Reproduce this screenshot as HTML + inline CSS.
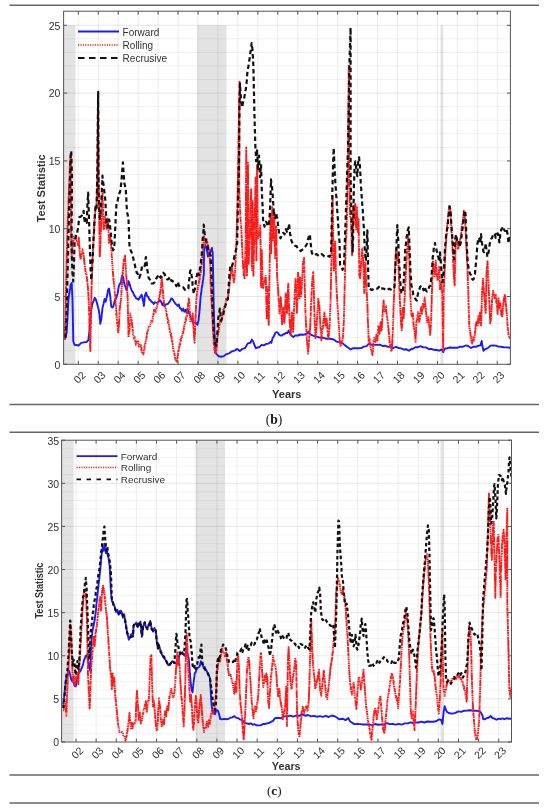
<!DOCTYPE html>
<html><head><meta charset="utf-8"><style>
html,body{margin:0;padding:0;background:#fff;}
body{width:550px;height:810px;overflow:hidden;}
svg{display:block;filter:blur(0.3px);}
text{font-family:"Liberation Sans",sans-serif;fill:#333;}
.tl{font-size:10px;}
.yl{font-size:10.5px;}
.lg{font-size:10px;}
.ax{font-size:10.5px;font-weight:bold;}
.cap{font-family:"Liberation Serif",serif;fill:#1a1a1a;}
</style></head><body>
<svg width="550" height="810" viewBox="0 0 550 810">
<defs>
<clipPath id="clipc1"><rect x="63.6" y="11.2" width="446.80" height="353.10"/></clipPath>
<clipPath id="clipc2"><rect x="61.6" y="440.2" width="449.90" height="301.80"/></clipPath>
</defs>
<rect width="550" height="810" fill="#fff"/>
<line x1="9.5" x2="539" y1="5.3" y2="5.3" stroke="#666" stroke-width="1.4"/>
<line x1="9.5" x2="539" y1="404.5" y2="404.5" stroke="#666" stroke-width="1.4"/>
<line x1="9.5" x2="539" y1="432.3" y2="432.3" stroke="#666" stroke-width="1.4"/>
<line x1="9.5" x2="539" y1="775" y2="775" stroke="#666" stroke-width="1.4"/>
<line x1="9.5" x2="539" y1="803" y2="803" stroke="#666" stroke-width="1.4"/>
<rect x="63.6" y="25.30" width="11.90" height="339.00" fill="#e3e3e3"/>
<rect x="197.2" y="25.30" width="29.30" height="339.00" fill="#e3e3e3"/>
<rect x="440.5" y="25.30" width="2.80" height="339.00" fill="#e3e3e3"/>
<line x1="63.6" x2="510.4" y1="350.74" y2="350.74" stroke="#000" stroke-opacity="0.065" stroke-width="0.9"/>
<line x1="63.6" x2="510.4" y1="337.18" y2="337.18" stroke="#000" stroke-opacity="0.065" stroke-width="0.9"/>
<line x1="63.6" x2="510.4" y1="323.62" y2="323.62" stroke="#000" stroke-opacity="0.065" stroke-width="0.9"/>
<line x1="63.6" x2="510.4" y1="310.06" y2="310.06" stroke="#000" stroke-opacity="0.065" stroke-width="0.9"/>
<line x1="63.6" x2="510.4" y1="296.50" y2="296.50" stroke="#000" stroke-opacity="0.1" stroke-width="0.9"/>
<line x1="63.6" x2="510.4" y1="282.94" y2="282.94" stroke="#000" stroke-opacity="0.065" stroke-width="0.9"/>
<line x1="63.6" x2="510.4" y1="269.38" y2="269.38" stroke="#000" stroke-opacity="0.065" stroke-width="0.9"/>
<line x1="63.6" x2="510.4" y1="255.82" y2="255.82" stroke="#000" stroke-opacity="0.065" stroke-width="0.9"/>
<line x1="63.6" x2="510.4" y1="242.26" y2="242.26" stroke="#000" stroke-opacity="0.065" stroke-width="0.9"/>
<line x1="63.6" x2="510.4" y1="228.70" y2="228.70" stroke="#000" stroke-opacity="0.1" stroke-width="0.9"/>
<line x1="63.6" x2="510.4" y1="215.14" y2="215.14" stroke="#000" stroke-opacity="0.065" stroke-width="0.9"/>
<line x1="63.6" x2="510.4" y1="201.58" y2="201.58" stroke="#000" stroke-opacity="0.065" stroke-width="0.9"/>
<line x1="63.6" x2="510.4" y1="188.02" y2="188.02" stroke="#000" stroke-opacity="0.065" stroke-width="0.9"/>
<line x1="63.6" x2="510.4" y1="174.46" y2="174.46" stroke="#000" stroke-opacity="0.065" stroke-width="0.9"/>
<line x1="63.6" x2="510.4" y1="160.90" y2="160.90" stroke="#000" stroke-opacity="0.1" stroke-width="0.9"/>
<line x1="63.6" x2="510.4" y1="147.34" y2="147.34" stroke="#000" stroke-opacity="0.065" stroke-width="0.9"/>
<line x1="63.6" x2="510.4" y1="133.78" y2="133.78" stroke="#000" stroke-opacity="0.065" stroke-width="0.9"/>
<line x1="63.6" x2="510.4" y1="120.22" y2="120.22" stroke="#000" stroke-opacity="0.065" stroke-width="0.9"/>
<line x1="63.6" x2="510.4" y1="106.66" y2="106.66" stroke="#000" stroke-opacity="0.065" stroke-width="0.9"/>
<line x1="63.6" x2="510.4" y1="93.10" y2="93.10" stroke="#000" stroke-opacity="0.1" stroke-width="0.9"/>
<line x1="63.6" x2="510.4" y1="79.54" y2="79.54" stroke="#000" stroke-opacity="0.065" stroke-width="0.9"/>
<line x1="63.6" x2="510.4" y1="65.98" y2="65.98" stroke="#000" stroke-opacity="0.065" stroke-width="0.9"/>
<line x1="63.6" x2="510.4" y1="52.42" y2="52.42" stroke="#000" stroke-opacity="0.065" stroke-width="0.9"/>
<line x1="63.6" x2="510.4" y1="38.86" y2="38.86" stroke="#000" stroke-opacity="0.065" stroke-width="0.9"/>
<line x1="63.6" x2="510.4" y1="25.30" y2="25.30" stroke="#000" stroke-opacity="0.1" stroke-width="0.9"/>
<line x1="63.6" x2="510.4" y1="11.74" y2="11.74" stroke="#000" stroke-opacity="0.065" stroke-width="0.9"/>
<line x1="78.30" x2="78.30" y1="11.2" y2="364.3" stroke="#000" stroke-opacity="0.085" stroke-width="0.9"/>
<line x1="98.25" x2="98.25" y1="11.2" y2="364.3" stroke="#000" stroke-opacity="0.085" stroke-width="0.9"/>
<line x1="118.20" x2="118.20" y1="11.2" y2="364.3" stroke="#000" stroke-opacity="0.085" stroke-width="0.9"/>
<line x1="138.15" x2="138.15" y1="11.2" y2="364.3" stroke="#000" stroke-opacity="0.085" stroke-width="0.9"/>
<line x1="158.10" x2="158.10" y1="11.2" y2="364.3" stroke="#000" stroke-opacity="0.085" stroke-width="0.9"/>
<line x1="178.05" x2="178.05" y1="11.2" y2="364.3" stroke="#000" stroke-opacity="0.085" stroke-width="0.9"/>
<line x1="198.00" x2="198.00" y1="11.2" y2="364.3" stroke="#000" stroke-opacity="0.085" stroke-width="0.9"/>
<line x1="217.95" x2="217.95" y1="11.2" y2="364.3" stroke="#000" stroke-opacity="0.085" stroke-width="0.9"/>
<line x1="237.90" x2="237.90" y1="11.2" y2="364.3" stroke="#000" stroke-opacity="0.085" stroke-width="0.9"/>
<line x1="257.85" x2="257.85" y1="11.2" y2="364.3" stroke="#000" stroke-opacity="0.085" stroke-width="0.9"/>
<line x1="277.80" x2="277.80" y1="11.2" y2="364.3" stroke="#000" stroke-opacity="0.085" stroke-width="0.9"/>
<line x1="297.75" x2="297.75" y1="11.2" y2="364.3" stroke="#000" stroke-opacity="0.085" stroke-width="0.9"/>
<line x1="317.70" x2="317.70" y1="11.2" y2="364.3" stroke="#000" stroke-opacity="0.085" stroke-width="0.9"/>
<line x1="337.65" x2="337.65" y1="11.2" y2="364.3" stroke="#000" stroke-opacity="0.085" stroke-width="0.9"/>
<line x1="357.60" x2="357.60" y1="11.2" y2="364.3" stroke="#000" stroke-opacity="0.085" stroke-width="0.9"/>
<line x1="377.55" x2="377.55" y1="11.2" y2="364.3" stroke="#000" stroke-opacity="0.085" stroke-width="0.9"/>
<line x1="397.50" x2="397.50" y1="11.2" y2="364.3" stroke="#000" stroke-opacity="0.085" stroke-width="0.9"/>
<line x1="417.45" x2="417.45" y1="11.2" y2="364.3" stroke="#000" stroke-opacity="0.085" stroke-width="0.9"/>
<line x1="437.40" x2="437.40" y1="11.2" y2="364.3" stroke="#000" stroke-opacity="0.085" stroke-width="0.9"/>
<line x1="457.35" x2="457.35" y1="11.2" y2="364.3" stroke="#000" stroke-opacity="0.085" stroke-width="0.9"/>
<line x1="477.30" x2="477.30" y1="11.2" y2="364.3" stroke="#000" stroke-opacity="0.085" stroke-width="0.9"/>
<line x1="497.25" x2="497.25" y1="11.2" y2="364.3" stroke="#000" stroke-opacity="0.085" stroke-width="0.9"/>
<g clip-path="url(#clipc1)">
<polyline points="64.8,339.5 65.7,336.7 66.6,332.8 66.8,330.7 66.9,327.5 67.1,325.5 67.2,322.3 67.4,320.2 67.5,317.0 67.6,314.9 67.8,311.7 67.9,309.5 68.1,306.3 68.2,304.4 68.3,301.1 68.5,298.9 68.9,295.6 69.3,293.8 69.8,290.3 70.2,288.4 70.6,284.9 71.7,282.9 71.8,284.9 71.9,288.3 72.1,290.5 72.2,293.6 72.3,295.7 72.5,299.1 72.5,301.1 72.6,304.3 72.6,306.2 72.7,309.6 72.7,311.6 72.8,314.8 72.8,317.0 72.9,320.2 72.9,322.1 73.0,325.5 73.0,327.6 73.1,330.9 73.1,332.8 73.2,336.1 73.2,338.0 73.3,341.5 74.6,344.8 78.6,345.5 81.2,342.9 83.9,342.4 86.5,342.0 88.4,340.1 88.7,336.7 89.0,334.8 89.4,331.7 89.5,329.9 89.7,326.7 89.9,324.7 90.1,321.6 90.3,319.7 90.5,316.3 90.8,314.2 91.2,310.4 91.5,308.3 92.6,303.2 93.7,300.7 94.8,297.8 95.9,299.6 97.0,303.2 98.1,307.4 98.6,309.3 99.2,312.8 99.5,314.9 99.7,318.2 100.0,320.2 100.3,323.8 101.4,318.5 101.6,316.5 101.9,313.1 102.2,311.1 102.5,307.8 103.5,304.0 104.6,299.0 105.7,301.7 106.8,296.9 107.4,294.3 107.9,290.3 109.0,288.6 109.5,291.3 110.1,295.4 110.4,297.4 110.6,300.7 110.9,302.7 111.2,306.3 112.3,307.6 113.4,306.3 114.5,301.2 115.5,299.6 116.6,296.8 117.7,293.2 118.3,289.0 118.8,286.4 119.9,283.7 121.0,282.1 121.5,278.3 122.1,275.6 123.2,277.1 123.7,281.0 124.3,283.8 125.4,286.5 126.5,290.2 127.5,286.5 128.6,281.3 129.7,284.4 130.8,288.0 131.9,290.9 133.0,292.3 134.1,295.1 135.2,296.6 136.3,298.6 137.4,298.8 138.5,299.7 139.6,297.9 140.6,296.3 141.7,294.7 142.8,299.7 143.4,302.3 143.9,306.0 144.2,302.8 144.5,300.6 144.7,297.3 145.0,295.1 146.1,292.5 147.2,296.2 148.3,296.9 149.4,299.6 150.5,300.2 151.6,301.9 152.6,302.2 153.7,303.9 154.8,302.3 157.0,302.9 159.2,301.2 160.3,300.6 161.4,302.1 162.5,305.2 163.6,303.3 164.6,306.2 165.7,304.5 167.9,303.9 170.1,301.2 171.2,298.5 172.3,298.8 173.4,300.6 174.5,302.3 175.6,304.1 176.6,304.4 177.7,306.1 178.8,304.4 179.9,308.2 181.0,308.7 182.1,310.7 183.2,308.6 184.3,311.7 185.4,309.9 186.5,312.7 187.6,308.8 188.6,312.8 189.7,314.2 190.8,317.2 191.9,319.7 193.0,322.5 194.1,322.8 195.2,322.7 196.3,322.8 197.4,324.8 198.5,320.7 198.7,318.8 199.0,315.4 199.3,313.3 199.6,309.9 199.8,307.8 200.0,304.7 200.2,302.6 200.4,299.4 200.6,297.5 201.0,293.7 201.4,291.6 201.7,287.9 202.3,285.6 202.8,281.3 203.2,279.2 203.6,275.7 203.9,273.4 203.9,270.1 203.9,267.8 203.9,264.4 203.9,262.5 204.0,258.8 204.0,256.8 204.0,253.3 204.0,251.3 204.6,248.0 205.3,246.0 206.6,247.7 207.1,251.3 207.5,253.1 208.0,256.5 209.3,253.3 210.6,251.3 211.9,247.9 212.3,251.3 212.7,253.0 212.8,256.5 212.8,258.5 212.9,262.0 212.9,263.7 213.0,267.1 213.0,269.2 213.1,272.4 213.1,274.3 213.2,277.9 213.2,279.8 213.3,283.2 213.3,284.9 213.4,288.4 213.4,290.4 213.5,293.7 213.5,295.8 213.6,298.9 213.6,300.8 213.7,304.4 213.7,306.3 213.8,309.8 213.9,311.6 214.0,315.0 214.0,316.8 214.1,320.2 214.2,322.3 214.3,325.5 214.4,327.6 214.4,330.9 214.5,332.9 214.6,336.1 214.7,338.2 214.9,341.6 215.0,343.5 215.1,346.8 215.3,348.7 215.4,352.2 216.5,354.1 218.6,356.2 221.2,356.7 223.9,356.1 226.6,354.1 229.2,353.3 231.9,351.4 234.5,350.7 237.2,348.9 239.8,350.9 242.5,348.8 245.1,348.1 247.8,343.4 250.4,342.8 251.8,339.5 253.1,341.5 254.4,344.8 255.8,348.2 257.9,347.5 259.7,346.8 261.6,344.8 263.7,345.4 266.4,343.9 268.5,343.6 270.4,342.1 271.3,342.9 272.6,338.0 274.0,336.2 275.3,332.8 276.6,332.2 278.0,332.8 279.3,334.9 280.6,335.5 281.9,335.6 283.3,334.2 284.6,334.2 285.9,332.8 287.3,333.1 288.6,330.6 289.9,333.4 291.2,335.5 293.4,337.1 295.2,335.4 297.9,335.5 300.5,334.5 303.2,334.8 305.8,334.3 307.2,333.4 308.5,331.6 309.8,334.1 312.5,335.4 315.1,336.3 317.8,336.9 320.4,337.8 323.1,337.6 325.8,338.7 328.4,338.5 331.1,339.0 333.7,339.5 336.4,341.6 339.0,342.1 341.7,343.3 342.6,343.3 345.3,345.6 348.0,347.5 350.6,349.4 353.3,348.2 355.9,348.1 358.6,348.3 361.2,348.1 363.9,346.6 366.6,346.1 369.2,343.4 371.9,344.9 374.5,344.9 377.2,344.9 379.8,344.7 382.5,346.0 385.1,345.7 387.8,346.9 390.4,346.5 393.1,348.3 395.8,346.7 398.4,348.0 401.1,348.4 403.7,349.5 406.4,349.3 409.0,350.7 411.7,348.8 412.6,349.0 415.3,347.3 418.0,347.2 420.6,346.2 423.3,347.4 425.9,347.4 428.6,349.0 431.2,348.9 433.9,349.8 436.6,350.0 439.2,350.7 441.9,349.4 443.2,352.2 444.5,348.7 447.2,348.2 449.8,347.5 452.5,347.7 455.1,347.6 457.8,347.7 460.4,346.6 463.1,346.7 465.8,345.5 467.1,345.6 468.4,346.2 471.1,348.0 473.7,346.6 476.4,346.7 478.5,345.7 480.4,345.4 481.7,340.9 482.1,344.0 482.5,346.1 483.5,350.7 485.1,349.2 487.8,348.1 490.4,345.6 493.1,345.4 495.8,345.6 498.4,346.6 501.1,346.7 503.7,347.2 506.4,347.4 510.4,347.8" fill="none" stroke="#1a1aff" stroke-width="1.9" stroke-linejoin="round"/>
<polyline points="64.8,338.7 64.8,339.8 64.9,335.5 64.9,336.8 64.9,332.2 65.0,333.1 65.0,329.9 65.0,331.1 65.1,326.6 65.1,327.3 65.1,322.7 65.2,324.6 65.2,319.9 65.3,321.6 65.3,317.1 65.3,318.2 65.4,314.1 65.4,316.0 65.4,311.2 65.5,312.8 65.5,308.0 65.5,309.0 65.6,304.9 65.6,306.6 65.7,302.4 65.7,302.9 65.7,298.7 65.8,300.4 65.8,295.9 65.8,297.9 65.9,292.9 65.9,294.9 65.9,290.2 66.0,291.8 66.0,287.2 66.1,288.9 66.1,283.6 66.1,284.9 66.2,281.5 66.2,282.0 66.2,277.5 66.3,279.3 66.3,274.9 66.3,276.1 66.4,272.0 66.4,273.2 66.4,269.2 66.5,270.4 66.5,265.9 66.6,267.7 66.6,262.7 66.6,264.8 66.7,259.5 66.7,261.8 66.7,256.7 66.8,257.8 66.8,253.5 66.8,255.7 66.9,250.4 66.9,252.3 67.0,247.6 67.0,248.8 67.0,244.4 67.1,246.2 67.1,242.1 67.1,242.6 67.2,238.4 67.2,240.7 67.2,236.3 67.3,237.4 67.3,232.9 67.4,233.6 67.4,230.0 67.4,231.4 67.5,226.3 67.5,227.5 67.6,223.6 67.7,224.5 67.7,220.5 67.8,221.8 67.8,217.3 67.9,219.6 68.0,214.7 68.0,216.6 68.1,212.0 68.1,212.5 68.2,208.6 68.2,209.5 68.3,206.1 68.4,206.9 68.4,202.6 68.5,203.6 68.5,200.3 68.6,201.5 68.6,197.0 68.7,198.6 68.8,193.3 68.8,194.9 68.9,190.8 68.9,192.1 69.0,187.6 69.0,189.1 69.1,184.7 69.2,186.2 69.2,181.2 69.3,183.0 69.3,178.8 69.4,180.3 69.5,176.0 69.5,176.8 69.6,172.2 69.6,174.0 69.7,169.7 69.7,170.4 69.8,166.8 69.9,168.1 69.9,164.3 70.0,165.2 70.0,160.6 70.1,161.5 70.3,157.5 70.4,158.9 70.6,154.4 70.6,158.7 70.6,157.4 70.6,162.2 70.6,161.2 70.6,164.4 70.7,163.5 70.7,168.6 70.7,167.0 70.7,171.0 70.7,169.6 70.7,173.8 70.7,172.9 70.7,176.9 70.7,176.0 70.7,180.2 70.7,179.1 70.8,183.0 70.8,181.5 70.8,185.6 70.8,184.8 70.8,189.5 70.8,188.1 70.8,191.9 70.8,190.6 70.8,194.9 70.8,194.3 70.8,198.2 70.9,196.8 70.9,200.8 70.9,200.2 70.9,204.1 70.9,202.6 70.9,207.3 70.9,205.6 70.9,210.0 70.9,209.3 70.9,213.6 71.0,211.7 71.0,216.4 71.0,215.5 71.0,219.0 71.0,218.1 71.0,222.1 71.0,220.8 71.0,225.9 71.0,224.6 71.0,228.3 71.0,226.9 71.1,231.8 71.1,229.9 71.1,234.4 71.1,233.8 71.2,237.4 71.2,236.1 71.3,240.5 71.3,239.7 71.3,243.8 71.4,242.7 71.4,246.8 71.5,245.2 71.5,249.6 71.6,249.4 71.6,253.7 71.7,251.4 71.7,256.8 71.9,251.9 72.0,253.7 72.2,248.3 72.3,249.7 72.5,245.4 72.6,247.4 72.8,242.4 73.1,243.8 73.3,239.6 73.6,240.4 73.9,236.5 75.0,236.3 76.0,236.0 76.6,240.8 77.1,240.1 77.7,244.9 78.2,244.3 78.4,246.2 78.5,241.0 78.7,243.2 78.8,237.8 79.0,242.7 79.1,242.0 79.2,246.0 79.3,244.9 79.5,248.6 79.6,247.4 79.7,251.9 79.9,250.9 80.1,255.9 80.2,254.1 80.4,258.6 80.6,258.0 81.0,258.8 81.4,253.4 82.0,254.4 82.5,249.3 83.1,253.7 83.6,253.4 83.8,258.1 83.9,256.9 84.1,261.2 84.2,259.1 84.4,264.3 84.5,262.3 84.7,266.4 85.0,265.7 85.2,270.7 85.5,269.6 85.8,273.2 86.3,273.1 86.8,277.8 87.0,276.6 87.1,280.9 87.3,279.3 87.5,283.4 87.6,283.3 87.8,286.6 87.9,286.3 88.0,289.6 88.1,288.3 88.2,293.6 88.3,292.4 88.4,296.2 88.4,295.1 88.5,299.0 88.6,298.1 88.7,302.4 88.8,300.8 88.8,305.1 88.9,304.4 88.9,308.1 89.0,307.5 89.0,311.4 89.1,309.8 89.1,314.3 89.2,313.6 89.2,317.1 89.3,316.3 89.3,320.6 89.4,318.9 89.4,323.4 89.5,321.9 89.5,326.8 89.6,325.4 89.7,329.5 89.7,328.4 89.7,333.0 89.8,331.6 89.8,336.1 89.9,334.6 89.9,338.6 90.0,337.6 90.0,342.2 90.1,341.3 90.1,345.0 90.2,343.9 90.2,348.6 90.3,346.4 90.3,351.1 90.3,346.5 90.4,348.6 90.4,344.2 90.4,345.2 90.5,341.4 90.5,342.6 90.5,337.7 90.6,339.6 90.6,334.5 90.6,336.3 90.7,331.5 90.7,333.2 90.7,329.3 90.8,330.2 90.8,326.4 90.8,326.6 90.9,322.4 90.9,323.5 90.9,320.2 91.0,320.5 91.0,316.2 91.0,317.5 91.0,314.2 91.1,315.3 91.1,311.0 91.1,312.2 91.2,307.2 91.2,309.1 91.2,303.8 91.3,305.7 91.3,300.9 91.3,301.9 91.4,297.8 91.4,299.4 91.4,294.8 91.4,295.9 91.5,291.7 91.5,293.8 91.5,289.4 91.6,289.9 91.6,285.7 91.6,287.5 91.7,283.0 91.7,283.6 91.8,279.9 91.8,281.0 91.9,276.2 91.9,277.7 92.0,273.6 92.0,274.6 92.1,270.6 92.1,271.5 92.1,267.8 92.2,268.6 92.2,263.6 92.3,265.4 92.4,260.8 92.5,262.0 92.5,257.8 92.6,259.6 92.7,254.7 92.8,256.2 92.9,251.9 92.9,253.3 93.0,248.3 93.1,249.6 93.2,246.2 93.2,247.3 93.3,242.1 93.4,243.9 93.5,239.6 93.6,241.0 93.6,236.8 93.7,237.4 93.8,233.7 93.9,234.7 93.9,230.5 94.0,231.2 94.1,226.9 94.2,229.0 94.2,224.3 94.3,225.6 94.4,221.1 94.5,222.7 94.6,217.9 94.7,219.0 94.8,215.3 94.9,215.7 95.0,212.0 95.2,213.1 95.3,209.3 95.4,210.0 95.5,206.1 96.1,206.9 96.6,202.1 96.7,203.5 96.7,198.6 96.7,200.0 96.8,195.5 96.8,197.1 96.8,192.0 96.9,193.7 96.9,189.3 96.9,190.8 97.0,185.8 97.0,187.3 97.0,182.8 97.1,184.9 97.1,180.1 97.1,180.9 97.2,177.2 97.2,178.4 97.2,173.6 97.3,175.6 97.3,170.3 97.3,171.7 97.4,168.0 97.4,168.6 97.4,164.9 97.4,166.0 97.5,161.0 97.5,163.2 97.5,158.7 97.5,160.1 97.5,155.6 97.5,156.5 97.5,152.0 97.5,153.1 97.6,149.7 97.6,150.9 97.6,146.4 97.6,147.3 97.6,143.0 97.6,144.6 97.6,140.6 97.6,141.1 97.6,137.1 97.7,138.2 97.7,134.3 97.7,135.3 97.7,130.3 97.7,132.0 97.7,127.7 97.7,128.6 97.7,125.0 97.8,126.2 97.8,122.1 97.8,123.4 97.8,118.1 97.8,119.4 97.8,115.0 97.8,116.7 97.8,112.2 97.9,114.1 97.9,109.7 97.9,110.9 97.9,106.2 97.9,108.0 97.9,103.6 97.9,104.9 97.9,99.7 98.0,101.7 98.0,97.1 98.0,98.0 98.0,94.1 98.0,95.2 98.0,93.9 98.0,98.7 98.0,97.1 98.0,101.1 98.1,100.0 98.1,104.7 98.1,103.6 98.1,108.0 98.1,106.1 98.1,110.2 98.1,108.8 98.1,113.2 98.2,112.6 98.2,117.0 98.2,115.3 98.2,119.8 98.2,118.3 98.2,122.7 98.2,121.7 98.2,125.4 98.3,125.1 98.3,129.1 98.3,127.3 98.3,132.0 98.3,130.3 98.3,134.8 98.3,133.9 98.3,137.8 98.3,136.3 98.4,140.5 98.4,139.7 98.4,143.8 98.4,142.5 98.4,146.9 98.4,146.0 98.4,150.0 98.4,148.8 98.5,153.5 98.5,152.1 98.5,156.7 98.5,155.4 98.5,159.0 98.5,158.5 98.5,161.9 98.5,160.7 98.6,165.6 98.6,164.5 98.6,168.0 98.6,167.2 98.6,171.7 98.6,169.8 98.6,174.8 98.6,173.1 98.7,177.1 98.7,176.4 98.7,180.2 98.7,179.3 98.7,183.7 98.7,182.7 98.7,186.4 98.7,185.0 98.7,189.1 98.8,188.1 98.8,193.2 98.8,190.9 98.8,195.6 98.9,194.4 98.9,198.9 98.9,197.3 98.9,202.4 99.0,200.3 99.0,204.6 99.0,203.1 99.0,207.8 99.0,206.4 99.1,211.1 99.1,210.1 99.1,214.2 99.1,212.4 99.2,216.9 99.2,215.5 99.2,219.8 99.2,219.0 99.3,222.9 99.3,222.2 99.3,225.9 99.3,224.4 99.4,228.9 99.4,227.6 99.4,232.5 99.4,230.2 99.5,234.5 99.5,233.3 99.5,238.1 99.5,237.2 99.6,240.8 99.6,240.0 99.6,243.5 99.6,242.7 99.7,247.5 99.7,246.0 99.7,250.5 99.7,248.5 99.7,252.6 99.8,251.3 99.8,256.2 99.8,254.3 99.9,256.3 99.9,251.5 100.0,252.9 100.1,248.4 100.1,250.5 100.2,245.3 100.3,246.9 100.3,242.3 100.4,243.9 100.5,240.1 100.5,240.4 100.6,237.1 100.6,237.5 100.7,234.0 100.8,234.8 100.8,230.3 100.9,231.8 101.0,227.6 101.0,228.9 101.1,224.7 101.2,225.7 101.2,221.1 101.3,222.6 101.3,218.8 101.4,220.1 101.5,215.1 101.5,216.5 101.6,212.5 101.7,213.6 101.7,209.2 101.8,210.2 101.8,206.8 101.9,207.2 102.0,202.9 102.0,204.1 102.1,200.2 102.2,201.1 102.2,197.5 102.3,198.0 102.3,194.2 102.4,195.0 102.5,191.6 102.5,195.0 102.6,194.6 102.6,198.5 102.7,197.8 102.7,201.0 102.8,200.4 102.9,204.6 102.9,203.2 103.0,207.3 103.0,206.7 103.1,210.8 103.1,210.2 103.2,214.6 103.2,213.1 103.3,216.6 103.4,215.9 103.4,219.8 103.5,218.8 103.5,223.1 103.6,222.5 103.6,225.9 103.7,224.9 103.7,229.2 103.8,227.9 104.0,229.3 104.1,224.4 104.3,225.8 104.5,221.9 104.6,222.5 104.8,217.9 105.0,219.6 105.1,215.2 105.3,218.9 105.5,218.1 105.6,223.3 105.8,221.5 106.0,225.5 106.1,225.5 106.3,228.9 106.5,228.6 106.6,229.0 106.8,225.7 107.0,226.7 107.2,221.7 107.4,223.1 107.6,218.6 107.8,220.4 107.9,218.8 108.0,224.1 108.0,221.9 108.1,226.2 108.2,225.8 108.3,230.1 108.4,228.2 108.5,232.7 108.6,232.2 108.7,236.8 108.8,235.6 108.8,239.4 108.9,238.5 109.0,242.9 109.1,241.0 109.4,242.3 109.6,238.0 109.9,239.8 110.2,234.7 110.4,236.4 110.5,234.6 110.6,239.2 110.7,238.2 110.8,242.1 110.9,240.8 111.0,245.4 111.1,244.4 111.2,248.1 111.3,246.9 111.4,251.6 111.5,250.0 111.6,254.4 111.7,253.3 111.8,257.2 111.9,256.1 112.0,260.1 112.1,259.5 112.2,264.1 112.3,262.3 112.4,266.4 112.5,265.9 112.7,270.4 112.8,268.6 112.9,273.5 113.0,271.4 113.1,276.1 113.3,274.6 113.4,279.8 113.6,278.5 113.8,282.6 113.9,282.2 114.1,286.0 114.3,284.4 114.4,289.0 114.6,288.2 114.7,292.2 114.8,291.9 115.0,296.0 115.1,294.9 115.2,298.5 115.4,298.2 115.5,302.4 115.6,300.9 115.8,304.8 115.9,304.4 116.0,309.0 116.1,307.6 116.2,311.6 116.3,310.4 116.4,315.0 116.5,313.3 116.6,318.1 116.7,316.5 116.8,320.5 117.0,320.0 117.1,323.4 117.3,322.3 117.5,326.5 117.6,326.3 117.8,330.6 118.0,329.1 118.2,333.5 118.4,332.3 118.5,332.9 118.6,328.9 118.7,330.2 118.8,325.3 118.8,326.8 118.9,321.9 119.0,323.9 119.1,319.2 119.2,320.4 119.3,315.9 119.4,316.6 119.5,312.3 119.6,314.0 119.6,309.1 119.7,310.3 119.9,306.3 120.1,307.6 120.3,303.1 120.5,304.1 120.7,300.5 120.9,301.6 121.1,297.8 121.2,298.6 121.2,293.9 121.3,295.4 121.4,291.0 121.5,292.6 121.6,288.5 121.7,289.3 121.8,284.5 121.9,286.2 122.0,282.2 122.1,282.9 122.2,279.4 122.3,279.9 122.4,275.5 122.5,277.5 122.6,272.4 122.8,274.6 122.9,269.5 123.0,271.4 123.2,266.4 123.3,267.6 123.4,262.7 123.6,265.0 123.7,259.6 124.2,261.1 124.6,256.2 125.0,257.5 125.1,255.7 125.2,261.1 125.3,259.6 125.4,264.2 125.5,262.8 125.6,266.2 125.7,265.1 125.8,269.5 125.9,268.4 126.0,272.9 126.1,272.0 126.2,276.1 126.3,274.8 126.4,278.7 126.5,277.7 126.6,282.1 126.7,280.3 126.7,284.6 126.8,284.1 126.9,287.7 127.0,286.7 127.1,290.5 127.2,290.1 127.3,294.3 127.4,292.5 127.5,297.6 127.6,295.2 127.7,300.5 127.7,299.0 127.8,302.8 127.8,302.1 127.8,306.2 127.9,305.0 127.9,309.4 127.9,308.3 128.0,312.9 128.0,311.5 128.0,315.5 128.1,313.8 128.1,319.0 128.1,317.6 128.2,321.4 128.2,320.1 128.2,324.2 128.3,324.0 128.3,328.0 128.3,326.6 128.4,330.6 128.4,330.3 128.4,333.8 128.5,332.5 128.5,337.2 128.8,332.1 129.2,334.0 129.6,328.5 129.6,329.8 129.7,326.3 129.8,326.5 129.9,322.8 129.9,323.8 130.0,320.1 130.1,320.8 130.2,316.9 130.3,317.4 130.3,313.5 130.8,318.1 131.2,316.8 131.7,321.0 131.8,320.7 132.0,324.5 132.2,323.3 132.3,328.1 132.5,326.3 132.7,331.6 132.8,330.4 133.0,334.1 133.2,334.1 134.0,338.9 134.8,337.1 135.1,342.0 135.5,340.6 135.8,344.9 136.6,341.5 137.4,342.0 138.1,341.3 138.7,346.5 139.3,344.6 140.6,346.5 141.0,345.2 141.3,350.3 141.6,348.3 141.9,353.3 143.3,353.1 143.5,354.2 143.8,350.2 144.1,350.6 144.3,346.4 144.6,348.4 145.0,343.2 145.5,344.2 145.9,339.9 146.2,340.9 146.5,336.2 146.7,337.7 147.0,332.8 147.3,334.2 147.7,330.2 148.1,331.1 148.6,326.6 149.9,327.0 151.2,320.8 152.6,321.8 152.8,316.6 153.1,317.2 153.4,313.1 153.7,314.3 154.1,309.7 154.4,310.4 155.2,310.3 155.7,312.1 156.1,307.5 156.6,308.2 157.9,302.7 158.3,303.6 158.8,298.6 159.2,300.6 159.5,295.5 159.7,296.5 160.0,292.0 160.3,293.3 160.5,289.4 160.7,290.9 160.8,286.3 161.0,287.0 161.2,282.4 161.3,284.7 161.5,279.8 161.7,280.5 161.9,276.3 162.0,279.9 162.1,279.4 162.2,283.9 162.3,282.6 162.4,286.1 162.5,285.5 162.7,288.9 162.8,288.1 162.9,292.8 163.0,290.8 163.1,295.7 163.2,293.8 163.3,297.9 163.4,297.5 163.7,302.2 163.9,301.0 164.1,304.6 164.3,303.6 164.5,307.7 165.8,307.8 166.1,311.7 166.4,311.4 166.6,316.0 166.9,314.7 167.2,319.1 167.6,318.0 168.0,322.8 168.5,320.9 168.8,325.7 169.0,324.8 169.3,328.2 169.6,327.2 169.8,331.5 170.3,331.3 170.7,335.8 171.2,334.0 171.4,338.3 171.7,337.1 171.9,342.0 172.2,340.9 172.5,344.7 172.7,344.1 173.0,349.0 173.3,347.4 173.5,351.1 173.8,350.8 174.2,354.5 174.7,354.1 175.1,359.0 175.6,357.9 176.0,361.6 176.5,360.4 177.2,361.7 177.5,356.2 177.7,357.6 177.9,353.7 178.1,355.3 178.3,350.4 178.7,351.6 179.0,347.0 179.4,347.3 179.7,343.5 180.1,344.6 180.4,339.4 180.9,340.8 181.3,336.2 181.8,337.3 183.1,331.8 183.4,333.0 183.6,328.2 183.9,329.4 184.2,325.3 184.4,327.1 184.9,321.6 185.3,322.7 185.8,317.9 186.2,319.9 186.6,315.4 187.1,315.7 187.2,312.0 187.4,312.3 187.6,307.8 187.7,309.5 187.9,304.8 188.1,306.0 188.3,302.6 188.5,303.7 188.7,298.5 188.9,300.6 189.0,298.6 189.2,303.1 189.3,301.5 189.4,305.6 189.5,304.8 189.6,309.1 189.7,308.3 189.8,312.5 189.9,311.4 190.0,315.7 190.1,314.7 190.2,318.8 190.3,318.0 190.4,322.4 190.5,320.6 191.6,321.8 191.9,316.3 192.3,318.2 192.7,313.4 192.8,318.2 192.9,316.7 193.0,320.3 193.1,319.6 193.2,324.2 193.3,322.9 193.4,327.3 193.5,326.2 193.6,330.9 193.7,329.2 193.8,333.4 193.9,332.1 194.1,336.9 194.2,334.6 194.3,339.5 194.4,338.3 194.5,342.7 194.6,338.7 194.7,339.3 194.7,334.5 194.8,336.5 194.9,332.3 195.0,333.4 195.1,328.7 195.1,330.4 195.2,325.6 195.3,326.3 195.4,322.2 195.4,323.9 195.5,319.2 195.6,320.8 195.6,315.7 195.7,317.1 195.7,313.1 195.8,314.1 195.9,309.9 195.9,310.8 196.0,306.4 196.1,308.3 196.1,303.4 196.2,304.3 196.2,300.7 196.3,301.5 196.4,297.1 196.6,298.1 196.7,294.7 196.9,295.3 197.1,291.5 197.3,291.9 197.5,288.1 197.7,289.9 198.1,284.8 198.6,286.2 199.0,280.9 199.3,282.9 199.6,277.7 199.8,279.3 200.1,274.7 200.3,275.7 200.5,271.4 200.7,273.0 200.9,268.8 201.1,270.6 201.3,266.0 201.5,266.7 201.7,262.4 201.8,264.0 202.0,259.9 202.2,260.0 202.3,256.3 202.5,256.7 202.7,252.4 202.8,253.6 203.0,249.8 203.1,250.5 203.2,246.1 203.4,247.2 203.5,242.7 203.6,244.2 203.7,239.6 203.9,240.2 204.0,235.6 204.4,241.0 204.9,240.2 205.3,244.2 206.6,238.6 207.1,244.0 207.5,242.9 208.0,246.4 208.4,246.0 208.8,250.4 209.3,249.0 209.4,254.2 209.5,252.7 209.6,256.7 209.7,255.4 209.9,260.3 210.0,258.9 210.1,262.8 210.1,262.1 210.2,266.1 210.2,265.2 210.2,269.5 210.3,267.6 210.3,272.1 210.4,271.2 210.4,274.7 210.4,273.8 210.5,278.5 210.5,276.7 210.5,280.8 210.6,279.2 210.6,284.3 210.7,282.9 210.8,287.0 210.9,286.4 210.9,291.0 211.0,289.7 211.1,293.7 211.2,292.3 211.3,296.7 211.3,295.3 211.4,300.6 211.5,298.4 211.6,303.5 211.7,302.4 211.7,305.9 211.8,305.3 211.9,309.4 212.0,308.8 212.1,313.2 212.1,311.9 212.2,316.4 212.3,314.2 212.4,318.6 212.4,317.2 212.5,321.9 212.6,321.1 212.7,324.7 212.7,324.4 212.8,328.1 212.9,327.0 213.0,331.6 213.0,329.5 213.1,333.7 213.2,333.0 213.3,337.1 213.4,336.3 213.5,340.0 213.6,339.3 213.7,343.5 213.8,342.2 214.0,345.9 214.1,345.4 214.3,349.5 214.6,348.5 214.9,352.8 215.9,352.8 216.1,353.9 216.2,349.6 216.4,351.2 216.6,347.0 216.7,348.1 216.8,343.6 216.9,344.9 217.1,340.4 217.2,341.9 217.3,337.5 217.4,338.2 217.5,334.1 217.9,335.9 218.2,330.9 218.6,332.0 218.8,327.8 219.1,329.2 219.4,324.1 219.6,325.2 219.9,320.8 221.2,321.9 221.7,316.9 222.1,318.4 222.6,313.2 223.0,313.8 223.4,309.4 223.9,310.5 224.3,305.8 224.8,307.2 225.2,303.0 225.7,303.6 226.1,298.6 226.6,300.0 227.9,297.2 228.1,299.0 228.2,294.3 228.4,295.5 228.6,291.1 228.8,292.9 229.0,288.5 229.2,289.0 229.4,284.7 229.5,286.2 229.7,281.9 229.9,283.3 230.0,277.9 230.2,279.5 230.4,274.4 230.5,276.6 230.8,271.5 231.1,272.7 231.3,269.2 231.6,270.0 231.9,265.1 232.0,269.5 232.2,268.5 232.4,272.8 232.6,271.8 232.8,276.0 233.0,274.4 233.2,278.7 233.4,278.3 233.7,282.4 234.0,281.5 234.1,282.9 234.3,278.7 234.4,279.5 234.6,275.6 234.7,276.4 234.9,272.1 235.0,273.0 235.1,269.7 235.2,270.5 235.3,266.5 235.3,267.5 235.4,263.5 235.5,263.9 235.6,260.0 235.6,261.9 235.7,256.6 235.8,258.4 235.9,254.2 235.9,254.8 236.0,251.3 236.1,252.1 236.1,247.4 236.2,248.8 236.2,244.4 236.3,246.3 236.3,242.1 236.4,243.0 236.4,238.4 236.5,239.9 236.5,235.9 236.6,237.3 236.6,233.3 236.7,233.9 236.7,229.4 236.7,231.6 236.8,226.7 236.8,228.8 236.9,224.5 236.9,225.5 237.0,220.7 237.0,221.9 237.1,218.0 237.1,219.8 237.2,215.2 237.2,216.6 237.2,212.3 237.3,213.4 237.3,209.1 237.3,210.1 237.3,205.9 237.4,207.5 237.4,202.4 237.4,204.0 237.5,199.4 237.5,200.8 237.5,196.2 237.6,197.6 237.6,193.5 237.6,194.9 237.7,190.6 237.7,191.2 237.7,187.8 237.7,188.8 237.8,184.7 237.8,185.9 237.8,181.3 237.9,183.1 237.9,177.8 237.9,179.8 238.0,175.3 238.0,175.9 238.0,172.1 238.0,173.7 238.1,168.6 238.1,170.1 238.1,166.6 238.1,168.0 238.2,162.9 238.2,164.4 238.2,159.9 238.2,161.0 238.3,157.1 238.3,158.6 238.3,154.0 238.3,155.0 238.4,151.6 238.4,152.6 238.4,147.7 238.4,149.0 238.4,145.7 238.5,145.9 238.5,141.8 238.5,143.3 238.5,139.2 238.6,141.0 238.6,136.0 238.6,137.1 238.6,132.9 238.7,133.8 238.7,130.4 238.7,131.7 238.7,127.5 238.8,127.9 238.8,124.1 238.8,125.2 238.8,120.6 238.9,121.9 238.9,117.8 238.9,119.3 238.9,114.8 239.0,116.4 239.0,111.9 239.0,113.2 239.0,109.4 239.1,110.4 239.1,105.8 239.1,107.2 239.1,103.4 239.2,104.3 239.2,100.6 239.2,101.2 239.2,97.0 239.3,98.5 239.3,94.0 239.3,95.2 239.3,91.7 239.4,91.8 239.4,88.3 239.4,89.0 239.4,85.0 239.5,86.1 239.5,81.8 239.5,83.5 239.5,81.9 239.5,86.7 239.5,85.1 239.5,89.4 239.5,88.4 239.5,92.0 239.5,90.9 239.5,95.5 239.5,94.7 239.5,99.1 239.5,97.2 239.5,101.8 239.5,100.4 239.5,104.2 239.5,102.8 239.5,107.3 239.4,106.6 239.4,111.3 239.4,109.9 239.4,113.8 239.4,112.5 239.4,116.5 239.4,115.0 239.4,119.7 239.4,119.2 239.4,122.9 239.4,122.2 239.4,126.2 239.4,124.2 239.4,129.4 239.4,128.2 239.4,132.2 239.4,130.9 239.4,135.0 239.4,134.0 239.4,137.8 239.4,137.2 239.4,141.3 239.4,140.3 239.4,144.7 239.4,143.4 239.4,147.7 239.4,146.3 239.4,149.7 239.4,148.6 239.4,153.3 239.4,151.7 239.4,156.3 239.4,154.9 239.4,158.8 239.3,157.8 239.3,162.4 239.3,160.5 239.3,164.8 239.3,164.6 239.3,168.7 239.3,166.6 239.3,171.4 239.3,169.9 239.3,174.6 239.3,173.4 239.3,177.5 239.3,176.1 239.3,180.0 239.3,179.5 239.3,183.9 239.3,182.6 239.3,186.6 239.3,185.7 239.3,189.5 239.3,188.2 239.4,193.1 239.4,191.0 239.5,195.9 239.5,195.0 239.6,198.8 239.7,198.3 239.7,201.8 239.8,200.8 239.9,205.4 239.9,204.3 240.0,208.0 240.0,207.6 240.1,211.1 240.2,210.3 240.2,214.4 240.3,212.9 240.3,217.8 240.5,216.8 240.6,221.0 240.7,220.5 240.9,224.7 241.0,223.0 241.1,227.6 241.3,226.3 241.4,230.8 241.5,230.1 241.5,233.8 241.6,233.3 241.7,237.4 241.7,235.9 241.8,240.7 241.8,239.6 241.9,243.9 242.0,242.3 242.0,246.5 242.1,245.4 242.2,249.7 242.2,248.9 242.3,252.8 242.3,251.5 242.4,256.3 242.5,254.3 242.6,258.8 242.7,257.4 242.8,262.6 242.9,260.7 243.0,265.9 243.1,264.5 243.2,268.8 243.4,266.7 243.5,271.1 243.6,270.2 243.7,275.2 243.8,273.6 244.6,279.2 244.6,274.0 244.7,275.7 244.7,271.9 244.8,272.5 244.8,268.1 244.9,269.7 244.9,265.7 245.0,266.7 245.0,262.0 245.1,263.5 245.1,260.1 245.2,261.4 245.2,256.7 245.2,257.7 245.3,252.9 245.3,254.6 245.4,251.0 245.4,252.3 245.5,247.8 245.5,248.5 245.6,244.0 245.6,245.5 245.7,241.0 245.7,242.6 245.7,238.7 245.7,239.4 245.7,235.4 245.7,236.8 245.7,232.5 245.7,233.7 245.7,229.6 245.7,231.1 245.8,225.8 245.8,227.9 245.8,222.9 245.8,224.1 245.8,220.6 245.8,221.2 245.8,217.7 245.8,219.1 245.8,213.7 245.8,216.0 245.8,211.1 245.8,212.0 245.9,208.2 245.9,208.9 245.9,204.6 245.9,206.1 245.9,202.4 245.9,203.9 245.9,199.4 245.9,200.9 245.9,196.3 245.9,197.5 245.9,193.5 246.0,194.8 246.0,190.1 246.0,191.1 246.0,186.8 246.0,188.3 246.0,184.2 246.0,184.7 246.0,180.8 246.0,181.6 246.0,177.4 246.0,178.9 246.1,175.2 246.1,175.9 246.1,172.2 246.1,172.8 246.1,168.7 246.1,169.9 246.1,165.9 246.1,166.7 246.1,162.7 246.1,164.3 246.1,159.7 246.2,161.3 246.2,156.6 246.2,157.4 246.2,154.0 246.2,155.3 246.2,150.6 246.2,151.7 246.2,147.5 246.2,149.2 246.2,147.7 246.2,151.7 246.3,150.7 246.3,154.3 246.3,153.5 246.3,157.8 246.3,156.6 246.3,160.8 246.3,159.6 246.3,164.2 246.3,163.0 246.3,167.5 246.3,166.1 246.4,170.4 246.4,169.1 246.4,173.3 246.4,172.0 246.4,175.5 246.4,174.7 246.4,179.4 246.4,177.3 246.4,182.5 246.4,180.2 246.4,184.5 246.5,183.9 246.5,187.6 246.5,186.5 246.5,191.0 246.5,189.5 246.5,194.5 246.5,192.2 246.5,197.4 246.5,195.4 246.5,200.2 246.5,199.4 246.5,203.7 246.6,202.4 246.6,205.7 246.6,204.5 246.6,209.0 246.6,207.7 246.6,211.7 246.6,211.3 246.6,215.5 246.6,214.5 246.6,218.3 246.6,216.5 246.7,221.0 246.7,219.8 246.7,224.6 246.7,222.9 246.7,227.7 246.7,225.8 246.7,229.8 246.7,229.5 246.7,233.4 246.7,231.5 246.7,236.1 246.8,235.0 246.8,239.0 246.8,237.7 246.8,242.4 246.8,241.1 246.8,245.7 246.8,244.6 246.8,248.8 246.8,246.9 246.8,252.0 246.8,250.5 246.8,254.2 246.9,253.7 246.9,258.0 246.9,256.3 246.9,260.5 246.9,259.3 246.9,263.8 246.9,262.5 246.9,266.4 246.9,265.0 246.9,270.0 246.9,268.6 247.0,272.2 247.0,270.9 247.0,276.0 247.0,274.3 247.0,275.6 247.0,270.8 247.0,272.6 247.0,268.7 247.0,269.1 247.1,265.5 247.1,266.7 247.1,262.4 247.1,264.1 247.1,259.1 247.1,260.5 247.1,256.0 247.1,257.6 247.2,253.1 247.2,254.5 247.2,250.1 247.2,251.4 247.2,246.7 247.2,248.1 247.2,243.8 247.3,245.2 247.3,240.7 247.3,241.9 247.3,238.1 247.3,239.3 247.3,234.8 247.3,236.0 247.3,232.3 247.4,232.8 247.4,228.9 247.4,230.3 247.4,226.5 247.4,226.8 247.4,223.3 247.4,224.7 247.5,219.9 247.5,221.2 247.5,217.1 247.5,218.3 247.5,213.4 247.5,215.3 247.5,211.4 247.5,212.0 247.6,207.8 247.6,208.5 247.6,204.4 247.6,205.8 247.6,202.0 247.6,203.1 247.6,198.6 247.6,200.0 247.7,195.2 247.7,197.0 247.7,192.8 247.7,193.4 247.7,189.5 247.7,190.7 247.7,186.5 247.8,187.7 247.8,184.1 247.8,184.3 247.8,180.9 247.8,181.3 247.8,177.1 247.8,178.9 247.8,174.8 247.9,176.0 247.9,171.3 247.9,172.2 247.9,168.1 247.9,169.4 247.9,164.8 247.9,166.2 247.9,162.6 248.0,163.3 248.0,161.9 248.0,167.0 248.0,165.3 248.0,169.2 248.0,168.5 248.0,172.9 248.0,171.9 248.0,176.2 248.1,174.0 248.1,179.2 248.1,177.2 248.1,181.9 248.1,179.9 248.1,184.5 248.1,183.7 248.1,187.3 248.1,186.9 248.2,191.2 248.2,190.0 248.2,194.1 248.2,192.7 248.2,197.3 248.2,195.3 248.2,200.1 248.2,198.2 248.2,202.4 248.3,201.9 248.3,205.8 248.3,204.7 248.3,209.2 248.3,207.2 248.3,212.3 248.3,210.2 248.3,215.2 248.3,213.9 248.4,218.0 248.4,216.4 248.4,221.4 248.4,219.9 248.4,223.9 248.4,222.6 248.4,226.8 248.4,225.3 248.4,229.5 248.5,228.6 248.5,233.1 248.5,232.2 248.5,236.2 248.5,234.9 248.5,239.7 248.5,237.4 248.5,242.3 248.5,240.5 248.6,245.7 248.6,244.3 248.6,248.6 248.6,246.5 248.6,251.8 248.6,249.7 248.6,254.2 248.6,253.3 248.6,257.5 248.7,256.4 248.7,260.6 248.7,258.9 248.7,263.7 248.7,262.2 248.8,263.1 248.8,258.6 248.9,260.5 248.9,256.2 249.0,257.4 249.0,253.1 249.1,254.4 249.1,249.9 249.2,251.0 249.2,246.4 249.3,248.7 249.3,243.6 249.4,244.9 249.4,241.3 249.5,242.5 249.5,237.5 249.6,239.3 249.6,235.2 249.7,236.4 249.7,231.8 249.8,233.0 249.8,228.7 249.9,230.0 249.9,225.6 250.0,227.4 250.0,222.2 250.1,223.6 250.1,219.6 250.2,221.6 250.2,216.5 250.3,218.1 250.3,213.3 250.4,214.4 250.4,210.3 250.5,212.1 250.5,207.5 250.6,208.7 250.6,204.5 250.7,205.4 250.7,201.6 250.8,202.6 250.8,198.0 250.9,200.2 250.9,195.6 251.0,197.1 251.0,192.7 251.1,193.8 251.1,189.9 251.2,191.2 251.2,189.2 251.2,194.1 251.2,193.0 251.2,197.2 251.2,196.2 251.3,200.0 251.3,198.6 251.3,202.4 251.3,201.8 251.3,206.4 251.3,204.5 251.3,208.8 251.4,207.4 251.4,211.9 251.4,210.3 251.4,215.0 251.4,214.3 251.4,218.7 251.4,217.4 251.5,220.9 251.5,219.6 251.5,223.7 251.5,222.9 251.5,227.7 251.5,225.9 251.5,230.1 251.6,228.7 251.6,233.7 251.6,232.0 251.6,236.5 251.6,235.3 251.6,239.3 251.6,237.5 251.7,243.0 251.7,241.8 251.7,245.1 251.7,244.5 251.7,248.9 251.7,247.6 251.7,251.2 251.8,250.0 251.8,254.2 251.8,252.8 251.8,257.6 251.8,255.9 251.8,261.1 251.8,259.8 251.9,264.1 251.9,262.5 251.9,266.4 251.9,266.0 251.9,270.0 251.9,265.4 251.9,266.5 252.0,262.1 252.0,263.4 252.0,259.5 252.0,260.2 252.0,256.6 252.0,258.1 252.1,253.4 252.1,254.2 252.1,250.6 252.1,251.8 252.1,247.6 252.1,249.1 252.2,244.8 252.2,246.0 252.2,241.1 252.2,242.9 252.2,238.4 252.2,239.0 252.3,235.6 252.3,236.6 252.3,232.7 252.3,233.0 252.3,228.8 252.3,230.9 252.4,225.7 252.4,227.8 252.4,223.0 252.4,224.8 252.4,219.8 252.4,221.4 252.5,217.1 252.5,217.7 252.5,214.5 252.5,215.0 252.5,211.0 252.5,211.8 252.6,207.3 252.6,209.3 252.6,204.6 252.6,206.6 252.6,202.2 252.7,203.6 252.7,201.3 252.7,205.9 252.7,205.3 252.7,209.5 252.7,207.4 252.7,212.6 252.8,211.0 252.8,215.3 252.8,214.4 252.8,217.9 252.8,217.1 252.8,221.6 252.8,220.5 252.9,224.8 252.9,223.6 252.9,227.9 252.9,226.3 252.9,230.7 252.9,228.7 253.0,233.9 253.0,232.1 253.0,236.6 253.0,235.3 253.0,239.8 253.0,238.6 253.0,242.9 253.1,241.0 253.1,244.9 253.1,243.6 253.1,248.3 253.1,247.7 253.1,251.2 253.2,250.8 253.2,254.3 253.2,253.0 253.2,258.1 253.2,256.1 253.2,261.0 253.2,258.9 253.3,263.9 253.3,262.4 253.3,266.3 253.3,265.7 253.3,269.7 253.3,268.7 253.4,273.0 253.4,271.6 253.4,275.8 253.4,274.3 253.4,275.8 253.5,271.8 253.5,272.3 253.5,268.1 253.6,269.3 253.6,265.1 253.6,267.1 253.7,262.4 253.7,264.1 253.7,259.1 253.8,261.0 253.8,256.1 253.8,257.8 253.9,252.9 253.9,254.0 253.9,250.1 254.0,251.5 254.0,247.1 254.0,248.5 254.1,243.5 254.1,245.6 254.2,240.6 254.2,241.8 254.2,237.7 254.3,239.4 254.3,234.4 254.3,235.6 254.4,232.3 254.4,233.7 254.4,229.0 254.5,230.3 254.5,225.7 254.5,226.9 254.6,222.8 254.6,224.1 254.6,219.1 254.7,221.0 254.7,216.3 254.7,217.7 254.8,213.4 254.8,215.0 254.8,210.3 254.9,212.3 254.9,208.1 254.9,209.4 255.0,204.4 255.0,205.5 255.0,201.5 255.1,202.3 255.1,198.8 255.1,200.1 255.2,195.1 255.2,197.1 255.2,192.8 255.3,193.2 255.3,189.5 255.3,190.6 255.4,186.0 255.4,187.3 255.4,183.0 255.5,184.6 255.5,180.5 255.6,181.8 255.6,177.7 255.6,178.6 255.6,177.5 255.6,180.9 255.7,180.2 255.7,184.5 255.7,183.0 255.7,187.3 255.7,185.7 255.7,190.9 255.7,189.6 255.8,192.9 255.8,191.7 255.8,196.4 255.8,195.7 255.8,199.2 255.8,198.0 255.8,202.2 255.9,201.4 255.9,205.8 255.9,204.5 255.9,208.8 255.9,206.8 255.9,212.0 255.9,210.2 255.9,214.8 256.0,213.6 256.0,217.8 256.0,216.2 256.0,220.8 256.0,219.4 256.0,224.0 256.0,222.8 256.1,227.0 256.1,224.9 256.1,229.2 256.1,228.7 256.1,233.3 256.1,232.0 256.1,236.2 256.2,234.4 256.2,238.3 256.2,237.3 256.2,241.2 256.2,240.1 256.2,244.6 256.2,243.0 256.3,248.3 256.3,247.0 256.3,250.8 256.3,250.0 256.3,254.2 256.3,253.1 256.3,256.4 256.3,256.1 256.4,260.4 256.4,255.9 256.4,256.7 256.4,252.6 256.4,253.9 256.4,249.7 256.4,251.4 256.4,246.7 256.5,247.8 256.5,243.1 256.5,244.5 256.5,240.9 256.5,242.2 256.5,237.7 256.5,239.2 256.5,234.0 256.6,235.6 256.6,231.6 256.6,232.2 256.6,227.9 256.6,229.6 256.6,225.5 256.6,226.2 256.6,222.6 256.6,224.0 256.7,219.7 256.7,220.6 256.7,216.1 256.7,217.6 256.7,213.2 256.7,214.4 256.7,210.6 256.7,211.9 256.8,206.7 256.8,208.5 256.8,204.4 256.8,205.9 256.8,201.5 256.8,202.0 256.8,197.9 256.8,199.8 256.8,195.0 256.9,195.9 256.9,191.5 256.9,192.9 256.9,189.2 256.9,190.9 256.9,185.6 256.9,187.6 256.9,183.5 257.0,184.7 257.0,180.1 257.0,180.6 257.0,176.6 257.0,178.7 257.0,174.4 257.0,175.1 257.0,170.4 257.1,171.9 257.1,168.1 257.1,169.5 257.1,164.9 257.1,166.7 257.1,164.4 257.1,169.5 257.1,167.6 257.2,171.8 257.2,170.6 257.2,175.3 257.2,173.9 257.2,178.3 257.2,177.1 257.3,180.8 257.3,179.4 257.3,184.1 257.3,183.4 257.3,187.8 257.3,186.0 257.3,190.5 257.4,189.2 257.4,192.9 257.4,192.2 257.4,196.7 257.4,195.3 257.4,199.8 257.4,198.3 257.5,202.9 257.5,201.5 257.5,205.3 257.5,204.6 257.5,208.0 257.5,207.1 257.6,211.3 257.6,210.1 257.6,214.1 257.6,213.4 257.6,217.3 257.6,215.7 257.6,220.0 257.7,219.3 257.7,224.0 257.7,222.2 257.7,226.3 257.7,224.7 257.7,229.1 257.7,228.7 257.8,232.0 257.8,231.4 257.8,236.1 257.8,234.6 257.8,238.4 257.8,237.0 258.1,238.1 258.5,234.9 258.8,235.7 259.1,231.7 259.4,232.5 259.7,228.5 260.0,229.5 260.3,224.6 260.3,229.3 260.3,228.3 260.4,232.5 260.4,230.9 260.4,234.9 260.4,234.4 260.4,238.3 260.5,237.2 260.5,241.2 260.5,240.0 260.5,244.2 260.5,242.8 260.6,247.4 260.6,246.6 260.6,250.1 260.6,249.8 260.6,253.3 260.7,251.9 260.7,256.6 260.7,255.5 260.7,260.3 260.7,257.9 260.7,263.1 260.8,261.8 260.8,265.6 260.8,264.5 260.8,268.6 260.8,267.7 260.9,271.5 260.9,270.9 260.9,275.2 260.9,273.5 260.9,277.9 261.0,276.7 261.0,281.1 261.0,279.5 261.0,283.5 261.0,282.3 261.1,287.0 261.1,283.0 261.1,284.6 261.1,279.5 261.2,280.9 261.2,277.3 261.2,278.0 261.3,273.8 261.3,274.9 261.3,271.2 261.4,272.1 261.4,268.0 261.4,269.4 261.5,264.7 261.5,265.8 261.5,261.3 261.6,263.0 261.6,259.2 261.6,259.8 261.7,256.3 261.7,256.9 261.7,252.2 261.8,254.5 261.8,249.5 261.8,253.6 261.9,253.1 261.9,256.8 262.0,256.0 262.0,260.4 262.0,259.5 262.1,263.3 262.1,262.1 262.2,266.6 262.2,264.8 262.2,269.4 262.3,268.1 262.3,272.3 262.4,271.4 262.4,275.8 262.4,274.9 262.5,278.8 262.5,277.5 262.6,281.5 262.6,280.9 262.7,285.3 262.7,283.8 262.7,287.6 262.8,287.0 263.1,288.0 263.5,283.8 263.9,284.7 264.3,280.8 264.6,281.5 265.0,277.5 265.4,278.9 265.7,274.9 265.8,278.9 265.8,277.7 265.9,282.4 265.9,280.1 265.9,284.5 266.0,283.5 266.0,287.9 266.0,287.3 266.1,291.6 266.1,289.5 266.1,294.6 266.2,292.9 266.2,298.0 266.3,296.1 266.3,300.7 266.3,299.1 266.4,304.1 266.4,302.0 266.4,306.5 266.5,305.8 266.5,309.9 266.5,308.5 266.6,312.8 266.6,311.3 266.7,316.5 266.7,314.6 266.7,319.2 266.8,314.6 266.8,315.7 266.9,311.3 266.9,312.5 267.0,308.1 267.0,310.0 267.1,305.7 267.1,306.3 267.2,302.2 267.3,303.5 267.3,299.0 267.4,300.0 267.4,295.7 267.5,297.3 267.5,293.1 267.6,294.5 267.6,289.7 267.7,291.0 267.7,287.0 267.8,291.1 267.8,290.4 267.8,293.9 267.9,292.5 267.9,296.8 268.0,296.5 268.0,300.8 268.0,299.2 268.1,303.5 268.1,302.1 268.2,306.8 268.2,305.5 268.3,309.9 268.3,309.0 268.3,313.1 268.4,311.7 268.4,315.9 268.5,314.8 268.5,319.2 268.5,317.8 268.6,322.1 268.6,320.9 268.7,325.4 268.7,323.5 268.7,324.7 268.7,320.5 268.8,322.6 268.8,318.1 268.8,318.7 268.8,314.2 268.9,316.6 268.9,312.2 268.9,313.4 268.9,308.2 269.0,309.7 269.0,305.4 269.0,306.8 269.0,302.4 269.1,304.0 269.1,299.7 269.1,300.5 269.1,296.5 269.2,298.2 269.2,293.9 269.2,294.4 269.2,291.2 269.3,291.7 269.3,287.1 269.3,289.2 269.3,284.2 269.4,286.2 269.4,282.1 269.4,282.8 269.4,278.1 269.4,280.3 269.5,275.0 269.5,277.3 269.5,272.3 269.5,274.2 269.6,269.1 269.6,270.8 269.6,267.1 269.6,267.6 269.7,264.1 269.7,264.6 269.7,260.4 269.7,261.5 269.8,257.7 269.8,258.2 269.8,254.5 269.8,255.6 269.9,251.1 269.9,253.0 269.9,248.7 269.9,249.1 269.9,245.6 270.0,246.9 270.0,241.8 270.0,243.4 270.0,238.5 270.1,239.6 270.1,235.3 270.1,236.9 270.1,232.6 270.2,233.9 270.2,229.4 270.2,230.7 270.2,226.8 270.2,227.5 270.3,223.2 270.3,224.7 270.3,220.8 270.3,221.5 270.4,217.2 270.4,218.4 270.4,214.1 270.4,215.9 270.5,214.0 270.5,218.9 270.5,217.5 270.6,222.1 270.6,219.9 270.6,224.8 270.6,224.0 270.7,227.3 270.7,226.3 270.7,231.3 270.8,229.4 270.8,234.0 270.8,232.7 270.9,236.6 270.9,235.7 270.9,240.8 271.0,239.3 271.0,243.4 271.0,241.6 271.0,246.5 271.1,245.3 271.1,249.1 271.1,247.9 271.2,253.0 271.2,247.7 271.2,249.3 271.3,244.8 271.3,246.7 271.4,242.1 271.4,243.5 271.4,239.0 271.5,239.7 271.5,236.3 271.5,237.2 271.6,232.3 271.6,233.3 271.6,230.0 271.7,230.5 271.7,226.7 271.8,227.9 271.8,223.7 271.8,224.6 271.9,220.1 271.9,221.2 271.9,216.6 272.0,218.2 272.0,213.9 272.1,215.4 272.1,211.0 272.1,211.7 272.2,207.2 272.2,212.4 272.3,210.8 272.3,215.2 272.4,213.8 272.4,218.1 272.5,217.6 272.5,221.5 272.6,219.7 272.6,224.1 272.7,222.8 272.7,227.5 272.8,225.9 272.8,231.1 272.9,229.8 272.9,233.6 273.0,232.2 273.0,237.6 273.1,235.4 273.1,240.3 273.2,235.8 273.3,237.4 273.3,232.4 273.4,234.4 273.5,229.9 273.5,231.3 273.6,226.0 273.6,227.9 273.7,224.1 273.8,224.4 273.8,220.2 273.9,221.6 274.0,216.8 274.0,218.7 274.1,214.0 274.1,215.1 274.2,214.2 274.2,218.8 274.2,216.8 274.3,222.1 274.3,220.6 274.3,224.7 274.4,222.8 274.4,227.2 274.4,227.0 274.5,230.4 274.5,229.3 274.5,233.7 274.6,232.3 274.6,237.3 274.6,235.3 274.7,239.4 274.7,238.5 274.7,243.4 274.8,241.5 274.8,246.6 274.8,244.5 274.9,249.3 274.9,247.5 275.0,252.3 275.0,251.5 275.0,255.1 275.1,253.5 275.1,258.2 275.1,257.2 275.2,258.8 275.2,253.8 275.3,255.7 275.3,251.0 275.4,252.3 275.4,248.5 275.4,248.9 275.5,245.3 275.5,246.2 275.6,241.8 275.6,242.6 275.7,238.6 275.7,239.6 275.8,235.9 275.8,236.4 275.9,232.7 275.9,233.5 276.0,229.1 276.0,230.7 276.1,226.2 276.1,227.8 276.1,226.8 276.2,231.3 276.2,229.9 276.2,234.0 276.3,232.6 276.3,237.7 276.3,235.6 276.4,239.6 276.4,239.0 276.4,243.8 276.5,241.6 276.5,246.2 276.5,245.5 276.5,249.1 276.6,247.9 276.6,252.1 276.6,250.8 276.7,255.3 276.7,254.1 276.7,258.9 276.8,257.7 276.8,261.8 276.8,260.4 276.9,264.6 276.9,263.6 276.9,268.1 276.9,266.1 277.0,270.8 277.0,270.2 277.0,274.1 277.1,272.7 277.1,277.2 277.2,275.5 277.3,280.0 277.4,279.1 277.5,283.5 277.7,282.6 277.8,286.6 277.9,285.5 278.0,289.6 278.1,288.2 278.2,293.5 278.3,291.1 278.4,295.7 278.5,294.9 278.6,299.6 278.7,298.3 278.8,301.6 278.9,301.3 279.0,305.7 279.1,303.8 279.2,308.1 279.3,307.4 279.4,311.7 279.5,309.3 279.6,314.5 279.7,309.3 279.8,311.0 280.0,306.7 280.1,307.3 280.3,303.4 280.4,303.9 280.5,300.1 280.7,300.5 280.8,297.2 280.9,301.4 280.9,299.2 281.0,304.3 281.1,302.8 281.1,306.9 281.2,305.6 281.3,310.3 281.4,308.9 281.4,313.0 281.5,311.7 281.6,316.4 281.6,314.9 281.7,318.4 281.8,317.9 281.8,322.5 281.9,321.2 282.0,325.2 282.0,324.2 282.2,324.7 282.3,320.5 282.4,321.4 282.5,317.6 282.6,318.8 282.7,314.5 282.8,315.9 282.9,310.8 283.0,312.2 283.2,307.8 283.3,309.6 283.4,308.0 283.5,312.7 283.7,311.4 283.8,316.2 284.0,314.5 284.1,318.9 284.2,317.8 284.4,322.7 284.5,321.4 284.6,323.0 284.6,318.4 284.7,319.5 284.8,315.0 284.8,316.4 284.9,312.3 285.0,313.4 285.0,309.3 285.1,310.1 285.2,305.8 285.2,307.2 285.3,302.2 285.4,304.4 285.4,299.8 285.5,301.2 285.5,296.4 285.6,297.6 285.7,293.8 285.7,294.9 285.8,293.5 285.9,297.3 286.0,296.5 286.1,300.2 286.2,299.5 286.3,303.4 286.4,302.3 286.5,306.5 286.6,305.1 286.7,310.2 286.8,307.9 286.9,312.6 287.0,311.2 287.0,313.0 287.1,308.1 287.2,309.4 287.2,305.6 287.3,306.8 287.4,301.9 287.4,303.1 287.5,298.8 287.6,299.7 287.6,295.5 287.7,297.6 287.8,292.2 287.8,293.5 287.9,289.4 288.0,291.2 288.0,286.9 288.1,287.9 288.1,283.7 288.2,284.3 288.3,283.9 288.3,287.4 288.4,285.9 288.4,290.7 288.5,289.0 288.5,294.2 288.6,292.7 288.6,297.1 288.7,294.9 288.7,299.8 288.8,298.5 288.9,302.3 288.9,301.4 289.0,305.5 289.0,304.6 289.1,308.9 289.1,307.2 289.2,311.4 289.2,310.8 289.3,314.7 289.3,313.1 289.4,317.9 289.4,316.2 289.6,321.2 289.7,319.2 289.8,323.8 289.9,322.4 290.0,327.2 290.1,326.0 290.2,329.8 290.3,329.1 290.5,333.6 290.6,331.8 290.7,336.2 290.8,332.0 290.9,332.8 290.9,328.8 291.0,330.1 291.1,325.4 291.2,327.4 291.3,323.1 291.4,324.3 291.5,319.8 291.6,321.1 291.6,315.6 291.7,317.1 291.8,313.3 291.9,313.8 292.0,312.5 292.1,317.6 292.2,315.4 292.3,320.7 292.4,319.2 292.5,323.7 292.6,322.2 292.7,326.2 292.8,325.2 292.9,329.7 293.0,328.4 293.1,332.5 293.1,331.1 293.2,332.8 293.3,328.2 293.3,329.3 293.4,325.0 293.4,326.3 293.5,321.7 293.6,322.8 293.6,319.3 293.7,319.7 293.7,316.0 293.8,317.6 293.9,312.7 293.9,314.3 294.0,309.3 294.0,311.4 294.1,307.0 294.1,307.7 294.2,303.6 294.3,304.6 294.3,300.5 294.4,301.4 294.5,297.6 294.6,299.0 294.6,294.6 294.7,295.1 294.8,290.9 294.9,292.0 295.0,287.5 295.1,289.3 295.2,284.3 295.3,286.1 295.4,281.6 295.4,282.6 295.5,279.0 295.6,280.2 295.7,278.7 295.7,282.2 295.8,280.9 295.8,285.7 295.9,284.3 295.9,289.2 296.0,287.1 296.0,291.4 296.1,290.7 296.2,294.9 296.2,293.2 296.3,297.4 296.3,296.7 296.4,300.7 296.4,299.9 296.5,304.1 296.5,302.2 296.6,306.3 296.6,305.3 296.7,309.8 296.7,308.9 296.8,312.7 296.9,311.1 296.9,312.7 296.9,308.1 297.0,309.4 297.0,304.8 297.1,306.8 297.1,302.3 297.2,303.0 297.2,299.5 297.3,300.0 297.3,296.3 297.4,297.1 297.4,293.5 297.5,294.3 297.5,290.6 297.6,291.2 297.6,287.1 297.7,288.0 297.7,284.0 297.8,285.9 297.8,280.8 297.9,282.9 297.9,278.5 297.9,279.5 298.0,275.3 298.0,276.8 298.1,271.9 298.2,276.5 298.2,274.7 298.3,278.9 298.4,278.6 298.5,282.8 298.6,280.8 298.6,285.5 298.7,284.8 298.8,288.0 298.9,287.0 298.9,291.9 299.0,290.6 299.1,295.0 299.2,293.2 299.2,297.3 299.3,296.3 299.4,298.4 299.4,293.0 299.5,295.1 299.5,290.4 299.6,291.6 299.6,287.6 299.7,288.7 299.7,283.7 299.8,285.0 299.8,281.3 299.9,281.6 299.9,277.7 300.0,279.3 300.1,277.6 300.2,282.3 300.3,281.0 300.3,284.6 300.4,284.0 300.5,287.7 300.6,286.3 300.7,290.9 300.8,290.0 300.8,294.3 300.9,292.9 301.0,297.6 301.1,292.5 301.2,294.4 301.4,289.7 301.5,290.7 301.6,286.5 301.7,288.2 301.8,282.7 301.9,284.5 302.0,280.1 302.1,280.8 302.2,276.5 302.3,278.3 302.4,273.9 302.4,274.6 302.5,270.7 302.6,272.2 302.7,267.8 302.7,268.5 302.8,264.4 302.9,265.6 303.0,261.9 303.1,262.0 304.1,257.8 304.1,262.3 304.2,261.0 304.2,264.7 304.2,264.4 304.3,268.1 304.3,267.0 304.4,271.4 304.4,269.9 304.5,274.6 304.5,274.1 304.6,277.5 304.6,276.9 304.6,281.3 304.7,279.7 304.7,284.6 304.8,283.1 304.8,287.0 304.8,285.8 304.9,290.3 304.9,289.7 305.0,293.4 305.0,292.4 305.0,297.0 305.1,295.8 305.1,299.7 305.2,299.3 305.2,303.2 305.2,301.6 305.3,305.7 305.3,305.2 305.3,309.6 305.4,307.8 305.4,311.9 305.5,310.5 305.5,315.7 305.6,313.9 305.7,318.3 305.7,316.7 305.8,321.5 305.9,320.2 306.0,325.2 306.0,323.0 306.1,327.3 306.2,327.0 306.3,330.6 306.4,330.2 306.5,334.7 306.6,333.0 306.7,337.5 306.8,336.5 306.9,340.7 307.0,339.6 307.1,344.3 307.3,343.0 307.5,347.8 307.6,345.9 307.8,351.2 308.0,349.4 308.1,353.8 308.3,349.9 308.4,351.4 308.5,346.8 308.6,347.9 308.7,343.8 308.8,345.1 308.9,340.5 309.1,341.3 309.2,336.7 309.3,337.9 309.4,334.7 309.6,335.2 309.7,331.1 309.8,331.8 309.9,328.1 310.1,329.6 310.2,324.4 310.3,326.7 310.3,321.5 310.4,322.6 310.4,318.9 310.5,320.0 310.6,316.3 310.6,317.3 310.7,312.9 310.8,314.3 310.8,309.4 310.9,310.6 310.9,306.8 311.0,307.8 311.1,303.9 311.1,304.2 311.2,300.5 311.3,301.4 311.4,297.6 311.4,298.9 311.5,293.9 311.6,295.3 311.7,291.6 311.7,292.6 311.8,288.2 311.9,288.7 312.0,284.5 312.1,286.5 312.1,281.9 312.2,282.9 312.4,277.9 312.6,279.5 312.7,275.2 312.9,275.7 313.1,272.2 313.2,273.2 313.3,271.1 313.3,275.5 313.4,274.4 313.4,278.6 313.5,277.4 313.5,282.0 313.6,280.6 313.6,285.3 313.7,284.5 313.7,288.5 313.8,287.0 313.8,291.0 313.9,290.8 313.9,294.3 313.9,293.1 314.0,298.2 314.0,296.4 314.1,301.1 314.1,299.2 314.1,303.5 314.2,302.6 314.2,307.2 314.3,305.6 314.3,309.9 314.3,308.3 314.4,312.5 314.4,311.7 314.5,316.0 314.5,314.6 314.5,319.3 314.6,318.0 314.6,322.1 314.7,320.9 314.8,324.8 314.8,323.7 314.9,329.1 315.0,327.3 315.1,331.7 315.2,330.8 315.2,335.0 315.3,334.0 315.4,338.0 315.5,336.6 315.6,338.1 315.8,334.2 316.0,335.2 316.1,331.2 316.3,331.6 316.4,327.3 316.5,328.9 316.6,324.3 316.7,324.7 316.8,320.3 316.9,321.4 317.0,317.7 317.1,318.8 317.2,313.7 317.3,315.3 317.4,311.4 317.5,312.1 317.7,308.1 317.8,308.7 317.9,304.3 318.0,306.0 318.1,301.3 318.2,302.5 318.3,298.2 318.6,303.2 318.8,301.8 319.1,306.3 319.4,304.8 319.4,309.2 319.5,307.1 319.6,312.0 319.7,310.3 319.7,315.0 319.8,314.0 319.9,318.8 320.0,316.9 320.1,320.9 320.1,320.6 320.2,324.6 320.3,323.5 320.4,327.2 320.5,326.1 320.6,330.5 320.8,329.0 320.9,333.6 321.0,332.9 321.1,336.8 321.3,335.2 321.4,340.4 321.6,335.4 321.8,336.4 322.0,332.2 322.2,333.1 322.4,329.1 322.6,329.5 322.8,326.3 323.0,327.4 323.2,322.1 323.4,323.3 323.6,319.1 323.8,319.8 324.0,315.5 324.2,317.2 324.4,312.4 324.6,316.9 324.7,315.8 324.8,320.4 324.9,319.0 325.1,322.6 325.2,322.3 325.3,326.7 325.5,325.2 325.7,325.5 325.9,321.6 326.1,322.4 326.3,318.5 326.5,319.9 326.6,318.6 326.7,322.5 326.9,320.8 327.0,326.1 327.1,323.9 327.2,328.2 327.4,326.9 327.5,331.8 327.7,331.0 327.9,335.6 328.1,334.3 328.3,338.9 328.5,337.7 328.6,337.9 328.8,334.1 328.9,335.5 329.0,330.9 329.2,332.7 329.3,328.4 329.4,329.5 329.5,325.1 329.6,326.7 329.7,321.7 329.7,323.3 329.8,319.2 329.9,320.6 329.9,316.0 330.0,316.7 330.1,312.8 330.1,314.3 330.2,309.8 330.2,310.9 330.3,306.4 330.4,307.5 330.4,304.0 330.5,304.7 330.6,300.2 330.6,301.9 330.6,297.7 330.7,298.9 330.7,293.9 330.7,295.9 330.7,291.7 330.8,292.0 330.8,287.6 330.8,289.8 330.9,285.4 330.9,286.7 330.9,282.0 331.0,283.5 331.0,279.2 331.0,280.5 331.0,276.2 331.1,277.1 331.1,273.2 331.1,274.5 331.2,269.5 331.2,270.9 331.2,267.4 331.3,267.8 331.3,263.5 331.3,264.9 331.4,261.3 331.4,262.4 331.4,257.8 331.4,258.4 331.5,254.3 331.5,255.9 331.5,251.1 331.6,253.2 331.6,248.1 331.6,250.2 331.7,245.6 331.7,247.1 331.7,242.4 331.7,243.9 331.8,239.7 331.8,240.8 331.8,236.8 331.8,238.1 331.9,233.7 331.9,234.7 331.9,229.9 331.9,232.0 332.0,226.9 332.0,228.5 332.0,224.8 332.0,226.2 332.0,221.6 332.1,223.1 332.1,218.4 332.1,219.6 332.1,215.3 332.1,216.7 332.2,212.0 332.2,213.7 332.2,209.6 332.3,210.4 332.3,206.4 332.3,207.5 332.4,203.1 332.4,203.7 332.5,199.3 332.5,200.4 332.5,195.7 332.6,197.7 332.6,196.3 332.6,200.3 332.7,198.9 332.7,203.5 332.7,202.1 332.7,206.4 332.7,205.3 332.8,209.8 332.8,208.0 332.8,212.6 332.8,211.2 332.8,215.5 332.9,214.9 332.9,218.6 332.9,217.2 332.9,221.6 332.9,221.1 333.0,225.1 333.0,223.6 333.0,228.4 333.0,227.4 333.1,231.2 333.1,229.8 333.1,234.0 333.1,233.6 333.1,237.9 333.2,236.8 333.2,240.1 333.2,239.7 333.2,244.1 333.3,242.6 333.3,246.6 333.3,245.4 333.4,250.2 333.4,249.1 333.4,252.5 333.4,251.7 333.5,256.1 333.5,255.1 333.5,258.9 333.6,257.6 333.6,261.5 333.6,260.9 333.7,264.5 333.7,263.3 333.7,267.5 333.8,267.3 333.8,271.3 333.8,270.2 334.0,271.1 334.1,266.7 334.2,268.2 334.4,263.0 334.5,264.0 334.6,260.1 334.7,260.9 334.7,256.2 334.8,258.1 334.8,253.2 334.9,254.7 334.9,249.8 335.0,251.4 335.0,247.1 335.1,249.0 335.1,243.7 335.1,245.2 335.2,240.6 335.2,242.5 335.3,241.1 335.3,245.1 335.3,243.6 335.4,248.1 335.4,247.2 335.4,251.4 335.5,250.5 335.5,254.1 335.5,252.5 335.5,257.1 335.6,255.8 335.6,259.9 335.6,259.4 335.7,263.6 335.7,262.5 335.7,267.1 335.8,264.8 335.8,269.4 335.8,268.8 335.9,273.2 335.9,271.1 336.0,275.9 336.0,275.1 336.1,278.4 336.2,277.5 336.2,282.3 336.3,280.9 336.4,285.0 336.4,284.3 336.5,288.2 336.5,287.2 336.6,291.6 336.7,290.4 336.8,294.6 336.9,294.0 337.0,298.4 337.1,296.5 337.2,301.2 337.3,300.1 337.4,305.1 337.5,304.2 337.6,307.9 337.7,306.8 337.8,311.3 337.9,311.1 338.0,314.6 338.2,313.7 338.3,318.4 338.4,318.0 338.6,321.7 338.7,320.8 338.8,325.3 338.9,324.6 339.0,329.1 339.1,327.4 339.2,331.8 339.3,331.2 339.4,335.2 339.5,335.0 339.6,339.0 339.7,338.1 339.8,342.5 339.9,340.8 340.3,345.8 340.7,345.5 341.2,345.9 341.8,341.2 342.3,341.4 342.8,337.3 342.9,338.1 343.0,334.3 343.1,335.4 343.2,330.4 343.3,331.8 343.4,327.9 343.5,328.8 343.6,324.2 343.7,325.7 343.8,320.6 343.8,321.8 343.9,317.5 343.9,319.2 344.0,315.0 344.0,316.4 344.0,312.0 344.1,312.6 344.1,309.3 344.1,310.2 344.2,306.0 344.2,306.6 344.3,303.3 344.3,304.3 344.3,300.0 344.4,301.4 344.4,296.2 344.4,298.4 344.5,294.0 344.5,295.5 344.6,290.5 344.6,292.3 344.6,287.1 344.7,288.7 344.7,284.8 344.7,286.4 344.8,281.8 344.8,282.4 344.9,279.1 344.9,279.9 344.9,275.8 345.0,277.4 345.0,273.1 345.0,273.7 345.1,269.3 345.1,270.9 345.2,266.1 345.2,268.0 345.2,263.0 345.3,265.3 345.3,260.0 345.3,261.9 345.4,257.6 345.4,258.8 345.5,254.8 345.5,255.4 345.5,251.4 345.6,252.6 345.6,248.5 345.6,249.2 345.7,244.8 345.7,246.5 345.8,242.4 345.8,243.5 345.8,239.3 345.9,240.9 346.1,235.6 346.2,237.5 346.3,232.5 346.4,234.1 346.5,229.9 346.6,230.8 346.7,226.1 346.7,227.5 346.7,224.0 346.8,225.2 346.8,220.9 346.8,221.3 346.9,217.7 346.9,218.7 346.9,214.5 346.9,215.4 347.0,211.6 347.0,212.4 347.0,208.7 347.1,209.6 347.1,205.6 347.1,206.2 347.2,201.7 347.2,203.9 347.2,199.3 347.2,200.4 347.3,196.6 347.3,196.8 347.3,193.0 347.4,194.8 347.4,190.5 347.4,191.2 347.5,186.5 347.5,187.5 347.5,183.6 347.6,184.7 347.6,180.3 347.6,182.2 347.6,177.0 347.7,179.1 347.7,174.9 347.7,175.8 347.8,171.2 347.8,172.2 347.8,168.5 347.9,169.3 347.9,165.1 347.9,166.1 348.0,161.3 348.0,162.8 348.0,158.4 348.0,159.7 348.0,155.6 348.0,157.0 348.0,152.9 348.1,154.1 348.1,150.2 348.1,150.7 348.1,146.9 348.1,147.7 348.1,143.3 348.1,145.2 348.1,140.5 348.2,142.2 348.2,138.1 348.2,138.4 348.2,135.2 348.2,136.4 348.2,131.6 348.2,133.5 348.2,128.8 348.3,129.8 348.3,125.4 348.3,127.3 348.3,122.6 348.3,123.8 348.3,119.7 348.3,120.5 348.3,116.0 348.4,118.3 348.4,113.6 348.4,114.3 348.4,110.0 348.4,111.7 348.4,107.1 348.4,108.6 348.5,104.9 348.5,106.0 348.5,101.9 348.5,103.2 348.5,98.8 348.5,99.5 348.5,95.9 348.5,96.3 348.6,92.1 348.6,93.1 348.6,89.8 348.6,90.1 348.6,86.9 348.6,87.6 348.6,83.6 348.6,84.8 348.7,80.0 348.7,81.5 348.7,76.7 348.7,79.1 348.7,74.4 348.7,75.8 348.7,70.9 348.7,72.1 348.8,67.8 348.8,68.9 348.8,64.9 348.8,66.9 348.8,64.9 348.8,69.7 348.8,67.9 348.8,72.3 348.8,71.6 348.8,75.3 348.8,74.4 348.9,78.8 348.9,76.7 348.9,82.0 348.9,80.4 348.9,85.0 348.9,82.7 348.9,86.9 348.9,86.2 348.9,90.0 348.9,89.7 348.9,93.5 348.9,92.0 348.9,96.2 348.9,95.5 348.9,99.5 349.0,98.2 349.0,102.1 349.0,101.7 349.0,105.0 349.0,104.5 349.0,109.2 349.0,107.7 349.0,111.9 349.0,110.2 349.0,115.1 349.0,113.0 349.0,117.1 349.0,116.6 349.0,121.1 349.0,119.2 349.1,124.1 349.1,123.0 349.1,127.1 349.1,125.5 349.1,130.1 349.1,128.3 349.1,132.6 349.1,131.4 349.1,135.2 349.1,133.9 349.1,139.2 349.1,137.3 349.1,141.9 349.1,140.2 349.1,144.7 349.2,143.8 349.2,148.0 349.2,145.9 349.2,151.3 349.2,149.2 349.2,153.4 349.2,152.8 349.2,156.6 349.2,155.5 349.2,160.3 349.2,158.4 349.2,163.0 349.2,161.7 349.2,165.5 349.2,164.9 349.3,169.5 349.3,167.1 349.3,172.1 349.3,170.4 349.3,174.6 349.3,174.2 349.3,177.4 349.3,177.3 349.4,180.7 349.4,179.2 349.4,184.2 349.4,183.1 349.5,186.6 349.5,186.5 349.5,189.6 349.6,189.4 349.6,193.1 349.6,192.4 349.7,196.0 349.7,194.9 349.7,198.9 349.8,198.6 349.8,202.8 349.8,201.4 349.8,205.7 349.9,204.5 349.9,208.8 349.9,207.9 350.0,211.4 350.0,209.9 350.0,214.5 350.1,213.3 350.1,217.4 350.6,217.4 351.0,221.7 351.1,220.5 351.1,224.2 351.2,223.5 351.2,227.7 351.2,226.7 351.3,231.1 351.3,229.0 351.4,233.7 351.4,232.8 351.5,237.2 351.5,235.2 351.6,239.9 351.6,238.4 351.6,242.7 351.7,241.3 351.7,246.0 351.8,244.1 351.8,248.6 351.9,248.1 351.9,252.3 352.0,250.5 352.0,255.3 352.0,253.3 352.1,255.2 352.1,250.7 352.2,252.3 352.2,247.3 352.3,248.7 352.3,244.8 352.4,245.2 352.4,241.7 352.5,242.4 352.5,238.5 352.6,239.7 352.6,234.7 352.7,236.6 352.7,232.0 352.8,232.9 352.9,228.9 352.9,230.5 353.0,225.8 353.0,227.2 353.1,222.9 353.1,224.3 353.2,219.7 353.2,221.2 353.3,216.5 353.3,218.6 353.4,213.8 353.4,215.2 353.5,210.6 353.5,212.1 353.6,207.2 353.6,209.6 353.7,204.7 353.8,209.3 353.9,208.4 353.9,212.7 354.0,210.9 354.1,214.9 354.2,214.8 354.3,219.0 354.4,217.0 354.5,221.9 354.6,217.5 354.6,218.2 354.7,214.1 354.8,215.7 354.9,210.7 355.0,211.4 355.1,207.9 355.1,208.2 355.2,203.9 355.3,205.9 355.4,203.7 355.4,208.4 355.5,207.5 355.5,211.1 355.6,210.6 355.6,214.5 355.7,213.5 355.7,217.5 355.8,216.1 355.8,221.2 355.9,219.6 355.9,224.2 356.0,222.8 356.0,226.6 356.1,225.2 356.1,229.4 356.2,226.1 356.2,227.4 356.3,222.5 356.4,223.5 356.4,219.0 356.5,221.0 356.6,216.3 356.6,217.8 356.7,213.5 356.7,214.7 356.8,210.0 356.9,211.0 356.9,207.3 357.0,210.6 357.0,209.9 357.1,213.7 357.1,212.7 357.2,217.8 357.2,216.2 357.3,220.5 357.3,218.9 357.4,223.4 357.4,221.7 357.5,226.3 357.5,224.7 357.6,229.0 357.6,227.9 357.7,232.5 357.7,231.6 357.8,232.1 357.9,227.6 358.0,229.6 358.1,225.1 358.3,226.4 358.4,221.6 358.5,223.5 358.6,219.3 358.6,223.8 358.6,221.6 358.6,226.6 358.6,224.7 358.7,229.5 358.7,228.2 358.7,232.9 358.7,230.7 358.8,234.9 358.8,233.6 358.8,238.2 358.8,237.5 358.8,241.7 358.9,240.3 358.9,244.2 358.9,243.5 358.9,247.3 358.9,245.9 359.0,250.7 359.0,248.4 359.0,253.8 359.0,251.8 359.1,256.2 359.1,254.5 359.1,259.0 359.1,258.2 359.1,262.4 359.2,261.2 359.2,265.4 359.2,264.5 359.2,268.0 359.2,267.6 359.3,271.2 359.3,270.3 359.3,274.7 359.3,273.3 359.3,276.9 359.4,275.7 360.2,278.4 360.3,274.0 360.4,275.6 360.5,271.5 360.6,272.5 360.7,267.3 360.8,268.8 360.9,264.5 361.0,265.8 361.1,260.8 361.2,263.1 361.3,258.7 361.5,259.3 361.6,254.8 361.7,256.3 361.8,252.1 362.0,253.4 362.1,249.6 362.2,249.7 362.3,248.5 362.5,253.2 362.6,252.1 362.7,256.5 362.9,254.8 363.0,259.9 363.1,258.7 363.2,262.7 363.3,261.9 363.3,265.7 363.4,264.0 363.4,268.7 363.5,267.6 363.5,272.3 363.6,270.3 363.6,275.4 363.7,273.6 363.7,277.8 363.8,276.6 363.8,281.1 363.9,280.5 363.9,283.8 364.0,282.4 364.0,287.5 364.1,286.7 364.1,290.8 364.2,288.9 364.2,293.0 364.3,291.7 364.3,293.2 364.4,289.2 364.4,290.7 364.5,286.1 364.5,287.2 364.6,283.0 364.6,284.4 364.6,279.3 364.7,281.6 364.7,276.2 364.8,278.4 364.8,273.7 364.9,274.8 364.9,270.1 365.0,272.3 365.0,267.7 365.1,269.1 365.1,264.5 365.2,265.1 365.2,261.3 365.3,263.0 365.3,261.2 365.4,265.9 365.5,263.9 365.5,269.0 365.6,267.6 365.7,272.2 365.7,270.9 365.8,274.7 365.9,274.0 365.9,277.7 366.0,276.1 366.0,281.2 366.1,279.0 366.2,284.0 366.2,282.6 366.3,286.6 366.4,285.8 366.5,290.7 366.6,289.2 366.7,293.9 366.8,292.5 366.9,297.1 367.0,295.9 367.1,300.5 367.2,299.3 367.3,302.7 367.4,301.9 367.4,306.7 367.5,304.9 367.5,309.4 367.6,308.0 367.6,312.3 367.6,311.6 367.7,315.5 367.7,314.9 367.8,318.4 367.8,318.0 367.9,322.1 367.9,320.7 368.0,325.0 368.1,323.8 368.1,328.1 368.2,326.7 368.2,330.9 368.3,329.9 368.4,335.1 368.4,333.3 368.5,337.9 368.6,335.9 368.6,340.4 368.7,340.1 368.7,344.0 369.1,338.9 369.6,340.0 369.7,338.8 369.9,343.1 370.0,342.1 370.2,346.9 370.4,345.8 370.9,350.3 371.4,349.8 371.9,354.6 372.4,353.7 372.5,355.1 372.7,350.6 372.8,351.8 372.9,347.3 373.0,349.1 373.2,344.3 373.3,345.5 373.4,341.2 373.9,341.7 374.4,336.6 374.9,341.8 375.5,341.6 375.7,342.0 375.9,337.7 376.1,339.6 376.3,334.6 376.5,336.4 377.0,335.4 377.5,340.4 377.6,335.3 377.8,336.5 377.9,333.0 378.0,333.7 378.1,329.6 378.3,330.7 378.4,326.2 378.5,327.4 378.8,326.7 379.0,330.6 379.3,329.9 379.5,333.7 379.7,329.2 379.9,330.1 380.1,326.4 380.2,327.3 380.4,323.0 380.6,324.0 380.8,322.3 381.0,326.6 381.2,326.3 381.4,330.6 381.6,329.5 381.7,330.4 381.8,325.7 381.9,327.1 382.0,322.8 382.1,323.9 382.2,319.5 382.3,320.5 382.4,315.4 382.5,317.2 382.6,313.1 382.7,313.6 382.8,309.7 383.0,311.3 383.1,306.2 383.2,307.7 383.4,303.4 383.5,304.6 383.6,300.5 383.8,304.7 384.0,303.2 384.2,308.0 384.4,307.2 384.6,311.5 385.1,306.9 385.6,306.9 385.9,306.2 386.1,311.0 386.3,309.6 386.5,313.6 386.7,312.9 386.9,317.2 387.1,316.2 387.3,320.4 387.5,319.2 387.7,323.1 387.9,322.7 388.1,327.3 388.3,326.1 388.5,330.4 388.7,329.5 388.8,333.3 389.0,332.1 389.1,336.5 389.2,335.7 389.3,339.0 389.5,338.3 389.6,343.0 389.7,341.2 390.2,346.5 390.7,345.2 391.2,350.7 391.8,349.8 391.8,351.1 391.9,346.6 392.0,347.2 392.1,343.2 392.2,344.4 392.3,339.6 392.4,342.0 392.4,336.9 392.5,338.1 392.6,334.4 392.7,335.3 392.8,331.2 392.8,331.9 392.9,328.3 392.9,328.9 393.0,325.1 393.0,325.7 393.1,322.1 393.1,323.7 393.2,318.4 393.2,320.2 393.3,315.2 393.3,317.5 393.4,313.2 393.4,313.4 393.5,309.8 393.5,310.9 393.6,306.0 393.6,307.3 393.7,303.3 393.7,305.1 393.8,300.7 393.9,302.0 393.9,297.0 394.0,298.2 394.1,294.2 394.1,295.6 394.2,291.0 394.2,292.1 394.3,288.0 394.4,288.9 394.4,285.7 394.5,286.4 394.6,282.3 394.6,283.3 394.7,279.4 394.8,280.9 394.8,276.1 394.8,277.3 394.9,273.1 394.9,274.7 394.9,270.3 394.9,271.7 395.0,267.3 395.0,268.7 395.1,264.0 395.2,265.3 395.3,261.1 395.4,262.5 395.5,258.1 395.6,259.4 395.7,254.5 395.8,256.5 395.9,251.1 395.9,253.3 396.0,249.0 396.1,250.3 396.3,249.2 396.5,253.6 396.6,251.5 396.8,256.0 397.0,255.8 397.1,260.1 397.3,258.7 397.6,260.0 397.9,255.1 398.2,257.3 398.3,255.5 398.3,260.2 398.4,258.1 398.4,263.2 398.5,261.8 398.5,266.4 398.6,264.7 398.6,269.4 398.7,267.8 398.7,272.0 398.8,271.3 398.8,274.6 398.9,273.3 398.9,278.0 399.0,276.5 399.0,281.1 399.1,279.6 399.1,284.2 399.2,283.4 399.3,287.1 399.3,286.0 399.4,290.1 399.5,288.8 399.5,293.1 399.6,292.4 399.7,297.3 399.7,295.3 399.8,299.6 399.9,299.3 400.0,303.4 400.0,302.0 400.1,305.8 400.2,305.4 400.3,309.5 400.3,308.6 400.4,312.1 400.5,310.6 400.6,315.1 400.6,313.7 400.7,317.9 400.8,317.5 400.9,321.0 400.9,319.9 401.1,324.6 401.2,322.9 401.4,328.0 401.5,326.0 401.7,330.2 401.9,329.4 401.9,330.1 402.0,325.9 402.0,327.4 402.1,323.3 402.2,325.0 402.2,319.6 402.3,321.6 402.3,317.3 402.4,318.9 402.5,313.7 402.5,315.1 402.6,311.1 402.6,312.9 402.7,307.5 402.8,309.8 402.9,308.0 403.1,312.0 403.2,310.6 403.4,315.0 403.5,314.0 403.7,318.3 403.8,313.7 403.8,315.2 403.9,311.2 404.0,312.8 404.1,307.8 404.1,309.9 404.2,305.4 404.3,305.8 404.4,301.7 404.4,303.2 404.5,298.4 404.6,300.1 404.7,296.4 404.7,297.1 404.8,293.1 404.9,294.4 405.0,289.4 405.0,291.5 405.1,287.2 405.2,288.1 405.3,284.0 405.4,285.5 405.4,281.0 405.5,282.1 405.6,277.3 405.6,278.4 405.7,274.3 405.8,275.1 405.9,271.7 405.9,272.2 406.0,268.5 406.1,269.2 406.1,264.7 406.2,266.6 406.3,262.0 406.4,262.9 406.4,258.3 406.6,259.5 406.7,255.5 406.8,256.3 406.9,251.6 407.1,253.0 407.2,248.4 407.3,249.5 407.5,245.7 407.6,246.4 407.7,242.6 407.9,243.0 408.0,239.1 408.1,240.5 408.2,235.5 408.3,240.6 408.4,239.0 408.5,242.8 408.6,242.1 408.6,246.1 408.7,245.3 408.8,249.5 408.9,248.0 408.9,251.7 409.0,250.9 409.1,255.2 409.2,254.3 409.2,258.1 409.2,256.9 409.3,262.0 409.3,260.1 409.4,264.3 409.4,263.9 409.5,267.5 409.5,266.7 409.5,270.7 409.6,269.6 409.6,273.6 409.7,273.1 409.7,277.5 409.7,275.2 409.8,280.4 409.8,278.4 409.9,283.3 409.9,281.7 410.0,286.3 410.0,284.9 410.0,289.9 410.1,288.0 410.2,292.9 410.2,291.2 410.3,295.4 410.4,294.0 410.5,299.1 410.5,297.7 410.6,301.3 410.7,301.0 410.8,304.4 410.8,303.8 410.9,307.4 411.0,306.9 411.1,310.6 411.3,310.0 411.4,314.4 411.6,313.1 411.7,316.3 411.9,315.1 412.2,316.8 412.5,312.3 412.8,313.7 412.9,313.2 413.0,316.4 413.1,315.1 413.2,319.4 413.3,318.8 413.4,322.7 413.5,321.6 413.6,325.9 413.7,324.4 414.0,328.8 414.3,327.8 414.6,332.7 414.8,330.8 414.9,335.7 415.1,334.5 415.3,338.7 415.4,337.1 415.6,341.9 415.6,336.7 415.7,338.0 415.8,333.6 415.9,334.8 415.9,330.8 416.0,332.4 416.1,328.2 416.2,328.6 416.2,324.4 416.3,325.7 416.4,321.4 416.5,323.0 416.8,319.1 417.1,320.4 417.4,315.8 417.7,316.6 418.0,312.1 418.3,314.5 418.5,312.8 418.6,317.5 418.8,316.1 418.9,320.3 419.1,318.6 419.2,322.7 419.5,318.8 419.8,319.8 420.1,315.4 420.3,316.8 420.4,312.7 420.6,314.1 420.7,309.7 420.9,310.3 421.0,306.5 421.3,311.3 421.6,309.9 421.9,313.6 422.1,309.1 422.3,310.4 422.4,306.0 422.6,307.6 422.7,303.8 422.9,305.0 423.2,303.0 423.5,307.7 423.8,306.8 423.9,307.3 424.1,304.1 424.2,305.0 424.4,300.1 424.5,301.5 424.7,297.4 424.8,302.0 425.0,300.2 425.1,305.0 425.3,303.0 425.5,307.5 425.6,305.9 425.8,311.0 425.9,309.8 426.1,314.1 426.2,312.8 426.4,316.8 426.5,315.3 426.8,320.3 427.1,318.6 427.4,323.4 427.7,318.3 428.0,319.8 428.4,316.2 428.5,320.5 428.7,319.2 428.8,323.0 429.0,322.2 429.1,326.1 429.3,324.5 429.4,328.6 429.6,327.8 429.7,332.0 429.9,330.7 430.0,335.7 430.2,333.7 430.3,334.7 430.4,331.1 430.5,332.1 430.6,328.2 430.7,329.5 430.8,325.0 430.9,325.9 431.0,322.1 431.1,323.1 431.1,318.3 431.2,319.5 431.2,315.7 431.3,316.7 431.3,313.1 431.3,313.8 431.4,309.4 431.4,311.0 431.5,305.9 431.5,308.0 431.6,303.0 431.6,305.0 431.7,300.2 431.7,302.2 431.7,296.9 431.8,299.0 431.8,294.5 431.9,295.3 431.9,290.8 432.0,292.0 432.0,288.4 432.1,289.9 432.1,285.4 432.2,286.5 432.2,282.3 432.3,283.6 432.3,278.7 432.4,279.9 432.4,276.2 432.5,277.8 432.5,273.1 432.6,274.9 432.6,270.2 432.7,271.2 432.7,267.3 432.8,268.6 432.8,263.9 432.9,265.5 432.9,260.6 433.2,264.9 433.5,263.5 433.8,267.7 434.0,266.4 434.1,271.6 434.3,270.3 434.4,274.4 434.6,273.2 434.7,277.3 434.8,272.5 434.9,274.2 435.0,269.9 435.1,270.7 435.3,267.5 435.4,268.2 435.5,264.0 435.6,265.7 435.7,260.7 435.8,265.6 436.0,263.8 436.1,268.7 436.3,267.1 436.4,270.7 436.6,269.7 436.7,274.5 436.9,273.4 437.0,277.0 437.2,276.1 437.3,280.9 437.5,278.9 437.8,280.3 438.1,276.0 438.4,277.1 438.6,273.1 438.7,273.9 438.9,269.7 439.0,270.7 439.2,266.9 439.3,267.7 439.4,267.4 439.4,271.6 439.4,269.5 439.5,274.3 439.5,272.5 439.6,277.6 439.6,276.0 439.7,280.5 439.7,279.7 439.8,282.9 439.8,281.9 439.9,286.3 439.9,284.6 440.0,289.2 440.0,288.5 440.3,289.0 440.6,284.3 440.9,286.0 441.1,281.7 441.3,285.3 441.5,284.6 441.6,288.5 441.8,287.5 442.0,291.9 442.1,290.9 442.3,296.0 442.3,294.6 442.3,298.8 442.4,297.2 442.4,301.6 442.4,300.5 442.4,305.2 442.5,303.8 442.5,307.9 442.5,307.1 442.5,310.9 442.6,309.0 442.6,313.8 442.6,312.3 442.6,316.7 442.7,315.8 442.7,319.8 442.7,318.2 442.7,322.8 442.8,322.3 442.8,326.1 442.8,324.7 442.8,329.2 442.9,327.9 442.9,331.9 442.9,330.6 442.9,334.9 443.0,334.2 443.0,337.9 443.0,337.5 443.0,340.9 443.1,339.8 443.1,344.2 443.1,343.1 443.1,347.1 443.2,346.4 443.2,350.7 443.2,345.6 443.2,347.0 443.2,342.8 443.2,344.9 443.3,340.0 443.3,341.8 443.3,337.4 443.3,338.6 443.3,334.4 443.3,334.9 443.3,331.4 443.3,331.6 443.4,327.5 443.4,328.9 443.4,325.0 443.4,326.3 443.4,322.0 443.4,323.5 443.4,319.1 443.4,320.5 443.5,315.2 443.5,316.9 443.5,312.1 443.5,314.3 443.5,309.0 443.5,310.6 443.5,306.6 443.5,307.6 443.6,303.5 443.6,304.8 443.6,300.0 443.6,301.5 443.6,297.3 443.6,298.4 443.6,294.4 443.6,295.1 443.7,291.2 443.8,292.7 443.8,288.1 443.9,290.0 444.0,285.2 444.0,286.2 444.1,281.6 444.1,283.3 444.2,279.5 444.3,280.4 444.3,275.8 444.4,277.1 444.4,273.3 444.5,273.8 444.6,269.9 444.6,271.1 444.7,266.6 444.8,267.8 444.8,263.7 444.9,264.7 444.9,261.2 445.0,261.6 445.1,257.6 445.1,259.3 445.2,254.8 445.2,256.4 445.3,251.3 445.4,253.4 445.4,248.5 445.5,249.9 445.6,245.6 445.7,247.0 445.9,242.5 446.0,243.1 446.1,238.4 446.3,240.7 446.4,235.5 446.5,237.3 446.7,233.0 446.8,233.9 446.9,229.1 447.1,230.1 447.2,226.2 447.3,227.3 447.4,222.2 447.6,224.1 447.7,219.9 447.8,220.7 448.0,216.3 448.1,217.0 448.2,213.4 448.5,214.0 448.7,209.7 448.9,210.3 449.1,206.0 450.1,207.0 450.1,205.6 450.2,209.8 450.3,208.3 450.4,213.2 450.5,211.3 450.6,215.8 450.7,214.5 450.8,218.8 450.9,218.2 451.0,222.8 451.1,220.8 451.1,225.5 451.2,224.3 451.3,229.1 451.4,228.2 451.5,232.4 451.6,230.5 451.7,234.9 451.8,234.3 451.9,238.4 452.0,236.8 452.1,242.2 452.2,240.9 452.2,244.8 452.3,244.1 452.4,247.6 452.5,247.2 452.6,251.8 452.7,249.6 452.8,254.1 452.9,253.1 452.9,257.7 453.0,256.3 453.1,261.0 453.2,259.8 453.2,263.4 453.3,262.8 453.4,267.2 453.5,265.0 453.5,269.7 453.6,268.9 453.7,273.2 453.8,271.2 453.9,276.3 454.0,274.0 454.1,279.1 454.2,277.6 454.3,282.3 454.4,281.1 454.5,285.4 454.6,283.9 454.7,284.9 454.7,280.2 454.7,281.3 454.8,277.8 454.8,279.2 454.8,274.7 454.9,276.3 454.9,271.2 455.0,272.4 455.0,268.4 455.0,269.5 455.1,265.2 455.1,266.9 455.2,262.3 455.2,263.1 455.2,258.9 455.3,260.2 455.3,256.1 455.3,257.9 455.4,253.3 455.4,253.9 455.5,250.1 455.5,251.0 455.5,247.5 455.7,248.0 455.8,244.5 456.0,245.4 456.1,240.7 456.3,242.2 456.4,237.4 456.8,241.8 457.1,241.2 457.4,245.1 457.7,244.0 458.0,248.6 458.3,247.4 458.6,248.3 458.9,244.2 459.2,245.2 459.5,241.6 459.8,242.6 460.1,238.6 460.4,239.2 460.7,235.3 461.0,236.1 461.2,231.7 461.3,233.5 461.5,228.4 461.6,230.3 461.8,226.1 461.9,226.5 462.2,223.2 462.5,224.5 462.8,219.9 463.0,220.8 463.1,216.8 463.3,217.7 463.5,214.0 463.6,214.6 463.8,210.6 464.7,215.6 464.8,215.0 464.9,218.4 464.9,218.2 465.0,222.0 465.1,220.7 465.2,225.7 465.3,224.2 465.4,228.6 465.5,226.9 465.6,231.7 465.7,230.3 465.7,234.3 465.8,233.2 465.9,238.0 466.0,236.7 466.0,241.0 466.1,239.9 466.2,243.4 466.3,242.8 466.3,246.9 466.4,245.7 466.5,249.6 466.6,248.1 466.7,253.2 466.7,252.0 466.8,255.5 466.9,254.5 467.0,259.6 467.0,257.5 467.1,262.3 467.2,260.3 467.3,265.4 467.3,264.3 467.4,268.2 467.5,267.0 467.5,271.3 467.6,270.4 467.6,274.4 467.7,272.8 467.7,277.1 467.8,275.9 467.8,280.2 467.9,278.9 467.9,283.4 468.0,281.6 468.0,286.4 468.1,285.7 468.1,289.0 468.2,288.0 468.2,292.1 468.3,291.0 468.3,295.6 468.4,294.5 468.4,298.5 468.5,297.0 468.5,301.7 468.5,300.5 468.6,304.7 468.6,303.4 468.7,307.7 468.7,306.3 468.8,310.7 468.8,309.8 468.8,313.4 468.9,312.7 468.9,316.5 469.0,316.0 469.0,319.6 469.1,318.9 469.1,323.5 469.2,321.7 469.2,325.8 469.2,324.8 469.5,329.1 469.8,328.4 470.1,332.5 470.3,330.9 470.5,335.8 470.6,333.8 470.8,337.9 470.9,336.4 471.1,340.8 471.4,340.4 471.7,343.9 472.0,343.5 472.2,343.7 472.4,339.2 472.7,340.3 472.9,336.2 473.8,340.9 474.1,337.2 474.4,337.8 474.7,334.1 474.9,334.9 475.0,330.6 475.2,332.7 475.3,328.2 475.5,329.1 475.6,324.6 475.9,326.7 476.2,322.3 476.6,323.2 476.9,321.9 477.2,326.1 477.5,324.5 477.6,326.3 477.8,321.9 477.9,323.4 478.1,318.6 478.2,319.7 478.4,316.0 478.7,319.6 479.0,318.3 479.3,323.5 479.4,319.1 479.6,320.1 479.7,316.2 479.9,316.4 480.0,312.4 480.2,313.9 480.3,312.7 480.4,316.8 480.5,315.7 480.6,319.8 480.7,319.0 480.8,323.5 480.9,322.3 481.0,326.2 481.1,325.2 481.2,325.9 481.2,322.3 481.2,322.6 481.3,318.6 481.3,319.4 481.4,315.8 481.4,317.1 481.5,312.5 481.5,313.4 481.5,309.7 481.6,310.6 481.6,306.2 481.7,308.2 481.7,303.4 481.8,305.1 481.8,300.5 481.9,302.3 481.9,297.1 481.9,299.1 482.0,294.7 482.0,295.8 482.1,291.1 482.2,292.8 482.3,287.8 482.4,289.2 482.5,285.7 482.6,286.5 482.7,282.5 482.8,284.0 482.9,278.6 483.1,283.4 483.2,281.8 483.4,286.6 483.6,284.7 483.7,289.6 483.9,288.6 484.0,293.2 484.1,291.6 484.2,295.1 484.3,294.0 484.4,298.8 484.5,296.9 484.6,301.4 484.7,299.9 484.8,305.1 484.9,303.3 485.1,307.2 485.2,306.2 485.4,310.7 485.5,310.0 485.7,313.7 485.7,309.0 485.7,310.6 485.8,306.6 485.8,308.3 485.9,303.2 485.9,304.6 485.9,300.6 486.0,301.8 486.0,297.3 486.0,298.9 486.1,294.2 486.1,295.2 486.1,290.8 486.2,292.9 486.2,288.2 486.2,289.1 486.3,285.3 486.3,286.9 486.3,282.4 486.4,283.2 486.4,278.9 486.4,280.7 486.5,275.7 486.5,277.2 486.5,272.7 486.6,274.0 486.6,270.5 486.8,271.5 486.9,267.2 487.1,268.7 487.2,264.1 487.4,265.0 487.5,260.4 487.6,264.6 487.7,263.3 487.7,268.0 487.8,267.5 487.9,271.0 488.0,270.4 488.0,274.0 488.1,273.0 488.2,277.4 488.3,276.4 488.3,281.0 488.4,279.5 488.5,283.0 488.5,282.4 488.6,285.9 488.7,284.7 488.7,289.1 488.8,288.8 488.8,292.7 488.9,291.5 489.0,295.1 489.0,294.4 489.1,298.3 489.2,297.9 489.2,301.7 489.3,300.7 489.3,304.6 489.4,303.5 489.5,308.4 489.6,306.4 489.6,310.9 489.7,309.8 489.8,313.8 489.9,312.9 489.9,317.3 490.0,315.1 490.1,320.4 490.2,318.8 490.2,323.3 490.6,318.9 490.9,320.3 491.2,315.1 491.2,316.5 491.3,313.1 491.4,314.5 491.5,309.5 491.5,311.2 491.6,306.1 491.7,308.2 491.8,303.9 491.9,304.4 491.9,300.6 492.0,302.1 492.1,297.1 492.3,298.1 492.5,294.4 492.8,295.4 493.0,290.1 493.9,295.0 494.2,294.5 494.5,298.2 494.8,297.5 495.1,298.1 495.4,294.5 495.7,295.2 495.9,294.9 496.0,299.2 496.2,297.8 496.3,302.2 496.5,300.1 496.6,304.6 496.8,303.6 497.0,307.6 497.1,306.8 497.3,310.9 497.4,310.0 497.6,314.0 497.7,309.6 497.8,310.5 497.9,306.0 498.0,307.5 498.1,303.3 498.2,305.0 498.3,300.1 498.4,301.8 498.5,297.4 498.6,301.6 498.8,300.1 498.9,304.2 499.1,303.4 499.2,308.2 499.4,306.6 499.7,307.8 500.0,303.2 500.3,305.1 500.5,303.7 500.6,307.9 500.8,306.1 500.9,311.0 501.1,309.9 501.2,314.5 501.5,312.8 501.8,317.1 502.1,316.2 502.3,317.1 502.4,312.5 502.6,314.4 502.7,309.9 502.9,310.3 503.0,306.7 503.2,307.7 503.3,303.2 503.5,304.5 503.7,300.1 503.8,302.1 504.0,297.9 504.3,299.2 504.6,294.9 504.9,295.3 505.0,294.8 505.2,299.0 505.3,296.8 505.5,301.4 505.6,300.3 505.8,305.3 505.9,303.1 506.1,307.5 506.2,306.6 506.4,311.3 506.5,309.1 506.7,313.9 506.8,312.5 506.9,316.4 507.0,315.8 507.1,320.3 507.2,319.2 507.3,322.7 507.4,321.7 507.5,325.5 507.6,325.2 507.8,329.4 507.9,328.2 508.1,332.2 508.2,330.4 508.4,335.2 508.5,333.7 509.3,337.7 510.0,336.9 510.8,339.9" fill="none" stroke="#ff1a1a" stroke-width="1.9" stroke-dasharray="1.1 0.7" stroke-linejoin="round"/>
<polyline points="65.3,337.8 65.4,337.2 65.5,333.5 65.6,333.1 65.7,329.4 65.8,328.9 65.9,325.6 66.0,324.5 66.1,320.9 66.2,320.4 66.3,316.8 66.4,316.0 66.5,312.8 66.5,311.9 66.6,308.6 66.7,307.9 66.7,304.9 66.8,303.7 66.8,300.8 66.9,300.1 66.9,296.5 67.0,295.7 67.0,292.5 67.1,291.7 67.1,288.6 67.2,287.7 67.2,284.9 67.3,284.1 67.3,280.8 67.4,279.7 67.4,276.3 67.5,276.1 67.5,272.7 67.6,272.1 67.6,268.6 67.7,267.9 67.7,264.7 67.8,264.1 67.8,260.5 67.9,260.1 67.9,256.3 68.0,255.7 68.0,252.6 68.1,251.6 68.1,248.7 68.2,247.6 68.2,244.6 68.3,243.8 68.3,240.8 68.4,239.9 68.4,236.6 68.5,235.7 68.5,232.3 68.6,231.8 68.6,228.6 68.7,227.8 68.7,224.4 68.8,223.5 68.8,220.2 68.9,219.5 68.9,216.4 69.0,215.9 69.0,212.7 69.1,211.9 69.1,208.5 69.2,207.8 69.2,204.7 69.3,203.5 69.4,200.6 69.4,199.9 69.5,196.5 69.5,195.7 69.6,192.0 69.7,191.7 69.7,188.2 69.8,187.2 69.8,184.0 69.9,183.4 70.0,180.1 70.0,179.2 70.1,175.6 70.1,175.2 70.2,171.9 70.3,171.1 70.3,167.8 70.4,166.7 70.4,163.4 70.5,162.9 70.6,159.5 70.6,158.8 70.8,155.2 71.0,154.2 71.2,151.0 71.3,154.0 71.3,155.3 71.4,158.2 71.5,159.1 71.5,162.8 71.6,163.6 71.6,166.5 71.7,167.3 71.8,170.9 71.8,171.8 71.9,175.0 72.0,175.9 71.9,179.4 71.9,180.0 71.9,183.3 71.9,184.3 71.9,187.6 71.9,188.4 71.9,191.5 71.8,192.1 71.8,195.4 71.8,196.2 71.8,199.9 71.8,200.4 71.8,203.9 71.8,204.8 71.8,207.8 71.7,208.8 71.7,212.1 71.7,212.8 71.7,216.0 71.7,216.5 71.7,220.3 71.7,220.6 71.6,224.2 71.6,225.0 71.6,228.4 71.6,229.1 71.6,232.3 71.6,233.2 71.6,236.3 71.6,237.3 71.5,240.8 71.5,241.1 71.5,244.7 71.6,245.4 71.6,248.6 71.7,249.6 71.8,252.5 71.8,253.3 71.9,256.9 71.9,257.5 72.0,260.8 72.1,261.3 72.1,264.8 72.2,265.4 72.2,268.8 72.3,269.5 72.4,272.8 72.6,273.7 72.8,277.0 73.0,277.8 73.2,281.5 73.3,278.1 73.4,277.3 73.5,273.5 73.6,272.8 73.7,269.6 73.8,268.4 73.9,265.1 73.9,264.2 74.0,260.7 74.1,259.9 74.1,256.3 74.2,255.6 74.3,252.1 74.3,251.2 74.4,247.6 74.5,247.0 74.5,243.5 74.8,242.7 75.1,238.9 75.4,238.3 76.3,234.5 77.1,234.1 77.5,230.4 77.8,229.5 78.2,226.3 78.5,225.4 78.7,221.5 79.0,220.9 79.3,217.3 80.4,216.7 81.4,216.2 82.5,214.2 83.6,210.8 83.8,214.4 84.0,215.2 84.2,218.7 84.5,219.5 84.7,223.2 85.2,219.5 85.8,218.8 86.3,219.9 86.8,222.8 86.9,219.6 87.0,218.8 87.1,215.4 87.1,214.5 87.2,210.9 87.3,209.8 87.3,206.7 87.4,205.6 87.5,202.6 87.6,201.2 87.8,198.1 87.9,196.9 88.0,193.9 88.1,192.5 88.2,193.7 88.3,197.0 88.4,197.9 88.4,201.5 88.5,202.5 88.6,206.0 88.6,206.9 88.7,210.0 88.8,211.1 88.9,214.3 88.9,215.5 89.0,218.9 89.0,219.7 89.1,222.8 89.2,223.9 89.2,227.1 89.3,228.2 89.4,231.6 89.4,232.5 89.5,236.2 89.6,236.7 89.6,240.3 89.7,241.1 89.8,244.7 89.8,245.6 89.9,248.8 90.0,249.8 90.0,253.3 90.1,253.9 90.2,257.9 90.2,258.4 90.3,261.8 90.4,262.6 90.5,266.0 90.6,267.4 90.6,270.6 90.7,271.4 90.9,274.7 91.1,275.7 91.2,279.4 91.4,280.2 91.5,279.2 91.6,275.9 91.7,274.8 91.9,271.2 92.0,270.5 92.1,266.9 92.2,266.5 92.3,262.8 92.5,261.8 92.6,258.2 92.7,257.6 92.8,254.2 92.9,253.2 93.0,249.6 93.1,249.0 93.2,245.7 93.3,244.6 93.4,241.4 93.5,240.4 93.6,236.9 93.8,235.9 93.9,232.4 94.0,231.9 94.1,228.5 94.2,227.4 94.3,224.1 94.4,223.3 94.6,219.5 94.7,218.6 94.9,215.4 95.0,214.2 95.2,210.7 95.3,210.0 95.5,206.6 96.6,209.0 96.7,205.7 96.7,205.0 96.7,201.6 96.8,200.7 96.8,197.5 96.9,196.8 96.9,193.6 96.9,192.8 97.0,189.7 97.0,188.8 97.0,185.5 97.1,184.7 97.1,181.3 97.2,180.8 97.2,177.7 97.2,176.5 97.3,173.4 97.3,172.9 97.4,169.1 97.4,168.6 97.4,165.6 97.5,164.7 97.5,161.3 97.5,160.5 97.5,157.1 97.5,156.5 97.6,153.1 97.6,152.6 97.6,149.1 97.6,148.2 97.6,144.8 97.7,144.1 97.7,141.0 97.7,140.3 97.7,137.1 97.8,136.3 97.8,132.7 97.8,132.0 97.8,128.9 97.8,128.1 97.9,124.5 97.9,123.7 97.9,120.6 97.9,119.9 97.9,116.5 98.0,115.7 98.0,112.7 98.0,111.8 98.0,108.3 98.1,107.4 98.1,104.5 98.1,103.8 98.1,100.1 98.1,99.6 98.2,96.5 98.2,95.6 98.2,91.9 98.2,95.7 98.2,96.1 98.2,99.3 98.2,100.1 98.2,103.4 98.2,104.2 98.2,107.8 98.2,108.2 98.3,111.4 98.3,112.5 98.3,115.9 98.3,116.6 98.3,119.8 98.3,120.5 98.3,123.6 98.3,124.4 98.3,127.5 98.3,128.8 98.3,131.8 98.3,132.8 98.3,135.6 98.3,136.6 98.3,140.0 98.3,140.5 98.4,143.8 98.4,144.8 98.4,147.9 98.4,148.7 98.4,152.0 98.4,152.6 98.4,156.0 98.4,157.1 98.4,160.2 98.4,161.1 98.4,164.2 98.4,164.9 98.4,168.4 98.4,168.9 98.4,172.3 98.4,173.1 98.4,176.3 98.5,177.2 98.5,180.5 98.5,181.1 98.5,184.2 98.5,185.3 98.5,188.4 98.5,189.1 98.6,192.4 98.7,193.2 98.8,196.8 98.9,197.8 99.0,201.0 99.1,201.9 99.2,204.8 99.2,205.8 99.3,209.1 99.4,209.8 99.5,213.4 99.6,214.3 99.7,217.7 99.8,218.6 100.0,217.5 100.2,214.1 100.4,212.6 100.6,209.0 100.8,208.4 101.0,204.9 101.2,203.5 101.3,200.2 101.4,199.7 101.5,196.2 101.6,195.4 101.7,192.2 101.8,191.4 101.9,188.3 102.0,187.3 102.1,184.0 102.2,183.2 102.3,180.1 102.4,179.0 102.5,175.7 102.7,179.4 103.0,180.0 103.3,183.5 103.5,184.2 103.8,187.8 104.1,188.6 104.3,192.1 104.6,192.8 104.9,196.2 105.1,197.4 105.3,200.3 105.4,201.7 105.5,204.7 105.6,205.6 105.7,209.3 105.9,210.0 106.0,213.3 106.1,214.5 106.2,218.2 106.3,218.8 106.5,222.3 107.1,223.7 107.8,227.4 108.1,224.5 108.4,223.4 108.8,220.4 109.1,219.6 109.4,220.3 109.6,223.7 109.9,224.9 110.2,228.0 110.4,229.2 110.7,232.4 110.9,233.6 111.1,236.9 111.3,238.1 111.5,241.6 111.8,242.4 112.1,245.8 112.4,246.2 112.8,249.6 113.1,250.3 113.8,249.1 114.4,245.1 114.5,244.2 114.6,240.9 114.7,240.0 114.8,236.5 114.9,235.6 115.0,232.6 115.1,231.3 115.2,228.4 115.3,227.2 115.4,224.1 115.5,223.5 115.6,220.0 115.7,219.0 115.8,215.8 115.9,214.7 116.0,211.2 116.1,210.5 116.3,207.1 116.4,205.8 116.5,202.4 117.5,201.3 118.4,197.1 118.9,196.4 119.5,192.9 120.0,192.2 120.5,189.4 120.8,188.4 121.0,184.8 121.2,183.6 121.4,180.3 121.6,179.7 121.8,175.9 122.0,175.0 122.1,172.0 122.3,170.7 122.5,167.4 122.6,166.8 122.8,163.2 122.9,162.4 123.0,163.7 123.2,166.8 123.3,168.0 123.5,171.2 123.6,172.5 123.8,175.8 123.9,176.9 124.1,180.0 124.2,181.5 124.6,184.7 125.0,185.4 125.4,188.5 125.8,189.2 125.9,192.6 126.0,193.7 126.2,196.7 126.3,197.9 126.4,201.1 126.5,201.7 126.6,205.4 126.7,206.0 126.8,209.4 126.9,210.7 127.3,213.7 127.7,214.4 128.1,217.7 128.5,218.5 128.6,221.8 128.6,222.4 128.7,226.1 128.8,226.8 128.9,230.1 128.9,230.7 129.0,234.1 129.1,235.3 129.2,238.3 129.2,239.5 129.3,242.7 129.4,243.2 129.5,246.7 129.6,247.8 131.1,251.3 131.9,253.0 132.7,256.6 133.3,258.2 134.0,262.2 134.6,263.7 135.3,267.2 136.0,268.7 136.6,272.5 138.0,274.3 139.3,277.9 140.6,274.2 141.0,273.2 141.3,270.2 141.6,269.3 141.9,266.0 143.3,264.8 144.6,266.0 144.9,265.4 145.1,261.8 145.4,261.1 145.7,257.7 145.9,257.0 146.2,258.1 146.5,262.4 146.7,262.7 146.9,266.2 147.1,267.0 147.3,270.3 147.6,270.9 147.9,273.9 148.2,275.0 148.6,277.9 149.9,279.6 151.2,283.5 153.4,283.5 154.3,282.5 155.2,279.3 156.6,278.1 158.7,274.4 160.5,277.8 161.9,274.3 163.2,272.7 164.5,273.9 165.8,278.3 167.2,279.4 168.5,279.2 169.8,276.8 171.2,280.6 172.5,280.9 173.8,283.1 175.1,283.4 176.5,286.2 177.8,282.0 179.1,285.8 180.4,287.4 181.8,287.2 183.1,287.3 185.2,290.0 187.1,289.8 188.4,288.8 188.6,285.4 188.8,284.1 189.1,280.6 189.3,279.8 189.5,276.4 189.7,275.4 190.1,271.3 190.5,270.3 191.1,271.5 191.6,275.7 191.9,276.7 192.1,280.5 192.4,281.9 192.6,285.4 192.9,286.6 193.2,290.0 193.4,290.8 193.7,294.0 194.4,290.1 195.0,288.9 195.3,285.3 195.6,284.3 195.8,281.2 196.1,280.0 196.4,276.8 197.0,275.3 197.7,271.3 199.0,275.3 199.4,272.2 199.7,271.3 200.0,267.9 200.3,267.6 200.6,263.9 200.9,263.2 201.1,259.9 201.4,258.7 201.7,255.4 201.8,254.7 201.9,251.6 202.1,250.3 202.2,247.3 202.3,246.3 202.5,242.6 202.6,241.8 202.7,238.4 202.9,237.6 203.0,234.2 203.2,233.8 203.4,230.3 203.6,229.8 203.8,226.4 203.7,224.7 203.9,225.8 204.1,229.3 204.4,230.2 204.6,233.4 204.8,234.4 205.3,238.0 205.8,239.7 206.9,243.5 207.4,244.9 208.0,249.0 209.3,250.3 210.0,254.4 210.6,255.4 210.7,259.2 210.8,259.7 210.9,263.3 211.0,264.0 211.1,267.6 211.2,268.4 211.2,271.7 211.3,272.4 211.4,275.9 211.5,276.9 211.6,279.9 211.7,281.3 211.8,284.3 211.9,285.2 211.9,288.8 212.0,289.4 212.1,292.7 212.2,293.4 212.2,296.8 212.3,297.6 212.4,300.8 212.5,301.7 212.5,305.3 212.6,305.7 212.7,309.5 212.8,310.0 212.8,313.6 212.9,314.1 213.0,317.6 213.1,318.5 213.1,321.7 213.2,322.3 213.3,325.7 213.5,326.6 213.7,330.4 213.8,331.5 214.0,334.7 214.2,336.0 214.4,339.3 214.6,340.4 215.4,344.6 216.5,345.6 216.6,344.9 216.8,341.3 216.9,340.0 217.1,336.6 217.2,335.7 217.4,332.0 217.5,331.1 217.7,327.4 217.8,326.4 218.0,323.2 218.1,321.9 218.3,318.4 218.4,317.7 218.6,314.1 219.2,312.6 219.9,308.5 220.2,311.9 220.4,313.1 220.7,316.3 221.0,317.0 221.2,320.7 222.6,316.5 223.2,315.2 223.9,311.3 224.6,309.9 225.2,305.8 225.9,304.5 226.6,300.8 227.9,299.3 228.0,295.7 228.1,294.9 228.3,291.9 228.4,290.6 228.5,287.4 228.7,286.6 228.8,283.3 228.9,282.1 229.1,278.9 229.2,278.1 229.4,274.5 229.6,273.8 229.9,270.4 230.1,269.2 230.3,265.6 230.5,265.0 231.9,266.3 232.5,265.0 233.2,260.8 233.8,259.7 234.5,255.7 235.2,254.3 235.8,250.1 236.2,249.5 236.5,246.5 236.8,245.4 237.2,242.5 237.2,241.2 237.2,238.3 237.3,237.3 237.3,234.1 237.4,233.2 237.4,229.6 237.5,229.0 237.5,225.3 237.5,224.8 237.6,221.1 237.6,220.7 237.7,217.1 237.7,216.5 237.7,213.2 237.8,211.9 237.8,209.0 237.9,207.8 237.9,204.6 238.0,203.7 238.0,200.3 238.1,199.7 238.1,196.5 238.2,195.5 238.2,192.2 238.3,191.3 238.3,188.3 238.4,187.4 238.4,184.1 238.5,183.3 238.5,179.9 238.6,179.3 238.6,175.5 238.7,174.8 238.7,171.5 238.8,171.0 238.8,167.7 238.9,166.6 238.9,163.5 239.0,162.6 239.0,159.2 239.0,158.9 239.0,155.4 239.1,154.5 239.1,151.4 239.1,150.7 239.1,147.2 239.1,146.7 239.1,143.5 239.2,142.5 239.2,139.2 239.2,138.6 239.2,135.6 239.2,134.6 239.2,131.5 239.2,130.7 239.3,127.6 239.3,126.5 239.3,123.6 239.3,122.6 239.3,119.1 239.3,118.7 239.4,115.4 239.4,114.9 239.4,111.6 239.4,110.6 239.4,107.2 239.4,106.4 239.5,103.2 239.5,102.6 239.5,99.6 239.6,98.5 239.6,95.4 239.7,94.6 239.8,91.4 239.8,90.4 239.9,87.5 239.9,86.9 240.0,83.4 240.1,86.6 240.2,87.6 240.4,90.5 240.5,91.1 240.6,94.7 240.8,95.4 240.9,98.4 241.0,99.4 241.2,102.8 241.5,103.4 241.8,106.7 242.0,107.2 242.4,106.7 242.8,103.3 243.1,102.4 243.5,99.6 244.1,98.6 244.7,95.1 245.0,94.4 245.4,90.6 245.7,90.1 246.1,86.6 246.4,85.9 246.6,81.9 246.8,81.1 246.9,77.5 247.1,76.3 247.3,72.6 247.6,72.0 248.0,68.1 248.3,67.4 248.7,64.3 249.0,63.3 249.3,60.1 249.6,59.2 249.8,55.9 250.1,55.0 250.4,52.0 250.7,50.9 251.0,47.8 251.3,46.5 251.6,43.0 251.9,46.7 252.2,47.5 252.5,50.4 252.6,51.3 252.7,55.1 252.8,55.6 253.0,58.8 253.1,59.9 253.2,63.4 253.3,63.7 253.4,67.1 253.4,68.5 253.5,71.7 253.5,72.7 253.6,76.2 253.6,77.0 253.7,80.5 253.7,81.4 253.8,84.7 253.8,85.3 253.8,89.1 253.9,90.1 254.0,93.1 254.0,94.1 254.1,97.5 254.1,98.6 254.2,101.9 254.2,102.8 254.2,106.5 254.3,107.3 254.3,110.6 254.4,111.6 254.4,114.9 254.5,115.6 254.6,118.9 254.6,119.9 254.7,123.3 254.7,124.2 254.8,127.4 254.8,128.1 254.9,131.3 255.0,132.1 255.0,135.6 255.1,136.4 255.1,139.5 255.2,140.5 255.2,143.5 255.3,144.5 255.4,147.5 255.5,148.7 255.6,152.0 255.8,152.8 255.9,156.5 256.0,157.2 256.1,160.5 256.2,161.3 256.3,160.9 256.5,157.1 256.6,156.9 256.7,153.5 256.9,152.4 257.0,149.1 257.1,152.4 257.2,153.4 257.3,156.8 257.4,157.4 257.6,160.6 257.7,161.1 257.8,164.5 257.9,165.3 258.0,168.8 258.2,165.4 258.3,164.2 258.5,160.9 258.7,160.0 258.8,156.7 259.0,155.6 259.1,156.7 259.2,159.6 259.3,160.7 259.4,163.8 259.5,164.6 259.5,168.0 259.6,169.1 259.7,172.5 259.8,173.1 259.9,176.4 260.0,177.2 260.2,176.5 260.3,173.1 260.5,172.2 260.7,168.8 260.8,167.7 261.0,164.2 261.1,167.7 261.1,168.3 261.2,171.7 261.3,172.9 261.3,175.8 261.4,176.7 261.5,180.2 261.5,181.3 261.6,184.1 261.7,185.0 261.7,188.5 261.8,189.2 261.9,192.5 262.0,193.6 262.1,196.9 262.2,197.8 262.3,201.4 262.4,202.2 262.5,205.5 262.6,206.3 262.7,209.7 262.8,211.0 262.9,214.2 262.9,215.2 263.0,218.1 263.1,219.3 263.2,222.7 263.9,223.2 264.5,226.7 265.2,223.1 266.0,221.7 266.8,222.7 267.5,226.4 269.0,223.2 269.1,222.5 269.3,219.5 269.4,218.4 269.6,215.2 269.7,214.6 269.9,211.2 270.0,210.6 270.1,207.6 270.1,206.5 270.2,203.5 270.3,202.9 270.3,199.5 270.4,198.4 270.5,195.4 270.5,194.4 270.6,191.4 270.7,190.7 270.7,187.3 270.8,186.5 270.9,183.6 270.9,182.6 271.0,179.3 271.3,182.6 271.7,183.3 272.0,186.9 272.1,187.6 272.3,190.5 272.4,191.4 272.6,194.6 272.7,195.2 272.9,198.7 273.0,199.3 273.1,202.7 273.3,203.5 273.4,207.2 273.6,208.1 273.7,211.1 273.9,212.4 274.0,215.6 274.2,212.9 274.8,216.9 275.3,218.3 275.7,217.1 276.1,212.8 276.9,216.8 277.2,217.6 277.4,220.9 277.7,221.9 278.0,225.0 278.2,225.6 278.5,229.3 278.8,230.3 279.0,233.7 279.3,234.4 280.6,238.3 281.9,234.2 283.3,232.8 284.6,234.4 285.3,232.8 285.9,229.2 287.3,232.7 287.9,228.9 288.6,227.6 289.1,223.5 289.3,226.7 289.5,227.8 289.7,230.8 289.9,231.4 290.2,235.1 290.6,235.4 290.9,238.9 291.2,239.8 292.6,243.5 293.9,243.8 295.2,245.9 296.6,246.2 297.9,248.7 299.2,249.1 300.5,251.0 301.9,250.0 303.2,249.1 304.5,247.1 305.8,246.0 307.2,243.5 307.6,242.4 308.0,239.2 308.5,238.0 309.2,234.7 309.8,234.3 310.0,235.3 310.2,238.8 310.4,239.9 310.6,243.8 310.9,244.4 311.1,247.6 311.4,248.6 311.7,252.3 311.9,253.0 313.8,255.6 316.5,254.0 319.1,256.2 321.8,254.1 324.4,256.3 327.1,255.8 329.7,256.6 331.1,254.0 331.1,253.4 331.1,250.1 331.2,249.4 331.2,245.8 331.3,245.0 331.3,241.7 331.4,240.9 331.4,237.5 331.5,236.6 331.5,233.1 331.5,232.4 331.6,229.2 331.6,228.0 331.7,224.7 331.7,224.1 331.8,220.8 331.8,220.1 331.8,216.6 331.9,215.4 331.9,212.5 332.0,211.4 332.0,208.0 332.0,207.4 332.1,204.0 332.1,203.1 332.2,199.9 332.2,198.9 332.3,195.6 332.3,194.6 332.3,191.5 332.4,190.6 332.4,187.3 332.5,186.4 332.6,183.0 332.6,182.2 332.7,178.7 332.7,177.9 332.8,174.4 332.8,174.0 332.9,170.5 333.0,169.5 333.0,166.0 333.1,165.2 333.1,162.1 333.2,161.2 333.3,157.3 333.4,156.3 333.5,152.7 333.6,151.8 333.7,147.9 333.8,151.2 333.9,152.1 334.0,155.7 334.1,156.5 334.2,160.2 334.3,161.0 334.4,164.6 334.5,165.2 334.6,168.7 334.7,169.7 334.8,173.4 335.0,174.3 335.1,178.0 335.2,178.8 335.3,182.3 335.5,183.5 335.6,186.8 335.8,187.9 335.9,191.7 336.1,192.4 336.2,195.9 336.4,197.1 336.5,200.5 336.7,201.5 336.8,204.4 337.0,205.2 337.1,208.9 337.2,209.7 337.4,213.0 337.5,213.6 337.7,216.9 337.8,217.9 338.0,221.3 338.1,222.5 338.2,225.6 338.4,226.7 338.5,230.3 338.7,231.1 338.8,234.7 339.0,235.7 339.2,239.0 339.4,239.9 339.6,243.5 339.6,244.4 339.6,247.9 339.7,248.7 339.7,252.1 339.8,253.1 339.8,256.2 339.9,257.0 339.9,260.3 340.0,261.6 340.0,264.5 341.3,266.0 342.6,269.9 344.0,266.2 344.1,265.3 344.1,261.9 344.2,261.2 344.3,257.9 344.3,256.9 344.4,253.6 344.5,253.1 344.6,249.6 344.6,249.0 344.7,245.5 344.8,244.8 344.9,241.2 344.9,240.7 345.0,237.5 345.1,236.7 345.2,232.9 345.2,232.2 345.3,229.2 345.4,228.1 345.4,225.0 345.5,223.9 345.6,220.8 345.7,219.6 345.7,216.7 345.8,215.6 345.9,212.4 345.9,211.5 346.0,208.1 346.1,207.0 346.1,203.6 346.2,203.2 346.3,199.6 346.4,198.7 346.4,195.5 346.5,194.6 346.6,191.3 346.6,190.2 346.7,187.2 346.8,186.5 346.8,183.0 346.9,182.5 346.9,178.9 347.0,178.3 347.1,174.7 347.1,174.3 347.2,170.7 347.2,170.0 347.3,166.6 347.4,166.0 347.4,162.4 347.5,161.8 347.6,158.2 347.7,157.1 347.8,153.9 347.9,152.7 348.0,149.3 348.0,148.8 348.0,145.5 348.1,144.6 348.1,141.2 348.1,140.6 348.2,137.6 348.2,136.7 348.2,133.4 348.3,132.4 348.3,129.5 348.3,128.4 348.4,125.6 348.4,124.6 348.4,121.6 348.5,120.4 348.5,117.3 348.5,116.9 348.6,113.2 348.6,112.5 348.6,109.1 348.7,108.4 348.7,105.6 348.7,104.4 348.8,101.6 348.8,100.7 348.8,97.2 348.9,96.6 348.9,93.2 349.0,92.6 349.0,89.1 349.0,88.7 349.1,85.4 349.1,84.5 349.1,81.4 349.2,80.6 349.2,77.2 349.2,76.5 349.3,73.5 349.3,72.8 349.3,69.6 349.4,68.6 349.4,65.5 349.4,64.7 349.5,61.3 349.5,60.4 349.6,57.2 349.6,56.5 349.7,53.3 349.8,52.6 349.8,48.9 349.9,48.2 350.0,44.8 350.1,43.9 350.1,40.8 350.2,39.8 350.3,36.6 350.3,36.1 350.4,32.5 350.5,31.5 350.5,28.4 350.6,27.6 350.6,28.4 350.6,31.5 350.6,32.6 350.6,35.7 350.6,36.7 350.6,39.8 350.6,40.7 350.6,43.7 350.6,44.8 350.6,47.7 350.6,48.4 350.6,51.8 350.6,52.9 350.6,55.8 350.6,56.4 350.6,59.7 350.6,60.8 350.6,63.8 350.6,64.7 350.6,68.0 350.6,69.0 350.6,72.3 350.6,72.9 350.6,76.2 350.6,76.9 350.6,80.4 350.6,81.2 350.6,84.1 350.6,85.1 350.6,88.1 350.6,88.8 350.6,92.3 350.6,93.1 350.6,96.3 350.6,96.9 350.6,100.4 350.6,101.2 350.6,104.5 350.6,105.1 350.6,108.4 350.6,109.3 350.6,112.3 350.6,113.3 350.6,116.8 350.6,117.4 350.6,120.5 350.6,121.3 350.6,124.7 350.6,125.6 350.6,128.6 350.6,129.3 350.6,132.5 350.6,133.7 350.6,136.9 350.6,137.3 350.6,140.6 350.6,141.8 350.6,144.9 350.6,145.7 350.6,149.0 350.6,149.9 350.6,152.9 350.6,153.9 350.6,156.9 350.6,157.6 350.6,161.0 350.6,161.6 350.6,165.2 350.6,165.8 350.6,169.3 350.6,170.0 350.6,173.1 350.6,174.0 350.6,177.2 350.7,178.2 350.7,181.5 350.7,182.1 350.8,185.5 350.8,185.9 350.9,189.7 350.9,190.3 350.9,193.7 351.0,194.0 351.0,197.4 351.1,198.2 351.1,201.8 351.1,202.5 351.2,205.6 351.3,206.7 351.3,209.8 351.4,210.4 351.5,213.9 351.5,214.8 351.6,218.1 351.6,218.8 351.7,222.2 351.8,222.9 351.8,226.1 351.9,227.2 351.9,230.4 352.0,231.0 352.1,234.4 352.2,235.4 352.3,238.8 352.3,239.6 352.4,243.2 352.5,243.7 352.6,247.2 352.7,248.2 352.7,251.6 352.8,248.3 352.8,247.5 352.9,244.1 353.0,243.0 353.0,239.8 353.1,238.8 353.1,235.6 353.2,234.4 353.2,230.9 353.3,230.4 353.3,227.1 353.3,226.1 353.4,223.0 353.4,221.7 353.4,218.7 353.4,218.0 353.5,214.4 353.5,213.4 353.5,210.4 353.5,209.1 353.6,205.7 353.6,205.3 353.6,201.5 353.7,201.1 353.7,197.4 353.7,196.6 353.7,193.6 353.8,192.4 353.8,189.4 353.9,188.1 353.9,184.7 354.0,183.9 354.1,180.8 354.2,179.5 354.2,176.0 354.3,175.4 354.4,171.7 354.5,171.0 354.5,167.2 354.6,166.6 355.0,162.7 355.4,161.3 355.6,162.2 355.8,165.2 356.0,166.5 356.2,169.7 356.5,170.8 356.9,174.3 357.3,176.1 357.4,174.9 357.5,171.2 357.7,170.5 357.8,166.9 357.9,166.2 358.1,162.6 358.6,161.1 359.1,157.4 359.3,160.5 359.5,161.2 359.7,164.8 359.9,165.1 360.0,168.7 360.1,170.0 360.3,173.1 360.4,174.4 360.5,177.8 360.6,179.2 360.7,182.4 360.9,183.7 361.0,186.9 361.2,188.0 361.3,191.6 361.5,192.7 361.6,196.3 361.8,197.3 361.9,200.9 362.1,201.8 362.3,205.1 362.5,205.9 362.7,209.6 362.8,210.4 362.9,214.0 363.1,214.5 363.2,218.0 363.3,218.9 363.4,221.8 363.5,222.8 363.7,226.2 363.8,227.2 363.9,230.4 364.0,231.2 364.1,234.5 364.2,235.4 364.3,238.9 364.4,239.7 364.5,243.0 364.6,243.8 364.7,247.3 364.8,248.2 364.9,251.4 365.1,252.4 365.3,255.8 365.4,256.5 365.6,259.8 365.8,260.9 365.9,260.0 366.1,256.8 366.2,255.5 366.4,252.1 366.6,251.3 366.6,248.1 366.7,247.2 366.8,244.1 366.9,242.9 366.9,239.8 367.0,238.7 367.1,235.2 367.2,234.3 367.3,231.2 367.3,230.4 367.4,231.0 367.4,234.2 367.5,235.4 367.5,238.5 367.6,239.3 367.6,242.8 367.6,243.8 367.7,247.0 367.7,247.9 367.8,251.0 367.8,252.0 367.8,255.5 367.9,256.3 367.9,259.6 368.0,260.3 368.0,264.0 368.1,264.6 368.1,267.7 368.1,268.8 368.2,272.2 368.3,273.1 368.3,276.4 368.4,277.2 368.4,280.5 368.5,281.2 368.6,284.6 368.6,285.1 368.7,288.8 369.7,288.6 371.9,290.1 374.5,288.1 377.2,288.7 379.8,286.0 381.1,288.4 383.8,288.6 386.5,290.6 389.1,288.7 391.8,290.0 394.4,287.3 394.5,286.7 394.6,283.3 394.7,282.7 394.8,279.2 394.9,278.4 395.0,274.8 395.0,274.1 395.1,270.8 395.2,270.3 395.3,267.0 395.5,266.1 395.6,262.6 395.7,261.9 395.8,258.4 395.9,257.9 396.0,254.6 396.2,253.6 396.3,250.2 396.4,249.5 396.4,245.8 396.5,245.4 396.6,241.7 396.7,240.8 396.8,237.7 396.9,237.0 396.9,233.2 397.0,232.7 397.1,229.3 397.2,228.6 397.3,225.0 397.4,228.7 397.6,229.5 397.7,233.4 397.9,234.1 398.0,238.0 398.2,238.8 398.3,242.1 398.4,242.8 398.4,246.3 398.5,247.3 398.6,250.6 398.7,251.3 398.8,254.6 398.9,255.6 398.9,258.5 399.0,259.3 399.1,262.7 399.2,263.7 399.3,267.0 399.5,267.7 399.6,270.9 399.7,271.6 399.8,275.1 399.9,275.6 400.0,278.8 400.2,280.0 400.4,283.3 400.6,284.7 400.8,287.8 400.9,289.2 401.4,292.5 401.9,293.4 402.4,292.8 403.0,289.1 403.2,287.8 403.4,284.6 403.6,283.5 403.8,279.9 403.9,278.6 404.1,275.3 404.2,274.3 404.3,271.3 404.4,270.4 404.5,267.1 404.6,266.0 404.7,262.5 404.8,261.8 404.8,258.2 404.9,257.5 405.0,254.0 405.1,253.1 405.2,249.8 405.3,249.1 405.6,245.9 405.9,244.5 406.1,240.8 406.4,240.1 406.7,236.3 407.0,235.6 407.3,232.2 407.6,230.8 408.7,227.4 408.8,230.9 408.9,231.2 409.0,234.6 409.1,235.3 409.2,238.9 409.3,239.8 409.3,242.8 409.4,243.8 409.5,247.1 409.6,247.9 409.7,251.1 409.8,251.8 409.9,255.4 410.0,256.3 410.0,259.7 410.1,260.5 410.2,263.6 410.3,264.7 410.4,267.7 410.4,268.4 410.5,272.1 410.7,273.0 410.8,276.7 411.0,277.5 411.1,281.1 411.3,282.2 411.4,285.5 411.9,287.0 412.4,290.1 412.8,291.3 413.3,294.6 414.4,295.8 415.6,299.3 416.7,300.6 417.1,299.3 417.5,295.9 417.8,294.7 418.4,291.1 419.0,290.3 420.1,287.0 421.3,285.5 422.4,286.5 423.6,290.3 424.7,286.8 425.8,290.4 427.0,291.5 428.1,290.5 429.3,286.5 430.4,285.8 430.7,282.4 431.0,281.1 431.3,277.4 431.6,276.6 431.7,273.4 431.8,272.4 431.9,269.4 432.1,268.5 432.2,265.3 432.3,264.4 432.4,260.9 432.6,260.5 432.7,257.0 433.0,256.2 433.3,252.7 433.5,251.7 433.8,247.7 434.4,246.9 435.0,243.1 435.5,246.8 436.1,247.6 436.7,251.3 437.3,252.2 437.8,256.2 438.4,256.8 439.0,260.7 439.5,261.8 439.7,260.5 439.8,256.9 439.9,256.2 440.0,252.4 440.2,255.8 440.4,257.1 440.6,260.5 440.8,261.8 440.9,265.0 441.1,266.2 441.3,269.4 441.4,270.3 441.6,273.4 441.7,273.9 441.9,277.5 442.0,278.0 442.1,281.7 442.3,282.4 442.6,281.3 442.9,277.8 443.2,276.4 443.4,272.9 443.7,272.1 443.9,268.4 444.1,267.4 444.2,264.0 444.3,263.3 444.4,260.2 444.5,259.2 444.6,256.2 444.7,255.0 444.8,251.7 444.9,251.4 445.0,248.0 445.2,246.8 445.4,243.4 445.6,242.4 445.8,238.8 445.9,237.6 446.2,234.0 446.5,233.4 446.9,229.9 447.3,228.6 447.8,225.2 448.0,224.1 448.1,220.6 448.3,219.3 448.5,216.0 448.7,214.9 449.0,211.3 449.3,210.3 449.6,206.7 450.5,210.3 450.6,210.8 450.7,214.3 450.9,214.9 451.0,218.5 451.1,219.0 451.2,222.4 451.3,222.9 451.4,226.4 451.6,227.5 451.8,230.8 452.0,232.1 452.1,235.2 452.3,236.4 452.5,239.9 452.7,241.2 452.9,244.3 453.1,245.9 453.2,249.2 453.4,250.3 453.6,253.7 453.8,254.7 454.0,258.5 454.2,259.2 454.3,258.4 454.3,254.9 454.4,254.2 454.5,251.1 454.6,250.4 454.7,247.1 454.8,246.4 454.9,242.8 455.0,242.2 455.1,239.0 455.5,237.9 456.0,234.3 456.4,237.8 456.9,238.6 457.4,242.2 457.8,243.5 458.7,242.2 459.2,243.1 459.6,247.0 460.6,243.3 460.8,242.3 461.1,238.7 461.4,237.6 461.7,234.4 462.0,233.0 462.3,229.6 462.6,228.6 462.8,224.8 463.1,224.1 463.3,220.3 463.5,219.7 463.8,215.9 464.1,214.9 464.4,211.4 464.7,210.3 465.1,211.2 465.6,214.9 465.7,215.9 465.7,219.3 465.8,219.9 465.9,223.4 466.0,224.1 466.0,227.5 466.1,228.2 466.2,231.4 466.3,232.7 466.3,236.0 466.4,236.7 466.5,239.8 466.6,240.6 466.7,244.2 466.8,244.7 466.9,248.1 467.0,249.1 467.1,252.3 467.2,253.1 467.3,256.4 467.4,256.9 467.6,260.5 467.9,261.9 468.1,265.2 468.3,266.0 468.8,269.8 469.2,270.5 470.1,274.1 471.1,275.2 472.0,278.8 472.9,279.8 473.8,278.7 474.7,275.4 474.9,274.3 475.2,270.7 475.4,269.9 475.6,266.1 475.8,265.1 476.0,261.5 476.2,260.6 476.4,257.1 476.6,255.9 476.7,252.4 476.9,251.4 477.1,248.1 477.3,246.7 477.5,243.4 477.8,242.4 478.1,238.7 478.4,237.7 479.3,238.6 479.7,242.2 480.2,243.4 480.4,242.4 480.7,238.7 480.9,237.7 481.1,234.0 481.3,237.5 481.6,238.7 481.8,242.5 482.0,243.1 482.5,246.7 482.9,247.7 483.4,251.5 483.9,252.2 484.3,251.3 484.8,247.8 485.2,246.9 485.7,243.1 486.0,246.8 486.3,248.0 486.6,251.2 486.9,252.4 487.2,255.8 487.5,256.8 488.0,255.8 488.4,252.6 488.7,251.7 489.0,247.9 489.3,247.0 489.8,243.4 490.2,242.2 491.2,238.8 492.1,238.0 493.0,234.4 493.9,233.4 494.8,234.0 495.7,237.8 496.6,234.3 497.6,233.3 498.0,234.0 498.5,237.8 498.9,238.9 499.4,242.4 499.7,238.5 500.0,237.8 500.3,234.4 500.8,233.0 501.2,229.5 502.1,228.4 503.0,226.5 504.0,229.7 504.9,230.9 505.8,230.9 506.7,228.7 507.2,232.6 507.6,234.1 507.8,237.6 508.1,238.7 508.3,242.3 508.5,243.2 508.8,242.3 509.1,238.7 509.4,237.8 511.3,239.4" fill="none" stroke="#111" stroke-width="2.2" stroke-dasharray="4.5 3" stroke-linejoin="round"/>
</g>
<rect x="63.6" y="11.2" width="446.80" height="353.10" fill="none" stroke="#555" stroke-width="1"/>
<line x1="78.30" x2="78.30" y1="364.3" y2="360.8" stroke="#555" stroke-width="1"/>
<line x1="78.30" x2="78.30" y1="11.2" y2="14.7" stroke="#555" stroke-width="1"/>
<text x="0" y="0" transform="translate(79.30,377.10) rotate(-45)" text-anchor="middle" dominant-baseline="central" font-size="10.5">02</text>
<line x1="98.25" x2="98.25" y1="364.3" y2="360.8" stroke="#555" stroke-width="1"/>
<line x1="98.25" x2="98.25" y1="11.2" y2="14.7" stroke="#555" stroke-width="1"/>
<text x="0" y="0" transform="translate(99.25,377.10) rotate(-45)" text-anchor="middle" dominant-baseline="central" font-size="10.5">03</text>
<line x1="118.20" x2="118.20" y1="364.3" y2="360.8" stroke="#555" stroke-width="1"/>
<line x1="118.20" x2="118.20" y1="11.2" y2="14.7" stroke="#555" stroke-width="1"/>
<text x="0" y="0" transform="translate(119.20,377.10) rotate(-45)" text-anchor="middle" dominant-baseline="central" font-size="10.5">04</text>
<line x1="138.15" x2="138.15" y1="364.3" y2="360.8" stroke="#555" stroke-width="1"/>
<line x1="138.15" x2="138.15" y1="11.2" y2="14.7" stroke="#555" stroke-width="1"/>
<text x="0" y="0" transform="translate(139.15,377.10) rotate(-45)" text-anchor="middle" dominant-baseline="central" font-size="10.5">05</text>
<line x1="158.10" x2="158.10" y1="364.3" y2="360.8" stroke="#555" stroke-width="1"/>
<line x1="158.10" x2="158.10" y1="11.2" y2="14.7" stroke="#555" stroke-width="1"/>
<text x="0" y="0" transform="translate(159.10,377.10) rotate(-45)" text-anchor="middle" dominant-baseline="central" font-size="10.5">06</text>
<line x1="178.05" x2="178.05" y1="364.3" y2="360.8" stroke="#555" stroke-width="1"/>
<line x1="178.05" x2="178.05" y1="11.2" y2="14.7" stroke="#555" stroke-width="1"/>
<text x="0" y="0" transform="translate(179.05,377.10) rotate(-45)" text-anchor="middle" dominant-baseline="central" font-size="10.5">07</text>
<line x1="198.00" x2="198.00" y1="364.3" y2="360.8" stroke="#555" stroke-width="1"/>
<line x1="198.00" x2="198.00" y1="11.2" y2="14.7" stroke="#555" stroke-width="1"/>
<text x="0" y="0" transform="translate(199.00,377.10) rotate(-45)" text-anchor="middle" dominant-baseline="central" font-size="10.5">08</text>
<line x1="217.95" x2="217.95" y1="364.3" y2="360.8" stroke="#555" stroke-width="1"/>
<line x1="217.95" x2="217.95" y1="11.2" y2="14.7" stroke="#555" stroke-width="1"/>
<text x="0" y="0" transform="translate(218.95,377.10) rotate(-45)" text-anchor="middle" dominant-baseline="central" font-size="10.5">09</text>
<line x1="237.90" x2="237.90" y1="364.3" y2="360.8" stroke="#555" stroke-width="1"/>
<line x1="237.90" x2="237.90" y1="11.2" y2="14.7" stroke="#555" stroke-width="1"/>
<text x="0" y="0" transform="translate(238.90,377.10) rotate(-45)" text-anchor="middle" dominant-baseline="central" font-size="10.5">10</text>
<line x1="257.85" x2="257.85" y1="364.3" y2="360.8" stroke="#555" stroke-width="1"/>
<line x1="257.85" x2="257.85" y1="11.2" y2="14.7" stroke="#555" stroke-width="1"/>
<text x="0" y="0" transform="translate(258.85,377.10) rotate(-45)" text-anchor="middle" dominant-baseline="central" font-size="10.5">11</text>
<line x1="277.80" x2="277.80" y1="364.3" y2="360.8" stroke="#555" stroke-width="1"/>
<line x1="277.80" x2="277.80" y1="11.2" y2="14.7" stroke="#555" stroke-width="1"/>
<text x="0" y="0" transform="translate(278.80,377.10) rotate(-45)" text-anchor="middle" dominant-baseline="central" font-size="10.5">12</text>
<line x1="297.75" x2="297.75" y1="364.3" y2="360.8" stroke="#555" stroke-width="1"/>
<line x1="297.75" x2="297.75" y1="11.2" y2="14.7" stroke="#555" stroke-width="1"/>
<text x="0" y="0" transform="translate(298.75,377.10) rotate(-45)" text-anchor="middle" dominant-baseline="central" font-size="10.5">13</text>
<line x1="317.70" x2="317.70" y1="364.3" y2="360.8" stroke="#555" stroke-width="1"/>
<line x1="317.70" x2="317.70" y1="11.2" y2="14.7" stroke="#555" stroke-width="1"/>
<text x="0" y="0" transform="translate(318.70,377.10) rotate(-45)" text-anchor="middle" dominant-baseline="central" font-size="10.5">14</text>
<line x1="337.65" x2="337.65" y1="364.3" y2="360.8" stroke="#555" stroke-width="1"/>
<line x1="337.65" x2="337.65" y1="11.2" y2="14.7" stroke="#555" stroke-width="1"/>
<text x="0" y="0" transform="translate(338.65,377.10) rotate(-45)" text-anchor="middle" dominant-baseline="central" font-size="10.5">15</text>
<line x1="357.60" x2="357.60" y1="364.3" y2="360.8" stroke="#555" stroke-width="1"/>
<line x1="357.60" x2="357.60" y1="11.2" y2="14.7" stroke="#555" stroke-width="1"/>
<text x="0" y="0" transform="translate(358.60,377.10) rotate(-45)" text-anchor="middle" dominant-baseline="central" font-size="10.5">16</text>
<line x1="377.55" x2="377.55" y1="364.3" y2="360.8" stroke="#555" stroke-width="1"/>
<line x1="377.55" x2="377.55" y1="11.2" y2="14.7" stroke="#555" stroke-width="1"/>
<text x="0" y="0" transform="translate(378.55,377.10) rotate(-45)" text-anchor="middle" dominant-baseline="central" font-size="10.5">17</text>
<line x1="397.50" x2="397.50" y1="364.3" y2="360.8" stroke="#555" stroke-width="1"/>
<line x1="397.50" x2="397.50" y1="11.2" y2="14.7" stroke="#555" stroke-width="1"/>
<text x="0" y="0" transform="translate(398.50,377.10) rotate(-45)" text-anchor="middle" dominant-baseline="central" font-size="10.5">18</text>
<line x1="417.45" x2="417.45" y1="364.3" y2="360.8" stroke="#555" stroke-width="1"/>
<line x1="417.45" x2="417.45" y1="11.2" y2="14.7" stroke="#555" stroke-width="1"/>
<text x="0" y="0" transform="translate(418.45,377.10) rotate(-45)" text-anchor="middle" dominant-baseline="central" font-size="10.5">19</text>
<line x1="437.40" x2="437.40" y1="364.3" y2="360.8" stroke="#555" stroke-width="1"/>
<line x1="437.40" x2="437.40" y1="11.2" y2="14.7" stroke="#555" stroke-width="1"/>
<text x="0" y="0" transform="translate(438.40,377.10) rotate(-45)" text-anchor="middle" dominant-baseline="central" font-size="10.5">20</text>
<line x1="457.35" x2="457.35" y1="364.3" y2="360.8" stroke="#555" stroke-width="1"/>
<line x1="457.35" x2="457.35" y1="11.2" y2="14.7" stroke="#555" stroke-width="1"/>
<text x="0" y="0" transform="translate(458.35,377.10) rotate(-45)" text-anchor="middle" dominant-baseline="central" font-size="10.5">21</text>
<line x1="477.30" x2="477.30" y1="364.3" y2="360.8" stroke="#555" stroke-width="1"/>
<line x1="477.30" x2="477.30" y1="11.2" y2="14.7" stroke="#555" stroke-width="1"/>
<text x="0" y="0" transform="translate(478.30,377.10) rotate(-45)" text-anchor="middle" dominant-baseline="central" font-size="10.5">22</text>
<line x1="497.25" x2="497.25" y1="364.3" y2="360.8" stroke="#555" stroke-width="1"/>
<line x1="497.25" x2="497.25" y1="11.2" y2="14.7" stroke="#555" stroke-width="1"/>
<text x="0" y="0" transform="translate(498.25,377.10) rotate(-45)" text-anchor="middle" dominant-baseline="central" font-size="10.5">23</text>
<line x1="63.6" x2="67.1" y1="364.30" y2="364.30" stroke="#555" stroke-width="1"/>
<line x1="510.4" x2="506.9" y1="364.30" y2="364.30" stroke="#555" stroke-width="1"/>
<text x="60.40" y="368.60" text-anchor="end" class="yl">0</text>
<line x1="63.6" x2="67.1" y1="296.50" y2="296.50" stroke="#555" stroke-width="1"/>
<line x1="510.4" x2="506.9" y1="296.50" y2="296.50" stroke="#555" stroke-width="1"/>
<text x="60.40" y="300.80" text-anchor="end" class="yl">5</text>
<line x1="63.6" x2="67.1" y1="228.70" y2="228.70" stroke="#555" stroke-width="1"/>
<line x1="510.4" x2="506.9" y1="228.70" y2="228.70" stroke="#555" stroke-width="1"/>
<text x="60.40" y="233.00" text-anchor="end" class="yl">10</text>
<line x1="63.6" x2="67.1" y1="160.90" y2="160.90" stroke="#555" stroke-width="1"/>
<line x1="510.4" x2="506.9" y1="160.90" y2="160.90" stroke="#555" stroke-width="1"/>
<text x="60.40" y="165.20" text-anchor="end" class="yl">15</text>
<line x1="63.6" x2="67.1" y1="93.10" y2="93.10" stroke="#555" stroke-width="1"/>
<line x1="510.4" x2="506.9" y1="93.10" y2="93.10" stroke="#555" stroke-width="1"/>
<text x="60.40" y="97.40" text-anchor="end" class="yl">20</text>
<line x1="63.6" x2="67.1" y1="25.30" y2="25.30" stroke="#555" stroke-width="1"/>
<line x1="510.4" x2="506.9" y1="25.30" y2="25.30" stroke="#555" stroke-width="1"/>
<text x="60.40" y="29.60" text-anchor="end" class="yl">25</text>
<rect x="61.6" y="440.20" width="12.00" height="301.80" fill="#e3e3e3"/>
<rect x="195.5" y="440.20" width="29.50" height="301.80" fill="#e3e3e3"/>
<rect x="440.5" y="440.20" width="3.50" height="301.80" fill="#e3e3e3"/>
<line x1="61.6" x2="511.5" y1="733.38" y2="733.38" stroke="#000" stroke-opacity="0.05" stroke-width="0.9"/>
<line x1="61.6" x2="511.5" y1="724.75" y2="724.75" stroke="#000" stroke-opacity="0.05" stroke-width="0.9"/>
<line x1="61.6" x2="511.5" y1="716.13" y2="716.13" stroke="#000" stroke-opacity="0.05" stroke-width="0.9"/>
<line x1="61.6" x2="511.5" y1="707.51" y2="707.51" stroke="#000" stroke-opacity="0.05" stroke-width="0.9"/>
<line x1="61.6" x2="511.5" y1="698.88" y2="698.88" stroke="#000" stroke-opacity="0.1" stroke-width="0.9"/>
<line x1="61.6" x2="511.5" y1="690.26" y2="690.26" stroke="#000" stroke-opacity="0.05" stroke-width="0.9"/>
<line x1="61.6" x2="511.5" y1="681.64" y2="681.64" stroke="#000" stroke-opacity="0.05" stroke-width="0.9"/>
<line x1="61.6" x2="511.5" y1="673.02" y2="673.02" stroke="#000" stroke-opacity="0.05" stroke-width="0.9"/>
<line x1="61.6" x2="511.5" y1="664.39" y2="664.39" stroke="#000" stroke-opacity="0.05" stroke-width="0.9"/>
<line x1="61.6" x2="511.5" y1="655.77" y2="655.77" stroke="#000" stroke-opacity="0.1" stroke-width="0.9"/>
<line x1="61.6" x2="511.5" y1="647.15" y2="647.15" stroke="#000" stroke-opacity="0.05" stroke-width="0.9"/>
<line x1="61.6" x2="511.5" y1="638.52" y2="638.52" stroke="#000" stroke-opacity="0.05" stroke-width="0.9"/>
<line x1="61.6" x2="511.5" y1="629.90" y2="629.90" stroke="#000" stroke-opacity="0.05" stroke-width="0.9"/>
<line x1="61.6" x2="511.5" y1="621.28" y2="621.28" stroke="#000" stroke-opacity="0.05" stroke-width="0.9"/>
<line x1="61.6" x2="511.5" y1="612.65" y2="612.65" stroke="#000" stroke-opacity="0.1" stroke-width="0.9"/>
<line x1="61.6" x2="511.5" y1="604.03" y2="604.03" stroke="#000" stroke-opacity="0.05" stroke-width="0.9"/>
<line x1="61.6" x2="511.5" y1="595.41" y2="595.41" stroke="#000" stroke-opacity="0.05" stroke-width="0.9"/>
<line x1="61.6" x2="511.5" y1="586.79" y2="586.79" stroke="#000" stroke-opacity="0.05" stroke-width="0.9"/>
<line x1="61.6" x2="511.5" y1="578.16" y2="578.16" stroke="#000" stroke-opacity="0.05" stroke-width="0.9"/>
<line x1="61.6" x2="511.5" y1="569.54" y2="569.54" stroke="#000" stroke-opacity="0.1" stroke-width="0.9"/>
<line x1="61.6" x2="511.5" y1="560.92" y2="560.92" stroke="#000" stroke-opacity="0.05" stroke-width="0.9"/>
<line x1="61.6" x2="511.5" y1="552.29" y2="552.29" stroke="#000" stroke-opacity="0.05" stroke-width="0.9"/>
<line x1="61.6" x2="511.5" y1="543.67" y2="543.67" stroke="#000" stroke-opacity="0.05" stroke-width="0.9"/>
<line x1="61.6" x2="511.5" y1="535.05" y2="535.05" stroke="#000" stroke-opacity="0.05" stroke-width="0.9"/>
<line x1="61.6" x2="511.5" y1="526.42" y2="526.42" stroke="#000" stroke-opacity="0.1" stroke-width="0.9"/>
<line x1="61.6" x2="511.5" y1="517.80" y2="517.80" stroke="#000" stroke-opacity="0.05" stroke-width="0.9"/>
<line x1="61.6" x2="511.5" y1="509.18" y2="509.18" stroke="#000" stroke-opacity="0.05" stroke-width="0.9"/>
<line x1="61.6" x2="511.5" y1="500.56" y2="500.56" stroke="#000" stroke-opacity="0.05" stroke-width="0.9"/>
<line x1="61.6" x2="511.5" y1="491.93" y2="491.93" stroke="#000" stroke-opacity="0.05" stroke-width="0.9"/>
<line x1="61.6" x2="511.5" y1="483.31" y2="483.31" stroke="#000" stroke-opacity="0.1" stroke-width="0.9"/>
<line x1="61.6" x2="511.5" y1="474.69" y2="474.69" stroke="#000" stroke-opacity="0.05" stroke-width="0.9"/>
<line x1="61.6" x2="511.5" y1="466.06" y2="466.06" stroke="#000" stroke-opacity="0.05" stroke-width="0.9"/>
<line x1="61.6" x2="511.5" y1="457.44" y2="457.44" stroke="#000" stroke-opacity="0.05" stroke-width="0.9"/>
<line x1="61.6" x2="511.5" y1="448.82" y2="448.82" stroke="#000" stroke-opacity="0.05" stroke-width="0.9"/>
<line x1="76.00" x2="76.00" y1="440.2" y2="742.0" stroke="#000" stroke-opacity="0.085" stroke-width="0.9"/>
<line x1="96.13" x2="96.13" y1="440.2" y2="742.0" stroke="#000" stroke-opacity="0.085" stroke-width="0.9"/>
<line x1="116.26" x2="116.26" y1="440.2" y2="742.0" stroke="#000" stroke-opacity="0.085" stroke-width="0.9"/>
<line x1="136.39" x2="136.39" y1="440.2" y2="742.0" stroke="#000" stroke-opacity="0.085" stroke-width="0.9"/>
<line x1="156.52" x2="156.52" y1="440.2" y2="742.0" stroke="#000" stroke-opacity="0.085" stroke-width="0.9"/>
<line x1="176.65" x2="176.65" y1="440.2" y2="742.0" stroke="#000" stroke-opacity="0.085" stroke-width="0.9"/>
<line x1="196.78" x2="196.78" y1="440.2" y2="742.0" stroke="#000" stroke-opacity="0.085" stroke-width="0.9"/>
<line x1="216.91" x2="216.91" y1="440.2" y2="742.0" stroke="#000" stroke-opacity="0.085" stroke-width="0.9"/>
<line x1="237.04" x2="237.04" y1="440.2" y2="742.0" stroke="#000" stroke-opacity="0.085" stroke-width="0.9"/>
<line x1="257.17" x2="257.17" y1="440.2" y2="742.0" stroke="#000" stroke-opacity="0.085" stroke-width="0.9"/>
<line x1="277.30" x2="277.30" y1="440.2" y2="742.0" stroke="#000" stroke-opacity="0.085" stroke-width="0.9"/>
<line x1="297.43" x2="297.43" y1="440.2" y2="742.0" stroke="#000" stroke-opacity="0.085" stroke-width="0.9"/>
<line x1="317.56" x2="317.56" y1="440.2" y2="742.0" stroke="#000" stroke-opacity="0.085" stroke-width="0.9"/>
<line x1="337.69" x2="337.69" y1="440.2" y2="742.0" stroke="#000" stroke-opacity="0.085" stroke-width="0.9"/>
<line x1="357.82" x2="357.82" y1="440.2" y2="742.0" stroke="#000" stroke-opacity="0.085" stroke-width="0.9"/>
<line x1="377.95" x2="377.95" y1="440.2" y2="742.0" stroke="#000" stroke-opacity="0.085" stroke-width="0.9"/>
<line x1="398.08" x2="398.08" y1="440.2" y2="742.0" stroke="#000" stroke-opacity="0.085" stroke-width="0.9"/>
<line x1="418.21" x2="418.21" y1="440.2" y2="742.0" stroke="#000" stroke-opacity="0.085" stroke-width="0.9"/>
<line x1="438.34" x2="438.34" y1="440.2" y2="742.0" stroke="#000" stroke-opacity="0.085" stroke-width="0.9"/>
<line x1="458.47" x2="458.47" y1="440.2" y2="742.0" stroke="#000" stroke-opacity="0.085" stroke-width="0.9"/>
<line x1="478.60" x2="478.60" y1="440.2" y2="742.0" stroke="#000" stroke-opacity="0.085" stroke-width="0.9"/>
<line x1="498.73" x2="498.73" y1="440.2" y2="742.0" stroke="#000" stroke-opacity="0.085" stroke-width="0.9"/>
<g clip-path="url(#clipc2)">
<polyline points="63.0,704.4 63.6,701.5 64.1,697.4 64.4,695.2 64.7,691.9 64.9,689.8 65.2,686.5 65.6,684.2 66.0,680.9 66.3,678.7 67.0,675.3 67.7,673.0 69.1,671.1 70.5,676.0 71.3,679.5 72.4,681.4 73.6,682.1 74.7,685.8 75.8,686.3 76.3,684.2 76.9,680.6 77.4,678.5 78.0,675.1 78.6,673.1 79.1,669.8 80.2,671.6 81.6,668.3 83.0,664.9 83.7,661.4 84.4,659.3 85.8,655.7 86.9,655.0 87.4,657.1 88.0,660.5 88.6,663.5 89.1,667.5 90.2,671.0 90.3,669.1 90.4,665.8 90.5,663.8 90.6,660.4 90.7,658.4 90.8,655.0 90.9,653.2 91.0,649.9 91.1,647.9 91.2,644.5 91.3,642.7 91.6,639.0 91.9,637.0 92.2,633.4 92.4,631.3 93.0,628.0 93.6,626.0 94.1,622.5 94.7,620.3 95.0,617.0 95.4,614.8 95.8,611.2 96.1,609.1 96.3,605.4 96.6,603.2 96.9,599.6 97.2,597.9 97.5,594.6 97.7,592.8 98.0,589.5 98.3,588.0 98.5,584.7 98.8,582.9 99.1,579.8 99.4,577.9 99.7,574.6 99.9,573.0 100.2,569.6 100.4,567.8 100.7,564.7 100.9,562.9 101.1,559.8 101.4,557.7 101.6,554.4 101.9,552.2 102.3,549.3 102.8,547.4 103.6,550.8 104.0,547.8 104.4,543.7 104.8,547.0 105.2,548.8 106.0,553.3 106.8,548.6 107.2,552.5 107.6,554.6 108.6,558.5 109.0,560.4 109.3,563.7 109.7,565.7 109.8,569.1 109.9,570.8 110.1,574.2 110.2,576.4 110.3,579.6 110.4,581.7 110.6,585.0 110.7,587.0 110.8,590.3 111.1,592.4 111.3,595.6 111.6,597.6 111.9,600.9 113.0,602.8 114.1,605.1 115.2,608.5 116.3,612.1 117.4,609.9 118.6,614.7 119.7,611.2 120.8,610.7 121.9,612.6 123.0,617.7 124.1,614.1 124.7,617.5 125.2,619.8 125.6,623.2 126.0,625.3 126.3,628.6 126.9,630.8 127.4,634.1 128.1,636.4 128.8,639.7 130.2,636.5 131.3,634.1 133.0,636.4 133.1,634.2 133.3,630.9 133.4,628.8 133.6,625.2 134.9,624.4 136.3,622.5 137.7,627.2 139.1,623.9 140.5,621.6 140.7,623.5 141.0,627.0 141.2,628.7 141.4,631.9 141.7,633.9 141.9,636.9 142.2,633.6 142.6,631.4 142.9,627.9 143.3,625.8 144.7,622.6 146.1,627.4 147.4,628.0 148.8,625.8 150.2,621.0 150.9,625.1 151.6,628.0 153.0,631.6 154.4,627.9 155.8,631.5 156.1,633.6 156.3,637.0 156.6,639.2 156.9,642.7 157.4,644.6 158.0,648.2 158.0,642.9 159.0,646.5 160.0,648.8 161.1,652.8 162.1,654.9 164.1,657.9 166.2,661.0 168.2,665.0 169.2,665.3 170.2,663.9 172.3,661.2 174.3,662.7 176.3,663.3 178.4,659.7 179.4,655.1 180.4,653.7 182.4,652.8 184.5,655.7 186.5,650.8 188.2,655.9 188.6,657.9 189.0,661.8 189.2,663.8 189.4,666.8 189.6,668.9 189.8,671.9 190.0,673.8 190.2,677.2 190.4,678.9 190.6,682.2 190.9,684.2 191.3,687.7 191.6,689.8 192.6,692.4 192.9,689.0 193.1,687.4 193.4,684.0 193.7,682.2 194.0,678.9 194.3,676.9 194.7,673.4 195.7,672.1 196.7,669.1 197.7,667.9 198.7,667.3 199.8,666.0 200.8,661.1 201.8,663.8 202.8,665.3 203.8,667.8 204.8,667.1 205.9,670.1 206.9,671.4 207.9,674.2 208.9,675.2 209.9,678.2 210.1,680.0 210.3,683.2 210.4,685.2 210.6,688.2 210.7,690.3 210.9,694.1 211.0,696.2 211.2,699.8 211.4,701.9 211.6,705.4 211.9,707.2 212.2,710.6 213.0,712.1 214.0,710.7 215.0,714.2 216.1,710.7 217.0,710.1 218.0,710.7 219.1,714.2 220.1,719.0 222.1,719.2 224.2,718.9 226.2,719.2 228.2,719.0 230.3,717.8 232.3,717.4 234.3,716.1 236.4,717.9 238.4,718.2 240.4,719.7 242.5,720.2 244.5,722.9 246.6,723.4 248.6,724.0 250.6,723.4 252.7,724.6 254.7,724.2 256.7,725.4 258.8,725.4 260.8,725.4 262.9,723.9 264.9,724.0 266.9,723.4 269.0,723.0 271.0,721.9 273.0,720.8 275.1,718.1 276.1,717.9 278.4,718.0 281.3,718.2 284.3,716.4 287.3,716.3 290.2,715.6 293.2,716.6 296.1,715.6 299.1,715.8 302.1,714.4 305.0,715.7 308.0,715.0 311.0,716.4 313.9,715.9 316.9,716.7 319.9,716.1 322.8,716.8 325.8,715.9 328.7,717.0 331.7,715.5 334.7,716.2 336.7,717.5 339.1,719.3 343.0,718.7 345.4,720.1 348.4,718.1 349.9,721.1 351.3,722.3 354.3,724.1 357.3,724.0 360.2,724.1 363.2,724.5 366.1,724.5 369.1,724.4 372.1,725.3 375.0,724.0 378.0,724.7 381.0,724.5 383.9,724.6 386.9,723.2 389.9,724.1 392.8,724.0 395.8,724.6 398.7,723.9 401.7,724.6 404.7,723.4 407.6,723.4 410.6,722.4 413.0,723.0 415.4,722.4 418.4,722.5 421.3,721.7 424.3,722.5 427.3,721.5 430.2,721.7 433.2,721.7 436.1,721.2 439.1,719.4 441.2,720.0 442.4,724.0 442.7,721.6 443.0,718.1 443.3,715.8 443.6,712.1 444.1,709.7 444.7,706.2 445.9,709.9 447.1,712.0 449.5,713.3 452.4,713.6 455.4,712.9 458.4,711.4 461.3,711.9 464.3,710.7 467.3,710.5 470.2,710.2 473.2,710.7 476.1,710.7 479.1,711.1 480.9,712.6 482.6,715.8 483.1,719.1 484.6,719.4 486.6,718.1 488.6,717.8 490.6,716.0 492.5,718.0 494.5,718.6 496.5,719.8 498.5,718.6 500.4,719.2 502.4,718.4 504.4,719.2 506.4,718.3 509.3,718.8 512.3,718.5" fill="none" stroke="#1a1aff" stroke-width="1.9" stroke-linejoin="round"/>
<polyline points="63.0,710.6 64.1,710.3 64.5,705.8 64.8,706.7 65.2,701.8 65.4,705.8 65.5,705.7 65.7,709.9 65.9,708.6 66.0,712.3 66.2,710.9 66.3,715.8 66.4,711.0 66.5,712.6 66.5,708.1 66.6,709.1 66.6,704.9 66.7,706.8 66.8,701.9 66.8,703.4 66.9,698.6 66.9,699.4 67.0,695.3 67.0,696.9 67.1,692.6 67.2,693.1 67.2,688.9 67.3,690.6 67.4,686.0 67.5,688.0 67.5,683.0 67.6,685.0 67.7,680.3 67.8,681.9 67.8,677.3 67.9,679.0 68.0,673.7 68.1,675.0 68.2,671.6 68.2,672.1 68.3,667.5 68.4,669.3 68.5,664.9 68.5,666.1 68.6,662.0 68.7,663.2 68.8,659.2 68.8,660.4 68.9,655.8 69.0,657.6 69.0,652.5 69.1,654.5 69.1,649.1 69.2,651.4 69.2,646.2 69.3,647.2 69.4,642.8 69.4,645.0 69.5,639.5 69.5,641.3 69.6,636.6 69.7,637.7 69.8,633.3 69.9,635.0 70.0,630.8 70.1,631.2 70.3,626.9 70.4,629.1 70.5,624.7 70.6,628.8 70.7,627.3 70.7,631.1 70.8,630.5 70.9,634.9 71.0,632.8 71.0,637.0 71.1,636.1 71.2,640.0 71.3,639.0 71.3,643.4 71.4,642.0 71.5,647.4 71.5,645.6 71.6,650.6 71.6,649.0 71.7,652.6 71.8,651.8 71.8,655.8 71.9,655.5 71.9,659.4 72.0,658.1 72.0,662.3 72.1,662.0 72.2,666.3 72.2,664.8 72.3,669.4 72.4,667.1 72.5,671.8 72.5,670.7 72.6,675.0 72.7,673.5 72.8,678.1 72.8,676.6 72.9,681.1 73.0,679.2 73.3,680.7 73.6,676.1 73.8,677.2 74.0,676.1 74.1,679.9 74.2,678.3 74.3,683.3 74.4,682.0 74.5,685.9 74.7,685.4 74.9,686.3 75.2,682.1 75.5,682.6 75.8,677.7 76.1,678.3 76.3,674.0 77.4,674.1 77.6,672.8 77.7,677.2 77.8,675.9 77.9,680.8 78.0,679.9 78.2,683.2 78.3,682.3 78.4,684.3 78.5,679.6 78.6,680.5 78.8,676.0 78.9,677.1 79.0,673.1 79.1,674.0 79.2,669.9 79.3,671.1 79.4,666.8 79.5,667.5 79.6,662.9 79.7,663.9 79.8,660.0 79.8,661.5 79.9,657.0 80.0,657.6 80.1,653.2 80.2,654.4 80.3,650.7 80.4,651.5 80.5,646.9 80.5,647.9 80.6,644.2 80.7,645.0 80.8,640.4 80.9,642.0 80.9,637.2 81.0,638.5 81.1,634.7 81.2,635.9 81.3,630.8 81.3,632.5 81.4,628.4 81.5,628.8 81.6,624.8 81.7,625.7 81.8,621.2 81.9,623.2 82.0,618.7 82.1,619.3 82.2,614.8 82.3,616.5 82.3,611.5 82.4,612.9 82.5,609.2 82.6,609.8 82.7,605.4 82.8,606.7 82.9,602.9 83.1,603.9 83.2,599.8 83.3,600.8 83.4,596.1 83.5,597.5 83.6,594.2 83.9,595.1 84.3,589.4 84.7,591.4 85.8,590.9 85.8,595.7 85.9,593.4 86.0,598.0 86.1,596.8 86.1,601.8 86.2,600.0 86.3,604.6 86.3,603.6 86.4,607.5 86.5,606.8 86.5,610.3 86.6,609.5 86.7,613.7 86.8,612.3 86.8,616.5 86.9,615.3 86.9,620.4 87.0,618.4 87.0,623.7 87.0,621.5 87.0,626.4 87.1,625.7 87.1,629.7 87.1,628.6 87.2,632.3 87.2,631.1 87.2,635.6 87.3,634.4 87.3,639.2 87.3,637.3 87.3,641.6 87.4,640.8 87.4,645.3 87.4,643.6 87.5,648.3 87.5,646.8 87.5,650.6 87.6,649.7 87.6,654.4 87.6,653.2 87.6,657.4 87.7,655.3 87.7,660.5 87.7,658.5 87.7,662.6 87.8,661.8 87.8,666.7 87.8,665.5 87.9,669.0 87.9,668.3 87.9,672.4 87.9,671.2 88.0,675.4 88.0,673.8 88.1,677.9 88.2,677.7 88.2,681.1 88.3,680.7 88.4,684.0 88.5,682.7 88.5,688.0 88.6,686.8 88.7,690.6 88.8,689.5 88.8,693.4 88.9,692.5 89.0,696.8 89.1,695.3 89.1,699.5 89.2,698.8 89.3,702.5 89.4,701.9 89.4,705.8 89.5,704.2 89.6,708.6 89.7,708.0 89.7,708.3 89.8,704.5 89.8,705.7 89.9,700.8 90.0,702.2 90.0,697.6 90.1,699.3 90.1,694.9 90.2,695.9 90.3,691.6 90.3,693.1 90.4,688.5 90.4,689.9 90.5,685.3 90.6,686.2 90.6,682.1 90.7,683.5 90.7,679.4 90.8,680.0 90.9,675.8 90.9,677.4 91.0,672.0 91.0,673.6 91.1,668.9 91.2,671.0 91.2,666.5 91.3,667.4 91.3,663.5 91.5,664.6 91.6,659.7 91.8,661.5 92.0,656.3 92.1,658.1 92.3,653.2 92.4,654.8 92.5,650.9 92.6,651.8 92.7,648.0 92.8,648.2 92.9,644.0 93.1,645.1 93.2,641.8 93.3,642.1 93.4,637.8 93.5,639.2 93.6,635.8 93.8,640.1 94.0,639.1 94.2,643.5 94.4,641.7 94.7,646.8 94.8,641.5 94.9,643.4 95.0,638.6 95.2,639.7 95.3,635.6 95.4,637.2 95.5,632.5 95.7,633.6 95.8,629.4 96.2,631.2 96.5,626.5 96.9,626.7 97.0,622.5 97.2,624.2 97.4,619.7 97.5,620.2 97.7,616.5 97.8,617.6 98.0,612.7 98.2,614.1 98.3,610.0 98.5,611.0 98.6,606.9 98.8,607.8 99.0,604.0 99.1,604.7 99.5,599.5 99.8,600.9 100.2,596.1 100.3,600.4 100.4,599.3 100.5,604.3 100.6,602.6 100.7,607.2 100.8,606.0 100.9,610.5 101.0,608.7 101.1,610.0 101.2,606.6 101.3,607.7 101.4,602.5 101.4,604.3 101.5,600.1 101.6,601.5 101.7,597.3 101.8,597.9 101.9,594.2 102.0,595.3 102.0,591.0 102.3,591.8 102.6,587.5 102.8,589.6 103.1,585.0 103.3,589.3 103.6,587.9 103.8,592.5 104.1,590.7 104.3,595.0 104.5,594.4 104.7,597.9 104.9,597.4 105.1,601.6 105.3,601.1 105.4,605.0 105.6,604.3 105.8,608.9 105.9,607.9 106.1,612.5 106.3,610.9 106.5,615.5 106.6,614.3 106.8,619.1 107.0,617.3 107.1,622.2 107.2,621.0 107.3,625.7 107.4,623.8 107.5,628.5 107.6,627.2 107.7,632.5 107.8,630.8 107.9,634.9 108.0,634.3 108.2,638.7 108.3,637.1 108.4,642.2 108.5,640.1 108.6,644.6 108.7,644.2 108.8,647.9 108.9,647.4 109.0,651.7 109.1,649.9 109.2,655.2 109.3,653.9 109.4,658.4 109.5,657.0 109.6,661.2 109.7,659.8 109.8,664.0 109.9,663.8 110.0,668.2 110.1,666.8 110.2,670.9 110.4,669.7 110.7,674.3 110.9,673.4 111.2,676.9 111.3,676.0 111.3,680.3 111.4,679.4 111.5,683.6 111.5,681.7 111.6,686.5 111.7,685.4 111.8,689.4 111.8,688.9 111.9,690.0 112.0,685.8 112.1,687.0 112.1,681.6 112.2,682.8 112.3,678.3 112.4,679.8 112.5,675.2 112.5,677.0 112.6,672.6 112.7,676.8 112.8,675.2 112.9,680.1 113.0,678.7 113.1,683.1 113.2,680.9 113.3,686.0 113.4,684.5 113.6,685.2 113.8,681.3 113.9,682.3 114.1,677.7 114.3,679.4 114.3,677.9 114.4,682.1 114.5,681.1 114.6,685.9 114.7,684.9 114.7,689.4 114.8,687.6 114.9,691.8 115.0,690.5 115.1,695.0 115.2,694.5 115.4,699.0 115.6,697.4 115.7,702.1 115.9,700.6 116.1,705.2 116.2,704.3 116.4,708.1 116.5,707.9 116.7,712.0 116.9,710.3 117.0,715.1 117.2,713.6 117.4,718.1 117.5,717.4 117.7,721.4 117.8,719.9 118.0,724.3 118.2,723.6 118.3,727.8 118.8,727.0 119.3,732.0 120.4,731.6 121.4,732.0 122.4,731.3 123.4,736.5 124.4,735.6 125.5,740.7 126.5,735.9 126.7,736.4 127.0,732.9 127.2,733.2 127.5,729.0 127.7,730.8 127.9,726.5 128.1,726.9 128.3,722.9 128.5,724.3 128.7,719.1 128.9,720.9 129.0,716.0 129.2,716.8 129.4,712.8 129.5,713.4 129.6,712.7 129.7,717.3 129.8,716.5 129.9,720.3 130.0,719.2 130.2,723.4 130.6,722.9 131.0,728.5 131.4,722.7 131.8,723.9 132.2,723.2 132.6,728.2 133.1,723.1 133.6,724.6 134.6,723.0 135.1,723.8 135.7,718.7 135.7,720.4 135.8,716.0 135.8,717.6 135.9,713.6 135.9,714.6 136.0,709.8 136.0,711.3 136.1,706.9 136.1,708.2 136.2,704.2 136.2,705.2 136.3,701.4 136.4,702.0 136.5,697.4 136.6,698.8 136.7,694.3 136.8,696.2 137.0,690.7 137.1,692.0 137.2,690.8 137.2,695.6 137.3,694.7 137.4,698.4 137.5,697.6 137.6,701.1 137.6,700.3 137.7,705.2 137.8,703.6 137.9,708.1 138.0,706.2 138.1,710.3 138.2,709.1 138.3,713.9 138.4,712.0 138.5,717.1 138.6,715.3 138.7,719.7 139.0,715.2 139.2,717.4 139.5,712.1 139.7,713.7 139.9,712.4 140.1,717.2 140.2,716.6 140.4,720.1 140.6,720.0 140.7,723.6 141.8,719.6 142.0,720.4 142.3,715.9 142.5,717.4 142.8,713.1 143.3,714.0 143.8,709.2 144.3,709.7 144.8,704.6 145.3,705.5 145.8,701.2 146.0,705.7 146.2,703.8 146.4,708.4 146.6,707.5 146.8,711.8 147.1,707.2 147.3,708.2 147.5,704.7 147.7,704.9 147.9,700.5 148.9,701.2 148.9,697.2 149.0,698.0 149.1,694.3 149.1,694.8 149.2,690.9 149.2,691.6 149.3,688.2 149.4,688.3 149.4,684.8 149.5,685.6 149.5,681.7 149.6,681.8 149.6,678.0 149.7,679.1 149.8,674.6 149.8,675.5 149.9,671.8 150.0,672.8 150.0,669.1 150.1,670.3 150.1,665.7 150.2,666.2 150.3,662.3 150.3,663.1 150.4,659.0 150.5,660.2 150.5,656.5 151.3,656.2 151.4,655.2 151.4,659.6 151.5,658.2 151.5,662.8 151.5,661.1 151.6,665.7 151.6,665.0 151.7,668.7 151.7,667.3 151.7,672.2 151.8,671.0 151.8,674.6 151.9,673.6 151.9,678.7 151.9,676.8 152.0,680.6 152.0,680.5 152.1,683.8 152.1,683.4 152.2,686.8 152.2,686.6 152.3,690.6 152.3,688.8 152.4,693.2 152.5,691.8 152.5,696.7 152.6,695.1 152.6,700.4 152.7,698.1 152.8,702.4 152.8,702.0 152.9,706.3 153.0,704.4 153.5,705.2 154.0,701.1 154.1,705.6 154.2,704.3 154.4,708.1 154.5,707.1 154.6,711.5 154.7,709.5 154.9,713.9 155.0,712.8 155.1,717.7 155.3,715.7 155.4,720.5 155.5,718.7 155.6,723.3 155.8,722.3 155.9,726.2 156.0,724.9 156.5,730.1 157.0,729.6 157.2,730.2 157.3,726.0 157.4,727.7 157.6,723.0 157.7,724.4 157.8,720.2 157.9,721.0 158.1,716.9 158.0,717.8 158.0,714.1 158.0,715.6 158.0,710.8 158.1,711.8 158.3,708.3 158.4,709.6 158.5,704.7 158.6,706.6 158.8,701.4 158.9,703.1 159.0,698.3 159.3,703.4 159.5,702.0 159.8,706.0 160.0,705.4 160.1,709.2 160.2,707.6 160.3,712.1 160.4,711.3 160.6,715.4 160.7,715.2 160.8,719.3 160.9,718.3 161.0,721.8 161.1,721.6 161.6,726.2 162.1,725.2 162.3,725.9 162.5,722.3 162.7,723.7 162.9,719.1 163.1,720.0 163.6,719.3 164.1,724.3 164.2,719.5 164.4,721.3 164.5,716.6 164.6,717.5 164.7,713.9 164.9,714.3 165.0,710.1 165.1,711.3 165.6,711.6 166.2,716.4 166.4,711.8 166.6,713.1 166.8,708.7 167.0,709.3 167.2,705.2 167.7,710.1 168.2,708.8 168.3,710.4 168.4,705.6 168.6,707.6 168.7,703.0 168.8,704.3 168.9,699.9 169.1,700.6 169.2,696.3 169.7,697.6 170.2,692.3 170.7,693.1 171.2,688.6 171.8,693.4 172.3,692.4 172.8,697.0 173.3,696.9 173.8,697.5 174.3,693.2 174.4,694.0 174.6,689.3 174.7,690.8 174.8,686.4 174.9,688.0 175.1,683.9 175.2,684.6 175.3,679.9 175.4,681.5 175.5,677.5 175.5,678.2 175.6,674.7 175.7,675.2 175.8,670.8 175.9,672.8 175.9,667.8 176.1,670.0 176.3,664.8 176.4,666.7 176.6,661.7 176.7,662.8 176.9,657.9 177.0,660.1 177.1,654.7 177.2,656.3 177.3,651.6 177.4,656.1 177.5,654.4 177.6,659.8 177.7,658.3 177.7,662.9 177.8,661.5 177.9,664.9 178.0,663.9 178.1,665.1 178.3,660.9 178.5,662.2 178.6,658.2 178.8,659.1 178.9,657.9 179.1,662.0 179.3,661.1 179.4,665.6 179.6,663.9 179.7,668.3 179.8,667.9 179.8,671.6 179.9,670.8 180.0,674.6 180.1,674.4 180.2,678.7 180.2,677.0 180.3,682.2 180.4,679.9 180.5,685.2 180.6,683.7 180.7,687.4 180.8,686.8 180.9,690.8 181.0,689.6 181.1,694.0 181.2,692.8 181.4,697.5 181.5,696.2 181.7,700.3 181.9,698.7 182.0,704.0 182.1,702.6 182.2,706.4 182.3,705.0 182.4,709.1 182.5,708.9 182.6,712.8 182.7,711.5 182.8,715.4 183.0,715.3 183.1,718.9 183.3,717.8 183.4,722.6 183.5,721.0 183.7,726.4 183.8,721.1 183.8,722.3 183.9,718.9 184.0,719.1 184.1,715.4 184.2,716.3 184.3,712.7 184.4,713.4 184.5,709.5 184.5,710.0 184.6,706.3 184.6,707.6 184.7,703.1 184.7,704.0 184.7,700.5 184.8,701.2 184.8,696.8 184.9,698.5 184.9,693.5 185.0,695.6 185.0,691.3 185.0,691.8 185.1,687.6 185.1,689.6 185.2,684.9 185.2,686.6 185.3,681.9 185.3,683.0 185.3,679.3 185.4,679.6 185.4,675.7 185.4,677.6 185.5,672.3 185.5,674.0 185.5,669.6 185.5,671.5 185.6,666.3 185.6,668.1 185.6,663.8 185.7,664.9 185.7,661.0 185.7,661.5 185.8,657.3 185.8,659.4 185.8,654.4 185.8,655.6 185.9,651.6 185.9,652.6 186.0,648.0 186.0,649.6 186.1,644.8 186.1,646.2 186.2,642.5 186.2,643.6 186.3,639.3 186.3,640.9 186.4,635.8 186.4,637.9 186.5,633.0 186.5,633.8 186.6,633.1 186.8,637.7 186.9,636.5 187.0,640.6 187.1,639.5 187.2,644.6 187.3,643.4 187.3,647.6 187.4,646.4 187.4,650.7 187.5,649.0 187.6,654.5 187.6,652.6 187.7,656.8 187.7,655.5 187.8,660.1 187.9,659.4 188.0,664.1 188.1,662.8 188.2,666.7 188.2,665.3 188.3,670.8 188.4,669.3 188.5,673.4 188.6,672.6 188.6,676.3 188.7,675.9 188.8,680.6 188.9,679.3 189.0,682.9 189.0,682.4 189.1,686.0 189.2,685.3 189.3,690.1 189.4,688.2 189.5,693.1 189.6,691.3 189.7,695.4 189.8,695.0 189.9,699.6 190.0,698.3 190.1,701.8 190.2,700.8 190.4,701.7 190.5,697.5 190.7,698.2 190.8,694.6 191.0,696.0 191.1,694.6 191.2,699.0 191.3,697.6 191.4,702.2 191.5,700.1 191.6,704.8 191.7,703.8 191.8,707.2 191.9,706.2 192.0,710.6 192.1,710.2 192.1,714.6 192.2,712.6 192.3,716.9 192.4,715.8 192.5,720.8 192.5,719.7 192.6,723.5 192.8,722.9 193.0,727.6 193.2,726.0 193.4,729.7 193.6,726.0 193.7,726.3 193.9,722.4 194.0,723.8 194.1,719.3 194.3,719.6 194.3,715.0 194.4,717.3 194.5,711.7 194.6,713.1 194.7,709.1 194.7,710.7 194.8,705.7 194.9,707.1 195.0,702.7 195.1,703.0 195.3,699.5 195.5,700.9 195.7,695.9 195.9,697.6 196.0,696.5 196.2,701.0 196.3,699.9 196.4,704.3 196.6,702.8 196.7,707.3 196.8,706.3 196.9,711.3 197.0,709.1 197.1,713.4 197.2,712.0 197.3,717.3 197.4,716.0 197.5,719.6 197.9,719.5 198.3,723.5 198.4,719.1 198.5,720.8 198.6,716.2 198.7,717.4 198.8,714.1 198.9,715.3 199.0,710.1 199.2,712.4 199.3,707.1 199.5,708.5 199.6,703.8 199.8,704.8 200.0,700.8 200.2,702.0 200.4,698.2 200.6,699.2 200.8,694.9 200.9,699.2 201.1,698.3 201.2,702.4 201.3,701.7 201.5,706.1 201.6,704.3 201.7,709.8 201.8,707.5 201.9,712.7 202.0,711.3 202.1,715.9 202.2,714.3 202.3,717.9 202.4,717.1 202.6,721.8 202.7,720.6 202.9,725.0 203.1,723.9 203.2,728.6 203.6,727.4 204.0,732.1 204.4,727.3 204.8,728.5 205.9,726.7 206.1,728.6 206.4,724.3 206.6,725.7 206.9,721.7 207.4,725.9 207.9,724.9 208.2,726.9 208.4,722.7 208.7,723.9 208.9,719.3 209.9,724.6 210.2,719.7 210.4,720.4 210.6,716.3 210.8,717.9 211.0,713.1 211.5,714.3 212.0,708.7 212.5,713.6 213.0,713.3 213.5,713.8 214.0,709.1 214.2,710.0 214.4,705.5 214.6,707.3 214.8,702.3 215.0,703.2 215.2,699.5 215.4,700.2 215.7,695.8 215.9,696.7 216.1,693.2 216.1,693.7 216.2,689.7 216.3,690.1 216.3,686.2 216.4,688.0 216.5,683.0 216.5,684.6 216.6,679.5 216.7,681.5 216.7,676.2 216.8,677.8 216.9,673.3 217.0,674.2 217.0,669.8 217.3,671.4 217.5,667.2 217.8,669.0 218.0,664.4 218.2,665.0 218.4,660.5 218.7,662.2 218.9,658.1 219.1,658.2 219.6,658.2 220.1,662.3 220.3,658.1 220.5,659.2 220.7,655.5 220.9,656.2 221.1,651.9 221.6,652.6 222.1,647.7 223.1,652.9 224.2,652.0 224.7,656.3 225.2,655.4 225.7,657.0 226.2,652.4 226.4,656.3 226.6,654.9 226.8,660.2 227.0,659.0 227.2,662.3 227.4,661.7 227.6,666.0 227.8,664.5 228.0,669.8 228.2,668.4 228.5,672.5 228.7,671.2 229.0,676.1 229.2,674.7 230.3,675.0 230.8,674.8 231.3,679.3 231.8,679.0 232.3,683.8 232.8,682.5 233.3,687.4 233.5,686.7 233.7,690.3 233.9,689.5 234.1,694.3 234.3,692.6 234.5,693.7 234.6,689.0 234.7,691.1 234.8,686.5 235.0,687.5 235.1,683.7 235.2,685.3 235.3,680.9 235.6,684.9 235.8,683.6 236.0,688.0 236.2,686.6 236.4,691.9 236.4,686.6 236.5,688.6 236.5,684.4 236.6,684.8 236.6,681.0 236.7,682.0 236.7,678.3 236.8,679.6 236.8,675.2 236.9,676.5 236.9,671.3 237.0,672.6 237.0,668.2 237.1,669.9 237.1,666.0 237.2,666.6 237.3,663.2 237.4,663.9 237.5,659.7 237.6,661.3 237.7,656.1 237.8,657.3 237.9,653.6 238.0,654.6 238.1,653.8 238.2,657.5 238.3,656.8 238.4,661.1 238.5,659.8 238.6,663.4 238.7,663.0 238.8,666.9 238.9,665.6 238.9,669.7 239.0,668.5 239.0,672.7 239.1,671.6 239.1,676.3 239.2,675.2 239.2,679.5 239.3,678.0 239.3,682.3 239.4,680.8 239.4,685.4 239.5,684.1 239.5,687.8 239.6,686.7 239.6,691.8 239.7,690.1 239.8,694.5 239.9,693.5 240.0,698.0 240.1,696.0 240.2,700.2 240.3,698.9 240.4,704.2 240.6,702.6 240.8,707.5 240.9,705.7 241.1,709.8 241.3,708.7 241.4,713.2 241.6,712.0 241.7,716.8 241.9,716.0 242.1,720.0 242.2,718.2 242.3,722.9 242.4,721.7 242.5,726.5 242.6,724.8 242.7,729.1 242.8,727.7 242.9,732.5 243.1,731.3 243.2,734.9 243.4,733.9 243.5,738.7 243.7,737.7 243.8,739.2 243.9,734.0 244.0,735.8 244.1,730.8 244.2,733.1 244.3,728.0 244.4,729.3 244.5,725.9 244.6,726.7 244.7,721.7 244.8,723.0 244.8,718.8 244.9,720.0 245.0,715.8 245.1,716.9 245.2,712.2 245.2,713.3 245.3,709.4 245.4,710.3 245.5,706.1 245.5,707.3 245.6,703.1 245.6,703.8 245.7,699.9 245.8,700.7 245.8,696.3 245.9,697.2 246.0,693.8 246.0,694.5 246.1,690.5 246.2,691.4 246.2,687.5 246.3,687.9 246.4,684.0 246.4,685.8 246.5,680.5 246.6,682.3 246.6,678.0 246.7,678.7 246.8,675.1 246.8,675.9 246.9,671.3 247.0,672.6 247.1,668.0 247.2,669.6 247.4,665.3 247.5,666.0 247.6,661.2 247.8,662.5 248.2,658.0 248.6,658.8 248.8,658.0 248.9,661.7 249.1,660.3 249.2,665.7 249.4,663.9 249.5,669.0 249.6,667.7 249.7,671.8 249.8,670.0 249.9,674.3 250.0,673.4 250.1,678.2 250.2,676.6 250.3,681.0 250.4,679.8 250.5,684.0 250.6,682.8 250.7,686.8 250.8,685.7 250.9,690.3 251.0,688.3 251.1,692.9 251.2,691.4 251.3,695.9 251.4,694.3 251.5,698.7 251.6,697.7 251.7,702.2 251.8,701.0 252.0,704.7 252.2,704.5 252.3,708.7 252.5,707.7 252.7,712.1 252.9,710.5 253.1,715.4 253.3,713.1 253.5,718.2 253.7,713.7 253.9,714.3 254.1,710.4 254.3,712.1 255.1,706.4 255.9,711.4 256.3,707.3 256.7,708.3 257.1,702.6 257.6,703.6 257.7,698.9 257.9,699.9 258.0,695.9 258.2,697.3 258.4,692.6 258.5,693.4 258.5,689.9 258.6,690.7 258.7,685.7 258.8,686.9 258.9,683.5 258.9,683.6 259.0,679.3 259.1,680.7 259.2,676.4 259.3,678.1 259.4,673.0 259.4,674.0 259.5,669.6 259.6,670.4 259.7,666.9 259.8,668.0 259.8,663.7 259.9,663.9 260.0,660.1 260.2,661.0 260.3,656.3 260.5,657.5 260.7,653.2 260.8,654.6 261.0,653.2 261.1,657.9 261.3,656.6 261.5,661.0 261.6,660.4 261.7,664.5 261.8,663.0 261.9,667.6 262.0,666.9 262.0,670.9 262.1,670.3 262.2,674.1 262.3,673.0 262.4,677.6 262.4,676.3 262.6,680.6 262.8,680.2 262.9,683.5 263.1,683.1 263.3,687.0 263.7,682.4 264.1,683.0 264.3,678.6 264.5,680.3 264.7,675.7 264.9,677.4 265.3,676.4 265.7,681.1 265.9,677.1 266.1,677.6 266.3,673.5 266.5,675.1 266.9,674.8 267.3,679.7 267.4,677.8 267.4,682.4 267.5,681.0 267.5,684.8 267.6,683.4 267.6,687.9 267.7,687.2 267.7,692.0 267.8,690.6 267.8,694.5 267.9,693.2 267.9,697.2 268.0,695.7 268.0,700.5 268.1,699.9 268.1,703.6 268.6,703.5 269.0,708.0 269.1,702.9 269.2,705.1 269.3,700.9 269.4,701.8 269.5,697.5 269.6,698.5 269.7,694.4 269.8,695.2 269.9,691.6 270.0,692.6 270.1,688.6 270.2,689.9 270.3,685.6 270.4,686.9 270.5,682.3 270.6,682.8 270.8,678.5 270.9,680.0 271.1,675.2 271.2,676.7 271.4,672.2 271.6,673.0 271.7,668.8 271.9,670.2 272.1,665.2 272.2,666.4 272.4,663.0 272.5,663.9 272.7,658.8 272.9,660.3 273.0,655.8 273.6,660.9 274.1,660.2 274.6,664.9 275.1,664.0 275.6,668.4 276.1,668.5 276.2,673.0 276.3,671.8 276.4,675.9 276.5,675.1 276.6,679.1 276.7,677.9 276.8,682.8 276.9,680.8 277.1,685.8 277.2,685.1 277.4,689.1 277.6,688.7 277.7,692.3 277.9,691.4 278.1,696.2 278.4,692.1 278.7,692.7 279.0,689.3 279.3,689.7 279.4,689.0 279.6,693.2 279.8,691.9 279.9,697.0 280.1,696.0 280.3,700.2 280.4,699.7 280.7,703.7 281.0,701.8 281.3,706.2 281.6,704.8 281.8,709.3 282.0,708.8 282.1,712.6 282.3,712.2 282.5,716.5 282.6,715.1 282.8,720.0 283.1,715.9 283.4,717.1 283.7,712.5 284.0,713.7 284.3,709.5 284.6,710.8 284.9,706.9 285.2,707.8 285.3,703.3 285.4,704.9 285.4,699.7 285.5,701.0 285.6,696.5 285.7,698.5 285.8,693.5 285.8,695.5 285.9,691.0 286.0,692.0 286.1,686.8 286.1,691.2 286.1,690.3 286.2,695.3 286.2,693.7 286.3,698.3 286.3,696.1 286.3,700.8 286.4,700.1 286.4,703.7 286.5,702.4 286.5,707.0 286.5,706.1 286.6,710.1 286.6,708.4 286.7,713.0 286.7,712.6 286.7,716.9 286.8,715.3 286.8,719.3 286.8,717.7 286.9,722.3 286.9,721.8 287.0,726.1 287.0,721.6 287.0,722.3 287.0,717.7 287.0,719.2 287.1,714.7 287.1,716.2 287.1,712.3 287.1,713.0 287.2,709.0 287.2,710.4 287.2,706.1 287.2,707.2 287.2,703.1 287.3,704.6 287.3,699.3 287.3,701.4 287.3,696.4 287.4,697.5 287.4,694.0 287.4,694.6 287.4,691.0 287.4,692.4 287.5,687.0 287.5,689.3 287.5,684.4 287.5,685.3 287.6,681.5 287.6,682.1 287.6,677.8 287.7,679.2 287.7,675.4 287.7,676.9 287.7,672.4 287.8,673.8 287.8,669.1 287.8,670.3 287.9,666.3 287.9,667.5 287.9,662.8 288.0,663.7 288.0,659.4 288.0,660.9 288.1,656.7 288.1,657.2 288.1,653.2 288.1,654.0 288.3,649.3 288.5,650.4 288.7,646.2 288.8,650.0 288.9,649.5 289.0,653.2 289.1,652.2 289.1,656.6 289.2,655.7 289.3,659.7 289.4,658.8 289.5,663.5 289.5,662.1 289.6,666.7 289.7,665.2 289.8,669.2 289.9,668.8 290.0,673.3 290.0,671.7 290.1,676.0 290.2,674.9 290.3,679.7 290.4,678.3 290.4,682.4 290.5,681.5 290.8,685.1 291.1,684.3 291.4,688.6 291.7,687.3 291.9,688.3 292.0,683.9 292.2,685.3 292.4,680.9 292.6,682.2 292.7,677.6 292.9,678.7 293.2,674.4 293.5,675.6 293.8,671.3 294.1,671.8 294.2,667.8 294.4,669.3 294.6,664.0 294.8,666.0 294.9,660.5 295.1,661.6 295.3,657.8 295.6,662.0 295.9,661.3 296.1,666.3 296.2,664.8 296.2,669.8 296.2,667.6 296.3,672.7 296.3,670.8 296.3,675.6 296.4,674.8 296.4,679.1 296.4,677.9 296.4,681.2 296.5,680.0 296.5,684.5 296.5,683.3 296.6,687.2 296.6,686.9 296.6,691.1 296.6,690.2 296.7,693.9 296.7,692.1 296.7,696.6 296.8,695.5 296.8,700.3 296.8,698.6 296.8,703.4 296.9,701.6 296.9,705.6 296.9,705.3 297.0,709.3 297.0,707.4 297.0,711.9 297.0,710.9 297.1,715.0 297.3,713.8 297.4,718.6 297.5,717.4 297.6,722.1 297.7,721.1 297.8,725.4 297.9,723.6 298.0,728.8 298.1,727.4 298.2,731.3 298.5,730.7 298.8,735.0 299.1,733.3 299.4,737.4 299.6,733.0 299.7,734.4 299.9,729.8 300.1,730.5 300.3,725.9 300.4,727.7 300.6,723.1 300.8,723.5 300.9,719.0 301.1,720.9 301.3,716.0 301.4,717.1 301.6,712.2 301.8,713.7 302.1,709.9 302.4,710.4 302.7,706.7 303.0,708.0 303.3,706.7 303.6,711.4 303.9,709.3 304.1,713.8 304.7,709.3 305.3,711.0 305.9,706.4 306.5,707.9 307.1,706.5 307.7,710.8 307.9,705.9 308.2,706.9 308.4,702.4 308.7,703.5 308.9,698.7 308.9,699.9 309.0,696.1 309.0,697.3 309.1,692.8 309.1,693.9 309.2,690.2 309.2,690.8 309.2,686.8 309.3,688.2 309.3,684.4 309.4,684.7 309.4,681.1 309.5,682.5 309.5,677.7 309.5,679.0 309.6,674.8 309.6,676.0 309.7,671.1 309.7,673.0 309.8,669.0 309.8,669.6 309.9,665.4 309.9,666.1 309.9,661.9 310.0,663.3 310.0,659.5 310.1,660.6 310.1,656.0 310.2,657.4 310.2,652.6 310.3,654.3 310.3,650.2 310.4,650.7 310.4,646.8 310.5,648.0 310.5,643.8 310.5,644.9 310.6,641.3 310.6,641.4 310.7,638.1 310.7,638.4 310.8,634.1 310.8,635.9 310.9,631.8 310.9,633.0 311.0,628.2 311.0,629.1 311.1,625.0 311.1,626.3 311.2,621.6 311.2,623.1 311.3,619.4 311.3,623.2 311.4,621.9 311.4,627.0 311.5,625.3 311.5,629.4 311.6,628.7 311.6,633.2 311.7,632.2 311.7,636.6 311.8,634.4 311.8,639.7 311.9,637.7 311.9,642.5 312.0,640.5 312.0,645.2 312.1,644.5 312.1,648.2 312.2,647.8 312.3,652.2 312.4,651.2 312.5,655.4 312.6,654.0 312.6,658.8 312.7,656.8 312.8,661.8 312.9,660.0 313.0,664.2 313.0,663.9 313.2,667.9 313.4,667.1 313.5,671.7 313.7,669.9 313.9,675.2 314.1,673.2 314.2,678.5 314.4,677.3 314.6,681.6 314.7,680.2 314.9,685.4 315.1,684.1 315.2,688.2 315.4,687.2 315.7,688.3 316.0,683.9 316.3,685.1 316.6,681.2 316.9,682.7 317.2,678.8 317.5,679.8 317.8,675.5 318.1,677.3 318.4,672.0 318.7,673.9 319.0,669.1 319.1,674.4 319.2,673.2 319.3,677.6 319.4,675.6 319.5,681.0 319.6,678.9 319.7,683.5 319.8,682.8 319.9,687.1 320.0,686.0 320.1,690.4 320.4,688.7 320.7,693.5 321.0,691.9 321.3,695.8 321.5,691.1 321.7,692.8 321.8,688.3 322.0,689.3 322.2,684.8 322.3,686.0 322.5,681.4 322.7,682.2 322.9,677.4 323.0,679.6 323.2,674.3 323.4,675.4 323.5,671.6 323.7,672.6 323.9,670.8 324.0,675.9 324.2,675.0 324.4,679.4 324.6,678.0 324.7,682.3 324.9,681.3 325.1,685.8 325.2,684.6 325.4,689.6 325.6,687.6 325.7,692.2 325.9,691.5 326.1,696.6 326.7,694.5 327.3,699.1 327.5,694.0 327.7,694.9 328.0,690.5 328.2,692.0 328.4,687.2 328.6,688.2 328.8,683.8 328.9,684.6 329.1,680.5 329.3,681.3 329.5,676.6 329.6,678.6 329.8,673.8 330.0,675.2 330.1,670.5 330.3,671.5 330.5,667.4 330.6,668.5 330.8,663.3 331.1,665.2 331.4,661.1 331.7,662.3 332.0,658.3 332.2,658.9 332.3,654.3 332.5,654.9 332.7,651.0 332.9,652.5 333.0,647.4 333.2,648.4 333.4,643.7 333.5,645.1 333.7,640.3 333.9,641.7 334.0,637.9 334.2,639.0 334.4,634.5 334.5,634.8 334.6,630.3 334.8,631.2 334.9,627.1 335.0,628.7 335.1,623.7 335.3,624.7 335.3,620.3 335.4,622.2 335.4,617.3 335.4,618.8 335.5,614.5 335.5,615.5 335.6,610.6 335.6,613.0 335.7,608.7 335.7,609.0 335.8,605.3 335.8,606.6 335.9,602.2 335.9,602.7 336.0,598.4 336.0,599.6 336.1,595.0 336.1,596.8 336.1,592.0 336.3,593.9 336.5,589.3 336.7,590.3 336.9,585.5 337.0,586.1 337.3,582.2 337.6,582.7 337.9,577.6 338.5,581.7 339.1,580.2 339.4,584.6 339.7,583.7 340.0,587.4 340.3,586.7 340.6,591.3 340.9,589.5 341.2,593.4 341.5,592.8 342.2,594.0 343.0,589.8 343.4,594.3 343.9,593.0 344.2,597.7 344.5,596.3 344.8,601.6 345.0,600.4 345.2,604.2 345.3,604.1 345.5,608.5 345.7,607.9 345.8,611.3 345.9,610.3 346.0,615.5 346.1,613.5 346.2,618.7 346.3,617.1 346.4,622.1 346.5,620.2 346.6,625.0 346.7,623.9 346.8,627.7 347.0,627.7 347.1,631.4 347.2,630.6 347.4,634.6 347.5,633.4 347.6,638.5 347.6,636.9 347.7,642.1 347.8,640.8 347.9,645.3 348.0,643.1 348.0,647.8 348.1,647.4 348.2,651.7 348.3,649.7 348.4,654.9 348.5,653.5 348.5,657.9 348.6,657.1 348.7,660.7 348.8,659.9 348.9,664.5 348.9,663.6 349.0,668.0 349.1,666.9 349.2,671.3 349.3,669.8 349.4,674.4 349.5,672.5 349.6,678.0 349.8,676.3 349.9,681.0 350.0,679.9 350.1,684.6 350.4,683.8 350.7,688.6 351.0,687.2 351.3,691.6 351.6,690.7 351.9,695.8 352.2,691.8 352.5,691.8 352.8,687.9 353.1,687.9 353.4,683.1 353.7,684.8 353.8,682.9 354.0,688.0 354.1,686.1 354.2,691.2 354.3,690.0 354.5,694.0 354.6,693.6 354.9,698.1 355.2,697.5 355.5,702.2 355.7,701.2 355.8,705.6 356.0,704.4 356.2,709.2 356.4,708.5 356.5,708.9 356.6,704.5 356.7,705.6 356.8,701.3 356.9,703.2 357.0,698.3 357.1,699.9 357.2,694.7 357.3,696.6 357.4,691.5 357.5,692.9 357.6,687.9 357.8,688.9 357.9,684.7 358.0,686.0 358.1,681.4 358.4,682.4 358.7,676.9 359.0,678.6 359.3,677.1 359.6,681.8 359.9,681.1 360.2,686.3 360.5,684.8 360.8,689.5 361.1,685.7 361.4,686.7 361.7,681.5 362.0,682.5 362.3,677.3 362.6,678.1 362.9,673.6 363.2,674.4 363.5,668.9 363.6,674.1 363.7,672.6 363.9,677.2 364.0,676.0 364.1,680.9 364.2,679.4 364.4,684.6 364.5,683.6 364.6,688.1 364.8,686.3 364.9,690.7 365.0,689.9 365.1,693.9 365.3,693.6 365.4,698.1 365.5,696.4 365.6,701.5 365.8,700.4 365.9,704.0 366.0,703.5 366.1,707.9 366.4,706.8 366.7,711.6 367.0,710.7 367.2,715.7 367.4,714.8 367.6,719.5 367.8,718.6 367.9,722.8 368.4,721.8 368.8,725.1 369.1,724.9 369.4,729.6 369.7,728.7 370.0,733.4 370.3,732.2 370.6,737.9 371.0,736.6 371.5,739.9 371.7,735.3 371.8,736.8 372.0,732.8 372.2,733.0 372.4,728.5 372.5,729.4 372.7,725.4 372.9,726.5 373.1,721.9 373.3,722.9 373.4,717.6 373.6,719.5 373.8,714.4 374.0,715.7 374.1,711.2 374.6,712.5 375.0,707.9 375.5,712.4 375.9,711.0 376.2,716.1 376.5,715.3 376.8,720.0 377.1,714.4 377.4,715.2 377.7,711.3 378.0,712.4 378.3,707.6 378.6,708.3 378.9,703.0 379.2,703.4 379.5,699.0 379.9,699.9 380.4,695.8 380.5,700.5 380.7,699.2 380.9,704.8 381.1,703.7 381.3,707.8 381.4,707.2 381.5,711.6 381.6,710.6 381.8,714.1 381.9,714.0 382.0,718.5 382.1,717.2 382.3,721.3 382.5,720.6 382.7,725.1 382.9,724.1 383.0,729.2 383.3,728.0 383.6,732.5 383.9,731.3 384.4,732.8 384.8,729.2 384.9,730.3 385.1,725.6 385.2,727.0 385.3,721.6 385.4,723.0 385.6,718.8 385.7,719.3 385.9,714.7 386.1,716.1 386.2,711.8 386.4,712.2 386.6,708.4 386.8,709.5 386.9,704.9 387.1,705.6 387.3,700.8 387.5,702.0 387.8,697.2 388.1,697.9 388.4,693.6 388.7,694.4 389.0,688.8 389.3,690.2 389.6,685.6 389.9,686.6 390.1,681.7 390.4,681.8 390.7,677.3 391.0,678.6 391.5,673.9 391.9,674.8 392.4,673.4 392.8,677.8 393.1,677.6 393.4,682.8 393.7,681.0 394.0,686.5 394.3,685.8 394.6,690.5 394.9,689.4 395.2,693.5 395.5,692.9 395.9,698.0 396.4,696.7 396.8,700.4 397.3,698.7 397.6,703.7 397.9,703.3 398.1,708.2 398.3,703.5 398.4,705.1 398.5,699.6 398.7,701.5 398.8,696.4 398.9,697.4 399.0,693.0 399.2,694.4 399.3,689.9 399.4,691.0 399.5,686.7 399.7,687.2 399.8,682.6 399.9,684.0 400.0,680.2 400.1,681.5 400.2,676.5 400.2,677.9 400.3,673.5 400.4,674.1 400.5,670.3 400.6,671.6 400.6,667.1 400.7,668.5 400.8,663.8 400.9,665.3 401.0,660.8 401.1,661.5 401.1,657.6 401.2,657.9 401.3,653.9 401.4,654.9 401.5,650.6 401.5,651.5 401.6,647.7 401.7,648.4 401.8,643.6 402.0,644.7 402.1,640.8 402.2,642.3 402.3,637.3 402.5,638.2 402.6,633.4 402.9,634.3 403.2,630.5 403.5,630.3 403.8,626.1 404.1,627.3 404.4,622.4 404.7,622.7 405.0,617.8 405.3,618.5 405.6,614.8 405.9,615.2 406.1,610.8 406.4,615.1 406.7,614.6 407.0,619.1 407.2,617.5 407.3,622.3 407.4,621.5 407.5,625.9 407.7,624.4 407.8,628.6 407.9,628.4 408.0,632.3 408.1,631.2 408.2,635.3 408.2,634.2 408.3,638.4 408.4,637.0 408.5,641.7 408.6,641.0 408.6,644.6 408.7,644.3 408.8,647.9 408.9,646.5 409.0,651.3 409.0,650.2 409.1,655.1 409.2,652.7 409.2,658.0 409.3,656.7 409.3,660.6 409.3,659.5 409.4,663.6 409.4,662.8 409.5,666.7 409.5,666.1 409.6,670.4 409.6,668.8 409.7,673.2 409.7,672.1 409.8,676.5 409.8,674.9 409.9,678.9 409.9,677.8 410.0,682.6 410.0,681.6 410.0,686.3 410.1,684.2 410.1,688.7 410.2,688.2 410.2,691.9 410.3,690.8 410.3,694.9 410.4,694.3 410.4,698.3 410.5,697.3 410.5,701.6 410.6,700.1 410.6,704.2 410.7,702.8 410.7,707.5 410.7,706.8 410.8,710.4 410.8,710.0 410.9,713.7 411.2,712.5 411.5,718.3 411.8,716.7 412.1,717.8 412.4,714.3 412.7,714.9 413.0,711.2 413.1,715.7 413.2,715.0 413.4,718.9 413.5,717.9 413.7,722.5 413.8,720.8 413.9,725.5 414.1,724.7 414.3,729.3 414.5,728.8 414.6,730.1 414.7,726.1 414.8,726.8 414.8,722.3 414.9,723.1 415.0,719.4 415.1,720.7 415.2,716.0 415.2,716.7 415.3,712.9 415.4,713.8 415.5,709.6 415.5,710.5 415.6,706.5 415.6,707.1 415.7,703.1 415.8,704.4 415.8,700.4 415.9,701.3 415.9,697.0 416.0,698.6 416.1,693.1 416.1,694.4 416.2,690.2 416.2,691.5 416.3,687.8 416.4,689.0 416.4,683.7 416.5,685.8 416.5,680.9 416.6,682.9 416.7,677.9 416.7,679.4 416.8,674.6 416.9,676.5 416.9,671.3 417.0,672.7 417.0,668.9 417.1,669.9 417.2,665.4 417.2,666.5 417.3,661.9 417.4,664.0 417.4,659.0 417.5,660.5 417.6,655.8 417.7,656.9 417.8,652.5 417.9,653.6 418.0,649.1 418.1,650.9 418.2,646.6 418.3,647.2 418.5,643.0 418.6,644.3 418.7,639.7 418.8,640.5 419.0,636.1 419.2,637.5 419.3,633.2 419.5,634.5 419.7,629.6 419.9,630.8 420.0,626.6 420.2,627.4 420.4,623.5 420.5,623.8 420.7,619.2 420.9,620.2 421.0,616.7 421.1,617.8 421.3,613.1 421.4,614.2 421.5,609.6 421.6,611.2 421.7,606.7 421.8,608.0 421.9,603.9 422.0,604.9 422.1,600.3 422.2,601.4 422.3,597.0 422.4,598.3 422.5,593.7 422.7,594.9 422.8,590.5 422.9,591.9 423.0,586.8 423.1,587.9 423.2,583.6 423.3,585.6 423.4,581.0 423.6,581.4 423.7,576.7 423.9,578.9 424.1,574.3 424.3,575.3 424.4,570.0 424.6,571.3 424.8,566.8 424.9,568.0 425.1,563.4 425.3,564.8 425.4,560.4 425.6,561.0 425.8,556.7 426.4,558.5 427.0,554.2 427.3,558.2 427.6,558.4 427.9,562.4 427.9,560.9 428.0,566.2 428.1,564.3 428.2,569.5 428.3,568.4 428.3,572.3 428.4,570.7 428.5,576.0 428.6,573.8 428.7,579.2 428.7,577.4 428.8,582.3 428.8,580.3 428.9,585.1 428.9,584.5 429.0,588.0 429.0,587.6 429.1,591.1 429.1,590.0 429.2,594.2 429.2,593.6 429.3,597.1 429.3,596.6 429.3,600.8 429.4,599.4 429.4,604.4 429.5,603.1 429.5,606.7 429.6,606.2 429.6,610.6 429.7,608.7 429.7,613.4 429.8,611.6 429.8,615.7 429.9,614.6 429.9,619.3 430.0,618.1 430.0,622.5 430.1,621.0 430.1,625.5 430.1,624.7 430.2,628.5 430.2,627.3 430.3,631.9 430.3,631.1 430.4,634.9 430.4,633.7 430.5,638.0 430.5,636.8 430.6,641.7 430.7,640.0 430.7,644.9 430.8,643.5 430.9,648.2 430.9,646.0 431.0,650.9 431.1,650.3 431.1,653.6 431.2,652.6 431.3,657.7 431.3,655.8 431.4,660.5 431.5,659.3 431.7,663.4 431.8,662.6 431.9,667.8 432.0,666.5 432.2,670.8 432.3,669.1 433.5,672.5 433.8,671.2 434.1,675.0 434.4,673.7 434.7,678.8 434.8,676.7 435.0,681.5 435.2,680.2 435.3,685.4 435.5,684.1 435.7,688.7 435.9,687.4 436.1,691.5 436.3,691.5 436.6,695.7 436.8,694.1 437.0,698.4 437.2,698.5 437.4,702.3 437.6,701.9 437.8,706.4 437.9,705.5 438.2,710.0 438.5,709.0 438.8,713.6 438.9,708.9 439.1,710.3 439.2,705.9 439.3,707.2 439.4,702.7 439.6,703.3 439.7,698.6 439.8,700.6 439.9,695.9 439.9,697.1 440.0,692.6 440.1,693.6 440.2,690.0 440.3,690.7 440.3,685.7 440.4,686.9 440.5,682.4 440.6,684.0 440.6,679.2 440.7,681.4 440.7,677.0 440.8,677.6 440.8,673.1 440.9,675.4 440.9,670.1 441.0,671.8 441.0,667.3 441.1,668.9 441.1,663.8 441.2,665.9 441.2,661.4 441.2,662.7 441.3,657.4 441.3,659.3 441.4,655.5 441.4,655.7 441.5,651.6 441.5,652.9 441.6,648.1 441.7,649.9 441.8,645.1 441.8,646.2 441.9,642.1 442.0,643.6 442.0,638.5 442.1,640.7 442.2,636.1 442.2,637.0 442.3,632.0 442.4,633.3 442.4,633.1 442.4,636.5 442.4,635.4 442.5,639.8 442.5,638.5 442.5,643.4 442.5,641.4 442.6,645.6 442.6,644.7 442.6,649.6 442.6,647.7 442.7,652.7 442.7,650.7 442.7,655.5 442.7,653.7 442.7,658.5 442.8,657.7 442.8,661.3 442.8,659.8 442.8,664.4 442.9,663.4 442.9,668.2 442.9,666.2 442.9,671.1 443.0,669.6 443.0,674.0 443.1,673.3 443.1,676.8 443.2,676.4 443.2,680.5 443.3,679.2 443.3,683.1 443.4,682.3 443.5,686.4 443.5,685.8 443.6,689.5 443.9,688.8 444.1,692.6 444.4,691.2 444.7,695.9 445.0,691.4 445.3,693.0 445.6,689.0 445.9,690.5 446.2,686.1 446.5,687.2 446.8,682.7 447.1,684.8 447.7,679.7 448.3,680.7 449.5,680.0 451.0,684.1 452.4,678.0 453.2,679.6 453.9,675.9 454.7,679.5 455.4,678.1 456.1,679.3 456.9,675.0 458.4,677.4 459.9,675.2 460.6,680.0 461.3,678.7 462.1,682.7 462.8,681.2 463.2,685.4 463.6,684.3 463.9,688.8 464.3,686.8 464.7,691.3 465.0,690.7 465.4,694.6 465.8,693.1 466.1,698.0 466.4,696.7 466.7,701.6 466.7,697.6 466.8,698.8 466.8,694.8 466.9,695.7 466.9,691.4 467.0,692.5 467.0,687.9 467.0,690.1 467.1,684.6 467.1,686.0 467.2,682.2 467.2,683.8 467.3,679.4 467.3,679.6 467.4,676.3 467.4,677.6 467.5,672.6 467.5,673.8 467.6,670.0 467.6,671.2 467.6,665.8 467.7,667.9 467.7,662.8 467.8,664.6 467.8,660.4 467.9,661.1 467.9,657.3 467.9,657.9 468.0,654.2 468.0,654.7 468.1,651.5 468.1,652.6 468.1,647.4 468.2,649.4 468.2,644.9 468.3,645.9 468.3,641.5 468.4,643.2 468.4,638.7 468.4,639.7 468.6,635.2 468.7,636.8 468.8,632.0 468.9,632.4 469.1,628.6 469.2,630.0 469.3,625.5 469.8,629.5 470.2,628.5 470.3,632.2 470.4,631.1 470.5,635.2 470.5,634.6 470.6,639.0 470.7,637.9 470.8,642.5 470.9,640.6 470.9,645.1 471.0,643.9 471.1,648.9 471.1,647.3 471.2,651.8 471.2,650.4 471.3,655.1 471.3,653.3 471.3,657.6 471.4,656.5 471.4,661.2 471.5,659.8 471.5,664.6 471.5,663.0 471.6,667.2 471.6,665.8 471.7,670.4 471.7,669.4 471.7,673.6 471.8,672.6 471.8,676.5 471.8,675.3 471.9,679.8 471.9,677.9 472.0,683.2 472.0,681.7 472.1,686.3 472.1,684.6 472.2,688.9 472.2,688.3 472.3,692.5 472.4,691.2 472.4,695.0 472.5,694.3 472.5,698.1 472.6,697.4 472.7,701.3 472.7,700.3 472.8,704.6 472.8,703.2 472.9,708.4 473.0,706.3 473.1,711.1 473.3,709.9 473.4,714.9 473.5,713.3 473.7,717.9 473.8,717.3 473.9,721.7 474.0,720.1 474.2,724.6 474.3,723.5 474.4,727.7 474.5,726.8 474.7,732.1 475.0,730.2 475.3,735.1 475.6,734.5 476.1,739.3 476.7,738.1 477.0,739.1 477.3,735.1 477.6,735.7 477.9,732.3 478.1,732.6 478.3,727.9 478.4,729.6 478.6,724.6 478.8,726.7 478.9,722.0 479.1,723.1 479.2,717.9 479.2,719.7 479.3,715.4 479.3,716.0 479.4,712.1 479.4,713.1 479.5,709.2 479.5,710.4 479.6,705.6 479.6,706.7 479.7,703.0 479.7,703.9 479.8,699.3 479.8,700.9 479.9,696.2 479.9,698.1 480.0,692.9 480.0,694.4 480.1,689.8 480.1,691.6 480.2,687.2 480.2,687.9 480.2,684.1 480.3,685.5 480.3,680.6 480.3,681.9 480.4,677.7 480.4,678.5 480.5,674.6 480.5,675.9 480.5,671.3 480.6,673.3 480.6,669.0 480.7,670.3 480.7,665.8 480.7,667.2 480.8,661.7 480.8,663.2 480.9,659.5 480.9,660.0 480.9,655.6 481.0,657.6 481.1,652.4 481.1,654.5 481.2,649.9 481.2,651.3 481.3,646.8 481.4,647.6 481.4,643.5 481.5,644.9 481.5,640.5 481.6,641.6 481.7,637.0 481.7,638.7 481.8,634.0 481.8,635.1 481.9,630.7 481.9,631.9 482.0,627.2 482.0,628.2 482.1,624.7 482.2,624.9 482.2,621.1 482.3,622.6 482.3,617.7 482.4,619.2 482.6,613.7 482.8,615.4 483.0,610.5 483.1,611.2 483.2,607.1 483.4,608.1 483.5,604.0 483.6,604.8 483.8,601.1 483.9,602.5 484.1,598.2 484.2,598.7 484.3,594.5 484.5,595.7 484.6,591.2 484.7,593.1 484.9,588.2 485.0,589.9 485.1,585.6 485.3,586.5 485.4,583.0 485.6,584.3 485.7,579.7 485.8,580.1 486.0,575.8 486.1,577.6 486.2,573.1 486.4,574.9 486.5,569.8 486.7,571.1 486.8,567.3 486.8,568.4 486.9,563.6 487.0,564.6 487.0,560.8 487.1,561.7 487.1,557.8 487.2,558.9 487.2,553.9 487.3,554.8 487.3,550.7 487.4,552.1 487.4,548.2 487.5,548.8 487.5,544.2 487.6,545.8 487.6,541.2 487.6,542.4 487.7,537.8 487.7,539.8 487.8,535.2 487.8,535.9 487.9,532.3 487.9,532.8 487.9,529.1 488.0,529.9 488.0,526.2 488.1,526.9 488.1,523.2 488.1,523.7 488.2,519.6 488.2,520.4 488.3,516.4 488.3,518.2 488.3,513.0 488.4,515.0 488.4,510.6 488.5,511.5 488.5,507.3 488.5,508.7 488.6,503.8 488.6,505.2 488.7,500.2 488.8,501.2 488.8,497.7 488.9,498.7 489.0,493.5 489.0,498.3 489.1,497.9 489.2,501.2 489.3,500.3 489.4,505.4 489.5,504.2 489.6,508.8 489.6,507.0 489.7,511.1 489.7,510.2 489.8,515.5 489.9,513.2 489.9,518.5 490.0,516.9 490.0,521.3 490.1,520.4 490.1,524.7 490.2,522.9 490.3,527.4 490.3,526.8 490.4,530.3 490.4,529.6 490.5,534.4 490.6,532.7 490.6,537.4 490.7,536.2 490.7,539.9 490.8,539.4 490.9,543.3 491.0,542.1 491.1,546.8 491.2,546.1 491.2,550.5 491.3,549.3 491.4,554.1 491.6,552.1 491.7,557.2 491.8,555.6 491.9,559.8 492.0,555.7 492.0,557.5 492.1,552.0 492.1,553.9 492.2,549.5 492.2,550.3 492.2,546.1 492.3,547.9 492.3,543.6 492.4,544.3 492.4,540.4 492.5,541.9 492.5,537.6 492.6,538.3 492.6,534.2 492.7,535.4 492.8,531.6 492.8,531.7 492.9,528.0 492.9,529.4 493.0,524.9 493.1,525.4 493.1,521.9 493.7,522.0 493.7,520.9 493.8,525.3 493.8,523.9 493.8,528.6 493.9,528.1 493.9,531.5 494.0,530.9 494.0,535.3 494.0,533.8 494.1,538.8 494.1,537.3 494.1,541.2 494.2,539.9 494.2,544.4 494.2,543.8 494.2,547.4 494.3,546.4 494.3,551.0 494.3,549.7 494.4,553.6 494.4,553.1 494.4,557.0 494.5,555.3 494.5,559.5 494.5,559.0 494.6,563.4 494.6,561.6 494.6,565.8 494.7,564.4 494.7,569.7 494.8,567.9 494.8,572.3 494.8,570.8 494.9,575.7 494.9,574.3 494.9,579.4 495.0,577.2 495.0,581.5 495.0,581.1 495.1,584.7 495.1,584.2 495.1,588.6 495.1,586.8 495.2,591.2 495.2,590.2 495.2,594.3 495.3,593.2 495.3,597.7 495.3,593.1 495.4,594.7 495.4,589.4 495.4,591.4 495.5,586.3 495.5,587.4 495.5,583.4 495.6,584.9 495.6,580.3 495.6,581.4 495.7,577.2 495.7,578.5 495.8,573.9 495.9,574.8 495.9,570.2 496.0,571.3 496.0,568.0 496.1,568.5 496.2,564.3 496.2,565.0 496.3,561.2 496.4,562.5 496.4,557.2 496.5,559.3 496.6,553.9 496.7,554.9 496.8,551.1 496.9,552.0 497.0,548.1 497.1,549.0 497.2,544.4 497.3,545.6 497.4,540.5 497.5,541.6 497.6,537.6 498.0,538.1 498.4,533.8 498.5,537.2 498.6,536.7 498.6,540.6 498.7,540.0 498.7,544.5 498.8,542.6 498.9,547.2 498.9,546.6 499.0,550.8 499.0,549.5 499.1,553.1 499.2,552.1 499.2,557.2 499.3,555.8 499.3,560.0 499.4,558.2 499.5,563.1 499.5,562.0 499.6,565.8 499.6,565.6 499.7,569.8 499.7,567.8 499.8,572.1 499.8,571.1 499.9,575.2 499.9,574.1 500.0,578.6 500.0,577.3 500.1,581.9 500.2,581.1 500.2,585.1 500.3,583.5 500.3,587.5 500.4,587.4 500.4,590.9 500.5,589.7 500.5,594.9 500.6,593.2 500.6,597.9 500.6,592.9 500.7,594.1 500.7,590.1 500.7,591.8 500.8,587.0 500.8,588.3 500.8,583.7 500.8,584.8 500.9,581.0 500.9,582.2 500.9,577.8 500.9,579.4 501.0,575.1 501.0,576.0 501.0,571.8 501.0,572.6 501.1,568.4 501.1,570.5 501.1,565.6 501.2,566.8 501.2,562.8 501.2,563.8 501.3,559.6 501.4,560.4 501.4,555.8 501.5,557.4 501.6,553.5 501.7,554.6 501.8,550.6 501.8,551.1 501.9,546.8 502.0,548.5 502.1,543.8 502.2,544.1 502.3,539.6 502.5,540.7 502.6,536.9 502.7,537.9 502.8,532.8 503.2,534.1 503.6,529.8 503.7,533.6 503.9,532.8 504.1,536.6 504.2,535.3 504.4,540.2 504.4,538.6 504.5,542.9 504.5,541.7 504.6,546.7 504.6,545.3 504.6,549.8 504.7,548.3 504.7,552.6 504.8,550.5 504.8,555.3 504.9,553.6 504.9,558.3 505.0,557.2 505.0,561.9 505.1,560.0 505.1,563.9 505.1,563.6 505.2,567.6 505.2,566.4 505.3,570.0 505.3,568.9 505.4,573.4 505.4,571.8 505.5,576.5 505.5,575.7 505.6,579.6 505.6,575.0 505.7,577.1 505.7,572.2 505.7,573.3 505.8,569.2 505.8,570.3 505.9,566.4 505.9,566.9 506.0,563.8 506.0,565.0 506.1,559.8 506.1,561.1 506.1,557.0 506.2,557.8 506.2,553.6 506.2,555.4 506.3,550.6 506.3,552.0 506.3,547.8 506.4,549.4 506.4,544.9 506.4,545.4 506.5,542.0 506.5,543.3 506.5,538.7 506.6,539.1 506.6,535.2 506.6,536.1 506.6,532.3 506.7,533.7 506.7,529.4 506.7,530.2 506.8,525.5 506.8,527.7 506.9,522.5 506.9,523.7 507.0,519.3 507.0,521.2 507.1,517.3 507.1,518.7 507.1,514.3 507.2,515.7 507.2,511.3 507.3,511.6 507.3,507.8 507.3,512.2 507.3,510.7 507.3,515.5 507.3,514.3 507.3,518.4 507.3,517.1 507.3,521.7 507.3,519.7 507.3,524.4 507.3,523.4 507.3,527.7 507.3,526.2 507.3,529.9 507.3,529.1 507.3,533.6 507.3,532.2 507.3,536.3 507.3,534.9 507.3,539.1 507.3,538.6 507.3,542.3 507.3,540.9 507.3,545.7 507.3,544.5 507.3,548.7 507.3,546.8 507.3,551.8 507.3,550.6 507.3,554.0 507.3,552.7 507.3,557.8 507.3,556.6 507.3,560.9 507.3,559.2 507.3,563.8 507.3,562.5 507.3,566.9 507.3,565.6 507.3,569.6 507.3,568.7 507.3,573.0 507.3,571.0 507.3,575.5 507.3,575.0 507.3,578.5 507.3,577.2 507.3,581.7 507.3,581.2 507.3,585.3 507.3,583.7 507.3,587.4 507.3,586.4 507.3,591.0 507.3,589.3 507.3,594.4 507.3,592.3 507.3,597.5 507.3,595.9 507.3,600.5 507.3,598.8 507.3,603.3 507.3,602.2 507.4,606.3 507.4,605.4 507.4,609.6 507.5,608.3 507.5,612.3 507.5,610.5 507.6,615.7 507.6,613.6 507.7,618.2 507.7,617.5 507.7,621.9 507.8,620.3 507.8,624.8 507.8,623.2 507.9,627.4 507.9,626.1 508.0,630.5 508.0,628.8 508.0,633.6 508.1,632.6 508.1,636.6 508.1,635.7 508.2,640.0 508.2,638.7 508.3,642.5 508.3,641.2 508.3,645.5 508.4,643.9 508.4,649.0 508.4,647.6 508.5,651.6 508.5,650.1 508.5,654.8 508.6,653.3 508.6,657.6 508.6,656.4 508.7,660.9 508.7,659.0 508.7,663.7 508.8,662.2 508.8,666.5 508.8,665.8 508.9,669.6 508.9,668.1 508.9,672.4 509.0,671.9 509.0,675.9 509.0,674.4 509.1,679.2 509.1,678.1 509.1,681.9 509.2,680.5 509.2,684.6 509.2,684.2 509.3,688.4 509.3,687.4 509.3,690.6 509.6,690.1 509.8,694.5 510.1,692.9 510.3,696.9 510.6,692.7 510.8,694.5 511.0,690.3 511.3,690.7 511.5,686.9 511.8,688.3 512.0,684.3 512.3,683.8" fill="none" stroke="#ff1a1a" stroke-width="1.9" stroke-dasharray="1.1 0.7" stroke-linejoin="round"/>
<polyline points="63.0,708.2 63.3,707.6 63.6,703.9 63.8,703.5 64.1,699.8 64.3,699.1 64.5,695.6 64.7,694.2 64.8,690.4 65.0,689.7 65.2,685.8 65.4,684.9 65.7,681.6 65.9,680.5 66.1,677.1 66.3,676.2 66.9,672.4 67.4,670.5 67.6,667.4 67.7,666.7 67.9,663.0 68.0,662.1 68.1,658.8 68.3,657.9 68.4,654.7 68.6,653.8 68.7,650.9 68.8,650.0 68.9,646.6 69.0,645.5 69.1,642.0 69.2,641.7 69.3,638.2 69.4,637.5 69.5,633.9 69.6,633.2 69.7,629.9 69.8,629.2 69.9,625.5 70.0,625.0 70.1,621.2 70.2,620.5 70.4,621.8 70.5,625.1 70.6,626.5 70.8,629.7 70.9,631.1 71.1,634.6 71.2,635.7 71.2,638.9 71.3,639.8 71.4,643.1 71.5,643.9 71.6,647.5 71.7,648.5 71.8,651.8 71.9,652.6 72.1,655.9 72.2,656.9 72.4,660.4 72.6,661.5 72.7,665.3 73.1,661.3 73.6,659.7 74.1,661.1 74.7,665.1 74.8,666.3 75.0,669.3 75.2,670.7 75.3,674.2 75.5,675.1 75.7,674.2 75.9,670.5 76.1,670.2 76.3,666.7 76.9,665.0 77.4,661.0 77.7,664.5 78.0,665.4 78.3,668.7 78.6,669.2 78.7,668.7 78.8,665.5 79.0,664.6 79.1,661.3 79.3,660.1 79.4,656.8 79.5,656.3 79.7,652.8 79.8,652.1 79.8,648.4 79.9,647.5 80.0,644.3 80.1,643.1 80.2,640.1 80.3,638.8 80.4,635.5 80.4,635.0 80.5,631.5 80.6,630.2 80.7,626.8 80.8,626.2 80.9,622.9 81.1,621.9 81.2,618.6 81.3,618.0 81.5,614.5 81.6,613.6 81.8,610.6 81.9,609.7 82.1,606.3 82.3,605.1 82.6,601.4 82.8,600.4 83.0,597.0 83.6,595.9 84.1,591.5 84.3,590.9 84.5,587.6 84.7,586.6 84.9,583.4 85.4,581.9 85.8,577.8 85.9,581.2 86.1,581.9 86.3,585.8 86.4,586.3 86.6,590.0 86.7,590.8 86.8,594.2 86.8,594.9 86.9,598.0 87.0,599.0 87.1,602.0 87.1,603.0 87.2,606.5 87.3,606.7 87.4,610.3 87.4,611.0 87.5,614.3 87.6,615.4 87.7,618.4 87.7,619.2 87.8,622.9 87.9,623.6 87.9,627.0 88.0,627.6 88.1,631.2 88.1,631.8 88.2,635.4 88.3,636.1 88.4,639.4 88.4,640.2 88.5,643.4 88.6,644.0 88.7,647.5 88.7,648.3 88.8,651.7 88.9,652.1 89.0,655.5 89.0,656.5 89.1,659.5 89.3,656.3 89.5,655.4 89.7,652.0 89.9,651.4 90.0,647.7 90.1,647.0 90.2,643.5 90.3,642.6 90.4,639.0 90.5,638.4 90.6,634.9 90.7,634.1 90.8,630.3 91.1,629.8 91.3,626.1 91.6,625.7 91.9,622.1 92.1,621.2 92.3,617.9 92.6,616.9 92.8,613.0 93.0,612.3 93.3,608.9 93.6,608.2 93.8,604.7 94.1,603.8 94.5,600.5 94.8,599.8 95.2,596.4 95.5,595.6 95.8,592.2 96.2,591.6 96.5,588.0 96.9,587.4 97.2,584.1 97.4,582.7 97.7,579.4 98.0,578.5 98.3,575.1 98.6,574.2 99.0,570.7 99.3,569.7 99.7,566.6 99.9,565.4 100.1,562.2 100.4,560.7 100.6,557.4 100.8,556.1 101.1,552.9 101.3,551.5 101.6,548.3 101.9,547.2 102.2,543.8 102.4,542.9 102.7,539.5 102.9,538.6 103.1,535.2 103.3,533.9 103.6,530.6 104.0,529.6 104.4,526.5 104.5,529.8 104.7,530.5 104.8,533.6 104.9,534.6 105.1,537.8 105.2,538.8 105.4,542.2 105.7,543.2 105.9,547.0 106.1,547.5 106.3,551.1 107.4,547.0 107.7,550.6 108.0,551.4 108.3,554.5 108.6,555.4 109.1,559.6 109.7,560.8 109.9,564.6 110.2,565.1 110.5,568.5 110.8,569.2 110.9,572.4 110.9,573.7 111.0,576.8 111.1,577.5 111.2,580.6 111.2,581.5 111.3,585.1 111.4,585.7 111.4,588.9 111.5,589.9 111.6,592.9 111.7,593.6 111.7,597.1 111.8,597.6 111.9,601.4 112.7,602.0 113.6,605.2 114.5,606.1 115.4,610.0 116.3,611.1 119.1,613.6 121.9,612.2 122.8,615.5 123.7,616.2 124.7,619.2 125.1,620.4 125.5,623.7 125.9,624.6 126.3,627.9 126.6,628.7 127.0,632.5 127.4,633.5 130.2,637.3 133.0,636.2 133.1,635.3 133.2,631.4 133.3,630.5 133.4,627.3 133.6,626.0 134.9,623.3 136.3,623.3 137.0,624.2 137.7,627.6 139.1,623.5 140.5,622.1 140.7,622.8 140.9,626.2 141.1,627.2 141.3,630.6 141.5,631.7 141.7,635.0 141.9,636.1 142.2,635.1 142.4,631.6 142.7,630.6 143.0,627.0 143.3,626.2 144.7,622.4 145.4,625.4 146.1,626.3 147.4,629.2 148.8,624.7 149.5,624.1 150.2,621.0 150.7,624.5 151.1,625.4 151.6,629.0 153.0,630.4 154.4,629.0 155.8,630.5 156.0,634.2 156.2,635.0 156.4,638.3 156.7,639.2 156.9,642.7 157.4,644.5 158.0,648.6 158.0,645.1 158.0,644.0 158.7,644.5 159.4,647.8 160.0,648.7 160.7,652.1 161.4,652.5 162.1,655.8 164.1,656.8 165.1,660.1 166.2,660.9 168.2,665.1 169.2,665.1 170.2,664.2 172.3,660.7 174.3,662.9 174.5,659.8 174.7,658.8 174.9,655.0 175.1,654.3 175.3,650.9 175.4,650.0 175.5,646.3 175.7,646.1 175.8,642.4 175.9,641.5 176.0,638.3 176.1,637.5 176.2,634.3 176.3,633.8 176.6,634.3 176.8,637.5 177.1,638.6 177.3,642.0 177.7,642.7 178.0,645.9 178.4,646.6 178.9,649.7 179.5,650.6 180.0,653.7 181.4,650.9 182.4,653.9 183.5,654.0 184.0,652.2 184.5,648.6 184.6,648.0 184.7,644.4 184.8,643.6 184.9,640.5 185.0,639.6 185.2,636.4 185.3,635.6 185.4,632.1 185.5,631.5 185.6,628.5 185.6,627.6 185.7,624.4 185.8,623.5 185.8,620.1 185.9,619.6 186.0,616.0 186.0,615.3 186.1,612.1 186.2,611.2 186.2,608.0 186.3,607.2 186.4,603.8 186.5,602.8 186.5,599.9 187.1,598.9 187.2,599.6 187.3,602.9 187.4,603.7 187.5,607.2 187.6,608.1 187.7,611.3 187.9,612.2 188.1,615.1 188.2,616.0 188.4,619.2 188.6,619.9 188.7,623.4 188.8,624.3 188.9,627.6 189.1,628.5 189.2,631.7 189.3,632.6 189.4,635.4 189.6,636.2 190.1,639.8 190.6,640.6 190.8,643.6 191.0,644.3 191.2,647.9 191.4,648.5 191.6,651.7 191.8,652.6 191.9,655.9 192.0,656.9 192.2,660.0 192.3,660.8 192.5,664.1 192.6,665.0 193.1,668.0 193.7,668.8 194.2,668.3 194.7,664.8 195.2,668.2 195.7,668.8 196.2,668.2 196.7,664.9 197.2,664.2 197.7,660.7 198.2,660.0 198.7,657.0 199.8,659.8 199.9,656.9 200.1,655.8 200.3,652.5 200.4,651.9 200.6,648.5 200.8,647.6 201.4,644.6 201.5,648.1 201.6,648.6 201.7,651.9 201.8,652.7 201.9,655.8 202.0,657.0 202.2,659.9 202.4,660.9 202.6,664.1 202.8,664.7 203.8,668.0 204.8,669.1 206.9,672.2 207.9,673.3 208.9,676.3 209.9,677.3 210.2,680.4 210.5,681.5 210.7,684.8 211.0,685.4 211.2,688.8 211.5,689.3 211.7,692.8 212.0,693.5 212.2,697.0 212.5,697.7 212.7,700.9 213.0,701.7 213.5,705.0 214.0,705.5 214.5,708.8 215.0,709.9 215.3,708.7 215.6,705.8 215.8,704.7 216.1,701.6 216.1,701.1 216.2,697.6 216.2,696.6 216.3,693.5 216.3,692.5 216.4,689.2 216.4,688.7 216.5,685.5 216.5,684.4 216.6,681.1 216.6,680.7 216.7,677.1 216.8,676.3 216.8,672.8 216.9,672.0 216.9,669.2 217.0,668.4 217.0,665.0 217.3,663.9 217.5,660.8 217.8,660.3 218.0,656.8 218.6,660.0 219.1,661.1 219.4,659.8 219.7,656.6 220.1,656.0 220.4,652.5 220.8,651.7 221.1,648.8 222.1,647.6 223.1,644.6 224.2,646.6 225.2,646.7 226.2,649.8 226.5,650.8 226.9,653.7 227.2,655.0 227.7,658.3 228.2,659.0 229.2,662.1 230.3,662.9 231.3,662.1 232.3,662.1 233.3,662.0 234.3,659.0 235.3,661.1 236.4,656.6 236.9,656.1 237.4,652.5 238.4,651.8 239.4,652.0 240.4,650.9 241.5,648.6 242.5,652.0 243.5,648.7 244.5,647.9 245.5,644.4 246.6,648.1 247.6,645.7 248.6,649.9 249.6,646.4 250.6,645.7 251.7,642.7 252.7,644.7 253.7,644.8 254.7,643.9 255.7,640.3 256.7,639.6 257.8,636.6 258.3,635.4 258.8,632.5 259.3,631.3 259.8,628.3 260.3,631.6 260.8,632.5 261.2,635.4 261.5,636.3 261.8,639.5 262.9,640.6 263.9,643.7 264.9,640.5 265.9,643.6 266.9,640.5 267.4,643.7 267.9,644.4 268.5,647.9 269.0,648.4 269.3,652.0 269.6,652.6 270.0,656.0 270.3,652.7 270.7,652.1 271.0,648.5 271.3,648.1 271.5,644.4 271.8,643.9 272.0,640.6 272.2,639.9 272.4,636.5 272.6,635.4 272.8,632.6 273.0,631.4 273.4,628.4 273.7,627.6 274.1,624.3 275.1,627.2 275.4,628.1 275.8,631.6 276.1,632.6 276.3,629.8 277.5,630.5 278.7,633.0 279.9,634.5 281.3,639.2 282.8,636.2 284.3,638.8 285.8,639.2 286.5,638.1 287.3,634.8 288.1,632.8 288.5,633.7 288.9,637.2 289.3,637.6 290.5,640.2 291.7,640.7 293.2,643.2 294.7,643.5 296.1,645.5 297.6,644.9 299.1,648.0 300.6,643.8 302.1,644.8 303.6,644.9 305.0,647.8 306.5,645.1 308.0,647.8 309.5,649.4 309.6,649.0 309.7,645.4 309.7,644.8 309.8,641.2 309.9,640.2 310.0,636.9 310.1,636.3 310.2,633.2 310.3,632.4 310.4,629.1 310.5,627.9 310.6,624.4 310.7,623.6 310.8,620.0 310.9,618.8 311.0,615.6 311.1,614.4 311.3,611.0 311.7,610.2 312.0,607.0 312.4,606.2 313.3,602.2 313.8,606.2 314.2,607.8 315.4,612.5 315.6,608.5 315.8,607.6 315.9,604.0 316.1,602.6 316.3,599.0 316.7,597.5 317.2,593.5 318.4,591.4 319.3,587.5 319.7,591.7 320.1,593.0 320.2,596.5 320.3,597.3 320.4,600.8 320.5,601.6 320.6,605.3 320.7,605.9 320.7,609.5 321.0,610.4 321.2,613.5 321.4,614.7 321.6,618.3 322.8,620.1 324.3,618.2 325.8,620.0 327.3,622.4 328.7,623.0 330.2,625.6 331.7,625.9 333.2,624.3 333.4,625.3 333.5,629.2 333.7,629.8 333.9,633.9 334.1,634.6 334.2,638.5 334.4,639.5 334.6,643.3 334.8,644.3 335.0,647.9 335.0,644.3 335.1,643.6 335.2,640.2 335.3,639.0 335.4,636.0 335.4,634.8 335.5,631.5 335.6,630.8 335.7,627.1 335.8,626.2 335.9,622.7 335.9,621.9 336.0,618.5 336.0,617.6 336.1,614.3 336.2,613.7 336.2,609.9 336.3,609.5 336.4,605.9 336.4,605.3 336.5,601.6 336.5,600.9 336.6,597.7 336.7,596.6 336.7,593.0 336.8,592.3 336.8,588.8 336.8,588.3 336.9,585.0 336.9,583.8 336.9,580.8 337.0,579.7 337.0,576.4 337.1,575.9 337.1,572.1 337.1,571.6 337.2,568.2 337.2,567.1 337.2,563.9 337.3,563.2 337.3,559.7 337.3,558.9 337.4,555.3 337.4,554.5 337.5,551.3 337.5,550.2 337.6,546.9 337.7,546.2 337.7,542.8 337.8,541.8 337.8,538.2 337.9,537.3 337.9,534.2 338.0,533.2 338.1,529.6 338.2,529.1 338.3,525.4 338.4,524.6 338.4,521.3 338.5,520.5 339.1,521.9 339.2,525.5 339.3,526.7 339.3,530.1 339.4,530.8 339.5,534.4 339.6,535.7 339.6,538.8 339.7,539.9 339.8,543.6 339.9,544.8 340.1,548.1 340.2,549.4 340.3,553.1 340.6,554.6 340.9,559.1 341.0,560.0 341.1,563.1 341.2,563.7 341.4,567.5 341.5,568.2 341.6,571.6 341.7,572.1 341.8,575.8 342.0,576.5 342.1,579.8 343.0,581.2 343.2,585.0 343.3,586.4 343.5,589.6 343.7,591.1 343.9,594.3 344.1,595.7 344.4,599.0 344.6,600.1 344.8,603.5 345.7,605.0 346.6,603.6 346.8,604.2 347.0,608.0 347.3,608.6 347.5,612.5 347.9,613.9 348.4,618.5 348.5,619.5 348.7,622.7 348.9,624.3 349.1,627.5 349.3,628.9 349.5,632.3 349.7,633.2 349.9,636.9 350.1,637.9 350.6,641.9 351.0,643.6 351.3,642.6 351.5,639.4 351.7,638.3 351.9,634.8 352.4,639.1 352.8,640.7 353.3,645.1 353.7,646.3 354.1,644.7 354.6,640.5 355.0,639.1 355.5,634.9 355.7,638.0 355.9,639.2 356.1,642.6 356.4,643.5 356.8,648.1 357.3,649.6 358.1,647.7 358.6,643.6 359.0,642.0 359.5,637.5 359.9,636.0 360.1,632.5 360.3,631.2 360.5,627.4 360.6,626.5 360.8,623.1 361.3,621.9 361.7,618.6 361.9,621.9 362.1,622.8 362.2,625.8 362.4,627.0 362.6,630.1 363.0,631.5 363.5,636.0 363.9,631.8 364.4,630.3 364.8,626.1 365.3,624.1 365.5,624.9 365.7,628.3 365.9,629.4 366.1,633.0 366.3,634.2 366.4,637.1 366.5,638.1 366.7,641.4 366.8,642.3 366.9,645.5 367.0,646.7 367.2,650.5 367.4,651.4 367.6,654.9 367.8,656.3 367.9,659.6 368.4,661.2 368.8,665.7 370.0,665.8 371.2,665.4 372.4,662.9 373.6,665.8 375.0,662.9 376.5,662.7 378.0,659.7 379.5,662.7 381.0,659.9 382.4,659.4 383.9,657.2 385.4,659.8 386.9,660.0 388.4,662.9 389.9,662.7 391.3,662.9 392.8,660.0 394.3,662.9 395.8,662.8 397.3,662.9 398.7,658.6 398.9,657.5 399.1,653.7 399.3,652.8 399.5,648.7 399.6,647.7 399.9,644.3 400.1,643.0 400.3,639.5 400.6,638.3 400.8,634.7 401.2,633.8 401.6,631.0 402.0,630.0 402.4,627.1 402.8,626.1 403.2,622.7 403.6,622.4 404.0,619.1 404.4,618.0 404.7,614.6 405.0,614.0 405.3,610.2 405.6,609.1 406.4,606.7 406.9,610.3 407.3,610.8 407.5,614.4 407.7,616.0 407.9,619.4 408.0,620.6 408.2,624.3 408.3,625.1 408.5,628.5 408.6,629.4 408.7,632.6 408.9,633.2 409.0,637.0 409.1,637.9 409.4,641.0 409.7,642.1 410.0,645.6 410.3,646.7 410.7,649.8 411.1,650.5 411.5,654.0 413.0,649.7 413.9,653.8 414.3,654.6 414.7,657.8 415.1,658.3 415.3,661.7 415.6,662.9 415.8,666.5 416.0,667.6 416.2,666.5 416.4,662.9 416.7,661.9 416.9,658.4 417.1,657.5 417.2,653.9 417.4,652.6 417.6,649.2 417.8,647.8 418.2,643.7 418.7,641.7 418.9,638.4 419.1,637.2 419.4,633.5 419.6,632.7 419.9,628.9 420.1,627.7 420.3,624.0 420.6,623.2 420.8,619.1 421.0,618.5 421.1,614.9 421.3,613.7 421.4,610.3 421.5,609.4 421.6,606.2 421.7,605.4 421.8,601.9 421.9,600.9 422.0,597.3 422.1,596.6 422.2,593.2 422.4,592.6 422.6,589.2 422.7,588.1 422.9,584.8 423.1,584.0 423.2,580.7 423.4,579.7 423.6,576.6 423.7,575.2 423.9,572.2 424.1,571.0 424.3,567.6 424.4,566.9 424.6,563.8 424.8,562.9 424.9,559.3 425.1,558.4 425.3,555.0 425.4,554.4 425.6,551.0 425.8,550.1 425.9,546.8 426.1,545.7 426.3,542.3 426.5,541.6 426.6,538.0 426.8,537.2 427.0,534.2 427.2,532.8 427.4,529.4 427.6,528.6 427.9,525.4 428.7,529.1 428.8,530.0 428.9,533.5 428.9,534.1 429.0,537.4 429.0,538.4 429.1,541.6 429.2,542.5 429.2,546.0 429.3,546.7 429.3,549.9 429.4,550.7 429.4,554.1 429.5,555.4 429.5,558.6 429.5,559.6 429.6,562.5 429.6,563.6 429.7,567.1 429.7,567.6 429.8,571.4 429.8,572.3 429.8,575.5 429.9,576.1 429.9,579.5 430.0,580.4 430.0,583.8 430.1,584.9 430.1,587.9 430.1,588.9 430.2,592.4 430.2,593.0 430.3,596.6 430.3,597.7 430.4,600.7 430.4,601.8 430.4,605.3 430.5,606.1 430.5,609.1 430.6,610.2 430.6,613.3 430.7,614.3 430.8,617.7 430.8,618.4 430.9,621.6 430.9,622.8 431.0,625.9 431.1,626.6 431.1,630.0 431.5,626.8 431.9,626.3 432.3,623.1 432.7,622.0 433.1,618.9 433.5,618.2 433.7,619.1 434.0,623.0 434.2,624.0 434.4,627.7 434.7,628.7 434.8,632.5 435.0,633.4 435.1,636.5 435.3,637.8 435.4,641.1 435.6,641.9 435.7,645.5 435.9,646.5 436.1,650.3 436.3,651.1 436.6,654.8 436.8,655.9 437.0,659.6 437.2,661.0 437.4,664.5 437.6,665.4 437.8,669.2 437.9,670.5 438.4,674.8 438.8,676.3 439.3,674.6 439.7,670.2 440.1,668.5 440.6,664.4 440.8,663.2 440.9,659.8 441.1,658.3 441.3,654.8 441.5,653.7 441.6,650.2 441.6,649.2 441.7,646.2 441.8,645.0 441.9,641.5 442.0,641.0 442.0,637.2 442.1,636.5 442.2,633.3 442.3,632.2 442.4,629.0 442.5,627.7 442.5,624.6 442.6,623.7 442.7,620.7 442.8,619.7 442.9,616.1 443.0,615.8 443.1,612.2 443.2,611.2 443.3,607.9 443.4,607.0 443.5,603.8 443.6,602.8 443.8,599.3 443.9,598.8 444.0,595.4 444.1,594.4 444.2,595.3 444.3,599.0 444.4,599.6 444.5,602.8 444.6,603.8 444.7,607.4 444.7,608.1 444.8,611.4 444.8,611.9 444.8,615.3 444.8,616.0 444.9,619.4 444.9,620.4 444.9,623.2 445.0,624.0 445.0,627.5 445.0,628.3 445.0,631.8 445.1,632.3 445.1,635.6 445.1,636.5 445.1,639.8 445.2,640.5 445.2,643.7 445.2,644.3 445.2,647.8 445.3,648.7 445.3,651.6 445.3,652.4 445.4,656.1 445.4,657.0 445.5,660.5 445.5,661.3 445.6,664.4 445.7,665.7 445.7,668.8 445.8,669.7 445.8,673.4 445.9,674.2 445.9,677.6 446.3,678.4 446.7,681.5 447.1,682.3 448.3,680.4 449.5,680.9 451.0,683.5 452.4,680.9 453.9,679.1 455.4,676.3 456.9,676.0 458.4,673.2 459.9,676.0 461.3,673.1 462.8,677.7 464.3,674.9 465.0,673.7 465.8,670.1 466.1,669.1 466.5,665.9 466.9,664.8 467.3,661.2 467.4,660.3 467.5,657.0 467.6,656.3 467.7,652.7 467.8,651.6 467.9,648.2 468.0,647.5 468.1,644.0 468.2,643.4 468.3,639.9 468.4,639.1 468.6,635.5 468.8,634.6 468.9,631.2 469.1,630.5 469.3,627.0 469.5,626.3 469.6,622.7 470.8,626.9 472.0,628.8 473.2,632.8 474.7,634.6 476.1,633.2 477.6,634.6 478.1,637.7 478.6,638.7 479.1,641.9 479.4,643.2 479.7,646.5 480.0,647.5 480.3,651.6 480.6,652.7 480.7,656.2 480.8,656.9 480.9,660.4 481.0,661.3 481.1,664.7 481.3,666.0 481.4,669.1 481.5,670.2 481.5,669.5 481.6,666.0 481.6,665.3 481.7,662.0 481.7,661.0 481.8,657.6 481.8,656.8 481.9,653.5 482.0,652.9 482.0,649.4 482.1,648.7 482.1,645.4 482.2,644.2 482.2,640.8 482.3,640.0 482.3,637.1 482.4,635.7 482.4,632.5 482.4,631.6 482.5,628.5 482.5,627.6 482.5,624.1 482.6,623.4 482.6,620.1 482.6,619.0 482.7,615.8 482.7,615.2 482.8,611.7 482.8,611.1 482.8,607.5 482.9,606.8 482.9,603.2 482.9,602.6 483.0,599.4 483.2,598.2 483.4,594.1 483.6,593.0 483.8,589.7 484.0,588.3 484.2,585.0 484.4,583.6 484.6,580.2 484.8,578.7 485.0,575.5 485.2,574.1 485.4,570.6 485.6,569.5 485.8,565.9 486.0,564.4 486.3,560.6 486.5,559.9 486.8,555.8 486.9,554.8 487.0,551.5 487.2,550.5 487.3,547.1 487.4,545.8 487.5,542.6 487.7,541.8 487.8,538.0 487.9,537.3 487.9,533.5 488.0,532.8 488.1,528.9 488.2,528.3 488.3,524.4 488.4,523.5 488.5,520.0 488.5,519.2 488.6,515.4 488.7,514.7 488.8,511.1 488.9,509.9 489.0,506.6 489.1,505.2 489.2,501.5 489.3,500.5 489.4,496.8 490.1,499.9 490.2,500.7 490.3,504.3 490.4,505.6 490.5,509.0 490.6,510.0 490.7,513.2 490.7,514.5 490.9,518.1 491.1,519.9 491.3,523.5 491.7,520.6 492.1,519.4 492.3,515.9 492.4,515.0 492.6,510.8 492.7,509.7 492.9,505.8 493.0,504.6 493.2,501.3 493.3,499.6 493.5,496.4 493.6,495.0 493.8,491.1 493.9,490.0 494.2,485.6 494.5,484.1 494.7,485.2 494.9,489.4 495.1,490.7 495.2,494.1 495.3,495.4 495.4,498.9 495.5,499.8 495.6,503.4 495.7,504.7 495.8,508.3 495.9,509.4 496.0,512.7 496.1,513.9 496.2,517.4 496.3,518.3 496.4,517.0 496.6,513.3 496.7,512.2 496.9,508.6 497.0,507.7 497.1,503.7 497.2,502.8 497.3,499.2 497.4,498.0 497.5,494.7 497.6,493.3 497.7,489.9 497.8,489.1 497.9,485.1 498.1,483.8 498.3,480.2 498.6,478.8 498.8,475.0 499.6,475.0 500.4,476.0 501.2,476.2 501.6,477.1 502.0,480.2 502.8,477.0 503.2,480.0 503.6,481.1 504.4,484.0 504.8,484.6 505.2,487.9 505.6,490.0 505.9,493.9 506.3,489.5 506.7,487.8 507.0,484.2 507.3,482.6 507.5,478.8 507.9,477.2 508.3,473.2 508.5,471.9 508.6,468.1 508.8,466.9 508.9,463.1 509.2,461.6 509.5,457.4 510.1,462.2 510.3,463.8 510.5,467.5 510.7,468.8 511.0,473.2 511.3,475.0 511.9,480.1 513.5,477.5" fill="none" stroke="#111" stroke-width="2.2" stroke-dasharray="3.6 2.6" stroke-linejoin="round"/>
</g>
<rect x="61.6" y="440.2" width="449.90" height="301.80" fill="none" stroke="#555" stroke-width="1"/>
<line x1="76.00" x2="76.00" y1="742.0" y2="738.5" stroke="#555" stroke-width="1"/>
<line x1="76.00" x2="76.00" y1="440.2" y2="443.7" stroke="#555" stroke-width="1"/>
<text x="0" y="0" transform="translate(77.10,752.60) rotate(-45)" text-anchor="middle" dominant-baseline="central" font-size="10.5">02</text>
<line x1="96.13" x2="96.13" y1="742.0" y2="738.5" stroke="#555" stroke-width="1"/>
<line x1="96.13" x2="96.13" y1="440.2" y2="443.7" stroke="#555" stroke-width="1"/>
<text x="0" y="0" transform="translate(97.23,752.60) rotate(-45)" text-anchor="middle" dominant-baseline="central" font-size="10.5">03</text>
<line x1="116.26" x2="116.26" y1="742.0" y2="738.5" stroke="#555" stroke-width="1"/>
<line x1="116.26" x2="116.26" y1="440.2" y2="443.7" stroke="#555" stroke-width="1"/>
<text x="0" y="0" transform="translate(117.36,752.60) rotate(-45)" text-anchor="middle" dominant-baseline="central" font-size="10.5">04</text>
<line x1="136.39" x2="136.39" y1="742.0" y2="738.5" stroke="#555" stroke-width="1"/>
<line x1="136.39" x2="136.39" y1="440.2" y2="443.7" stroke="#555" stroke-width="1"/>
<text x="0" y="0" transform="translate(137.49,752.60) rotate(-45)" text-anchor="middle" dominant-baseline="central" font-size="10.5">05</text>
<line x1="156.52" x2="156.52" y1="742.0" y2="738.5" stroke="#555" stroke-width="1"/>
<line x1="156.52" x2="156.52" y1="440.2" y2="443.7" stroke="#555" stroke-width="1"/>
<text x="0" y="0" transform="translate(157.62,752.60) rotate(-45)" text-anchor="middle" dominant-baseline="central" font-size="10.5">06</text>
<line x1="176.65" x2="176.65" y1="742.0" y2="738.5" stroke="#555" stroke-width="1"/>
<line x1="176.65" x2="176.65" y1="440.2" y2="443.7" stroke="#555" stroke-width="1"/>
<text x="0" y="0" transform="translate(177.75,752.60) rotate(-45)" text-anchor="middle" dominant-baseline="central" font-size="10.5">07</text>
<line x1="196.78" x2="196.78" y1="742.0" y2="738.5" stroke="#555" stroke-width="1"/>
<line x1="196.78" x2="196.78" y1="440.2" y2="443.7" stroke="#555" stroke-width="1"/>
<text x="0" y="0" transform="translate(197.88,752.60) rotate(-45)" text-anchor="middle" dominant-baseline="central" font-size="10.5">08</text>
<line x1="216.91" x2="216.91" y1="742.0" y2="738.5" stroke="#555" stroke-width="1"/>
<line x1="216.91" x2="216.91" y1="440.2" y2="443.7" stroke="#555" stroke-width="1"/>
<text x="0" y="0" transform="translate(218.01,752.60) rotate(-45)" text-anchor="middle" dominant-baseline="central" font-size="10.5">09</text>
<line x1="237.04" x2="237.04" y1="742.0" y2="738.5" stroke="#555" stroke-width="1"/>
<line x1="237.04" x2="237.04" y1="440.2" y2="443.7" stroke="#555" stroke-width="1"/>
<text x="0" y="0" transform="translate(238.14,752.60) rotate(-45)" text-anchor="middle" dominant-baseline="central" font-size="10.5">10</text>
<line x1="257.17" x2="257.17" y1="742.0" y2="738.5" stroke="#555" stroke-width="1"/>
<line x1="257.17" x2="257.17" y1="440.2" y2="443.7" stroke="#555" stroke-width="1"/>
<text x="0" y="0" transform="translate(258.27,752.60) rotate(-45)" text-anchor="middle" dominant-baseline="central" font-size="10.5">11</text>
<line x1="277.30" x2="277.30" y1="742.0" y2="738.5" stroke="#555" stroke-width="1"/>
<line x1="277.30" x2="277.30" y1="440.2" y2="443.7" stroke="#555" stroke-width="1"/>
<text x="0" y="0" transform="translate(278.40,752.60) rotate(-45)" text-anchor="middle" dominant-baseline="central" font-size="10.5">12</text>
<line x1="297.43" x2="297.43" y1="742.0" y2="738.5" stroke="#555" stroke-width="1"/>
<line x1="297.43" x2="297.43" y1="440.2" y2="443.7" stroke="#555" stroke-width="1"/>
<text x="0" y="0" transform="translate(298.53,752.60) rotate(-45)" text-anchor="middle" dominant-baseline="central" font-size="10.5">13</text>
<line x1="317.56" x2="317.56" y1="742.0" y2="738.5" stroke="#555" stroke-width="1"/>
<line x1="317.56" x2="317.56" y1="440.2" y2="443.7" stroke="#555" stroke-width="1"/>
<text x="0" y="0" transform="translate(318.66,752.60) rotate(-45)" text-anchor="middle" dominant-baseline="central" font-size="10.5">14</text>
<line x1="337.69" x2="337.69" y1="742.0" y2="738.5" stroke="#555" stroke-width="1"/>
<line x1="337.69" x2="337.69" y1="440.2" y2="443.7" stroke="#555" stroke-width="1"/>
<text x="0" y="0" transform="translate(338.79,752.60) rotate(-45)" text-anchor="middle" dominant-baseline="central" font-size="10.5">15</text>
<line x1="357.82" x2="357.82" y1="742.0" y2="738.5" stroke="#555" stroke-width="1"/>
<line x1="357.82" x2="357.82" y1="440.2" y2="443.7" stroke="#555" stroke-width="1"/>
<text x="0" y="0" transform="translate(358.92,752.60) rotate(-45)" text-anchor="middle" dominant-baseline="central" font-size="10.5">16</text>
<line x1="377.95" x2="377.95" y1="742.0" y2="738.5" stroke="#555" stroke-width="1"/>
<line x1="377.95" x2="377.95" y1="440.2" y2="443.7" stroke="#555" stroke-width="1"/>
<text x="0" y="0" transform="translate(379.05,752.60) rotate(-45)" text-anchor="middle" dominant-baseline="central" font-size="10.5">17</text>
<line x1="398.08" x2="398.08" y1="742.0" y2="738.5" stroke="#555" stroke-width="1"/>
<line x1="398.08" x2="398.08" y1="440.2" y2="443.7" stroke="#555" stroke-width="1"/>
<text x="0" y="0" transform="translate(399.18,752.60) rotate(-45)" text-anchor="middle" dominant-baseline="central" font-size="10.5">18</text>
<line x1="418.21" x2="418.21" y1="742.0" y2="738.5" stroke="#555" stroke-width="1"/>
<line x1="418.21" x2="418.21" y1="440.2" y2="443.7" stroke="#555" stroke-width="1"/>
<text x="0" y="0" transform="translate(419.31,752.60) rotate(-45)" text-anchor="middle" dominant-baseline="central" font-size="10.5">19</text>
<line x1="438.34" x2="438.34" y1="742.0" y2="738.5" stroke="#555" stroke-width="1"/>
<line x1="438.34" x2="438.34" y1="440.2" y2="443.7" stroke="#555" stroke-width="1"/>
<text x="0" y="0" transform="translate(439.44,752.60) rotate(-45)" text-anchor="middle" dominant-baseline="central" font-size="10.5">20</text>
<line x1="458.47" x2="458.47" y1="742.0" y2="738.5" stroke="#555" stroke-width="1"/>
<line x1="458.47" x2="458.47" y1="440.2" y2="443.7" stroke="#555" stroke-width="1"/>
<text x="0" y="0" transform="translate(459.57,752.60) rotate(-45)" text-anchor="middle" dominant-baseline="central" font-size="10.5">21</text>
<line x1="478.60" x2="478.60" y1="742.0" y2="738.5" stroke="#555" stroke-width="1"/>
<line x1="478.60" x2="478.60" y1="440.2" y2="443.7" stroke="#555" stroke-width="1"/>
<text x="0" y="0" transform="translate(479.70,752.60) rotate(-45)" text-anchor="middle" dominant-baseline="central" font-size="10.5">22</text>
<line x1="498.73" x2="498.73" y1="742.0" y2="738.5" stroke="#555" stroke-width="1"/>
<line x1="498.73" x2="498.73" y1="440.2" y2="443.7" stroke="#555" stroke-width="1"/>
<text x="0" y="0" transform="translate(499.83,752.60) rotate(-45)" text-anchor="middle" dominant-baseline="central" font-size="10.5">23</text>
<line x1="61.6" x2="65.1" y1="742.00" y2="742.00" stroke="#555" stroke-width="1"/>
<line x1="511.5" x2="508.0" y1="742.00" y2="742.00" stroke="#555" stroke-width="1"/>
<text x="59.10" y="746.30" text-anchor="end" class="yl">0</text>
<line x1="61.6" x2="65.1" y1="698.88" y2="698.88" stroke="#555" stroke-width="1"/>
<line x1="511.5" x2="508.0" y1="698.88" y2="698.88" stroke="#555" stroke-width="1"/>
<text x="59.10" y="703.18" text-anchor="end" class="yl">5</text>
<line x1="61.6" x2="65.1" y1="655.77" y2="655.77" stroke="#555" stroke-width="1"/>
<line x1="511.5" x2="508.0" y1="655.77" y2="655.77" stroke="#555" stroke-width="1"/>
<text x="59.10" y="660.07" text-anchor="end" class="yl">10</text>
<line x1="61.6" x2="65.1" y1="612.65" y2="612.65" stroke="#555" stroke-width="1"/>
<line x1="511.5" x2="508.0" y1="612.65" y2="612.65" stroke="#555" stroke-width="1"/>
<text x="59.10" y="616.95" text-anchor="end" class="yl">15</text>
<line x1="61.6" x2="65.1" y1="569.54" y2="569.54" stroke="#555" stroke-width="1"/>
<line x1="511.5" x2="508.0" y1="569.54" y2="569.54" stroke="#555" stroke-width="1"/>
<text x="59.10" y="573.84" text-anchor="end" class="yl">20</text>
<line x1="61.6" x2="65.1" y1="526.42" y2="526.42" stroke="#555" stroke-width="1"/>
<line x1="511.5" x2="508.0" y1="526.42" y2="526.42" stroke="#555" stroke-width="1"/>
<text x="59.10" y="530.72" text-anchor="end" class="yl">25</text>
<line x1="61.6" x2="65.1" y1="483.31" y2="483.31" stroke="#555" stroke-width="1"/>
<line x1="511.5" x2="508.0" y1="483.31" y2="483.31" stroke="#555" stroke-width="1"/>
<text x="59.10" y="487.61" text-anchor="end" class="yl">30</text>
<line x1="61.6" x2="65.1" y1="440.20" y2="440.20" stroke="#555" stroke-width="1"/>
<line x1="511.5" x2="508.0" y1="440.20" y2="440.20" stroke="#555" stroke-width="1"/>
<text x="59.10" y="444.50" text-anchor="end" class="yl">35</text>
<line x1="78" x2="119" y1="31.5" y2="31.5" stroke="#1a1aff" stroke-width="1.8"/>
<line x1="78" x2="119" y1="45" y2="45" stroke="#ff2020" stroke-width="1.5" stroke-dasharray="1.2 1.2"/>
<line x1="78" x2="119" y1="58" y2="58" stroke="#111" stroke-width="1.8" stroke-dasharray="6.5 4.5"/>
<text transform="translate(122.6,35.5) scale(1,1.0)" class="lg">Forward</text>
<text transform="translate(122.6,48.7) scale(1,1.0)" class="lg">Rolling</text>
<text transform="translate(122.6,61.8) scale(1,1.0)" class="lg">Recrusive</text>
<line x1="76.5" x2="117.5" y1="456.2" y2="456.2" stroke="#1a1aff" stroke-width="1.8"/>
<line x1="76.5" x2="117.5" y1="467.6" y2="467.6" stroke="#ff2020" stroke-width="1.5" stroke-dasharray="1.2 1.2"/>
<line x1="76.5" x2="117.5" y1="479.3" y2="479.3" stroke="#111" stroke-width="1.8" stroke-dasharray="4.5 5.5"/>
<text transform="translate(120.7,460) scale(1,0.88)" class="lg">Forward</text>
<text transform="translate(120.7,471) scale(1,0.88)" class="lg">Rolling</text>
<text transform="translate(120.7,482.7) scale(1,0.88)" class="lg">Recrusive</text>
<text x="272" y="397.7" textLength="29.5" lengthAdjust="spacingAndGlyphs" class="ax">Years</text>
<text x="271.8" y="769.8" textLength="28.8" lengthAdjust="spacingAndGlyphs" class="ax">Years</text>
<text transform="translate(44.6,222.5) rotate(-90)" textLength="68.3" lengthAdjust="spacingAndGlyphs" class="ax">Test Statistic</text>
<text transform="translate(42.8,618.5) rotate(-90)" textLength="55.8" lengthAdjust="spacingAndGlyphs" class="ax">Test Statistic</text>
<text x="274" y="423.6" text-anchor="middle" class="cap" font-size="13.6">(<tspan font-weight="bold">b</tspan>)</text>
<text x="274.3" y="795" text-anchor="middle" class="cap" font-size="13.2">(<tspan font-weight="bold">c</tspan>)</text>
</svg>
</body></html>
